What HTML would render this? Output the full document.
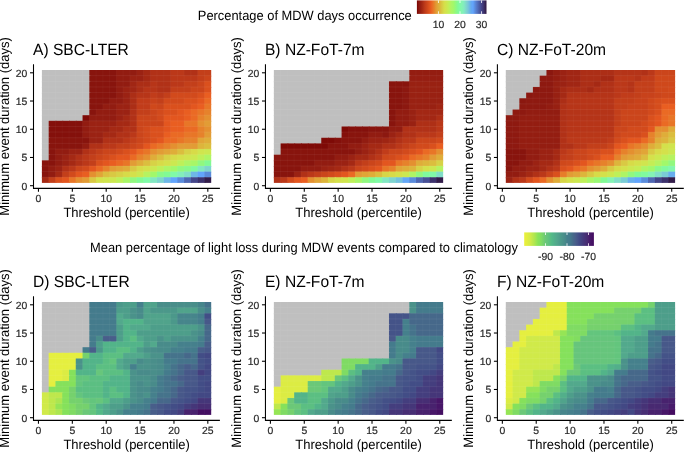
<!DOCTYPE html><html><head><meta charset="utf-8"><style>html,body{margin:0;padding:0;background:#fff;width:685px;height:452px;overflow:hidden}svg{display:block;will-change:transform}text{text-rendering:geometricPrecision;font-family:"Liberation Sans",sans-serif}</style></head><body>
<svg width="685" height="452" viewBox="0 0 685 452">
<g>
<rect x="41.90" y="70.00" width="7.77" height="6.64" fill="#bfbfbf"/>
<rect x="48.67" y="70.00" width="7.77" height="6.64" fill="#bfbfbf"/>
<rect x="55.44" y="70.00" width="7.77" height="6.64" fill="#bfbfbf"/>
<rect x="62.22" y="70.00" width="7.77" height="6.64" fill="#bfbfbf"/>
<rect x="68.99" y="70.00" width="7.77" height="6.64" fill="#bfbfbf"/>
<rect x="75.76" y="70.00" width="7.77" height="6.64" fill="#bfbfbf"/>
<rect x="82.53" y="70.00" width="7.77" height="6.64" fill="#bfbfbf"/>
<rect x="89.30" y="70.00" width="7.77" height="6.64" fill="#88140d"/>
<rect x="96.08" y="70.00" width="7.77" height="6.64" fill="#88140d"/>
<rect x="102.85" y="70.00" width="7.77" height="6.64" fill="#88140d"/>
<rect x="109.62" y="70.00" width="7.77" height="6.64" fill="#88140d"/>
<rect x="116.39" y="70.00" width="7.77" height="6.64" fill="#921c11"/>
<rect x="123.16" y="70.00" width="7.77" height="6.64" fill="#921c11"/>
<rect x="129.94" y="70.00" width="7.77" height="6.64" fill="#921c11"/>
<rect x="136.71" y="70.00" width="7.77" height="6.64" fill="#9b2213"/>
<rect x="143.48" y="70.00" width="7.77" height="6.64" fill="#a52914"/>
<rect x="150.25" y="70.00" width="7.77" height="6.64" fill="#b13117"/>
<rect x="157.02" y="70.00" width="7.77" height="6.64" fill="#b13117"/>
<rect x="163.80" y="70.00" width="7.77" height="6.64" fill="#b13117"/>
<rect x="170.57" y="70.00" width="7.77" height="6.64" fill="#bb3819"/>
<rect x="177.34" y="70.00" width="7.77" height="6.64" fill="#bb3819"/>
<rect x="184.11" y="70.00" width="7.77" height="6.64" fill="#b13117"/>
<rect x="190.88" y="70.00" width="7.77" height="6.64" fill="#b13117"/>
<rect x="197.66" y="70.00" width="7.77" height="6.64" fill="#c33f1a"/>
<rect x="204.43" y="70.00" width="6.77" height="6.64" fill="#c33f1a"/>
<rect x="41.90" y="75.64" width="7.77" height="6.64" fill="#bfbfbf"/>
<rect x="48.67" y="75.64" width="7.77" height="6.64" fill="#bfbfbf"/>
<rect x="55.44" y="75.64" width="7.77" height="6.64" fill="#bfbfbf"/>
<rect x="62.22" y="75.64" width="7.77" height="6.64" fill="#bfbfbf"/>
<rect x="68.99" y="75.64" width="7.77" height="6.64" fill="#bfbfbf"/>
<rect x="75.76" y="75.64" width="7.77" height="6.64" fill="#bfbfbf"/>
<rect x="82.53" y="75.64" width="7.77" height="6.64" fill="#bfbfbf"/>
<rect x="89.30" y="75.64" width="7.77" height="6.64" fill="#88140d"/>
<rect x="96.08" y="75.64" width="7.77" height="6.64" fill="#88140d"/>
<rect x="102.85" y="75.64" width="7.77" height="6.64" fill="#88140d"/>
<rect x="109.62" y="75.64" width="7.77" height="6.64" fill="#88140d"/>
<rect x="116.39" y="75.64" width="7.77" height="6.64" fill="#921c11"/>
<rect x="123.16" y="75.64" width="7.77" height="6.64" fill="#921c11"/>
<rect x="129.94" y="75.64" width="7.77" height="6.64" fill="#9b2213"/>
<rect x="136.71" y="75.64" width="7.77" height="6.64" fill="#9b2213"/>
<rect x="143.48" y="75.64" width="7.77" height="6.64" fill="#a52914"/>
<rect x="150.25" y="75.64" width="7.77" height="6.64" fill="#b13117"/>
<rect x="157.02" y="75.64" width="7.77" height="6.64" fill="#b13117"/>
<rect x="163.80" y="75.64" width="7.77" height="6.64" fill="#b13117"/>
<rect x="170.57" y="75.64" width="7.77" height="6.64" fill="#bb3819"/>
<rect x="177.34" y="75.64" width="7.77" height="6.64" fill="#bb3819"/>
<rect x="184.11" y="75.64" width="7.77" height="6.64" fill="#bb3819"/>
<rect x="190.88" y="75.64" width="7.77" height="6.64" fill="#bb3819"/>
<rect x="197.66" y="75.64" width="7.77" height="6.64" fill="#c33f1a"/>
<rect x="204.43" y="75.64" width="6.77" height="6.64" fill="#cb451b"/>
<rect x="41.90" y="81.29" width="7.77" height="6.64" fill="#bfbfbf"/>
<rect x="48.67" y="81.29" width="7.77" height="6.64" fill="#bfbfbf"/>
<rect x="55.44" y="81.29" width="7.77" height="6.64" fill="#bfbfbf"/>
<rect x="62.22" y="81.29" width="7.77" height="6.64" fill="#bfbfbf"/>
<rect x="68.99" y="81.29" width="7.77" height="6.64" fill="#bfbfbf"/>
<rect x="75.76" y="81.29" width="7.77" height="6.64" fill="#bfbfbf"/>
<rect x="82.53" y="81.29" width="7.77" height="6.64" fill="#bfbfbf"/>
<rect x="89.30" y="81.29" width="7.77" height="6.64" fill="#88140d"/>
<rect x="96.08" y="81.29" width="7.77" height="6.64" fill="#88140d"/>
<rect x="102.85" y="81.29" width="7.77" height="6.64" fill="#88140d"/>
<rect x="109.62" y="81.29" width="7.77" height="6.64" fill="#88140d"/>
<rect x="116.39" y="81.29" width="7.77" height="6.64" fill="#921c11"/>
<rect x="123.16" y="81.29" width="7.77" height="6.64" fill="#921c11"/>
<rect x="129.94" y="81.29" width="7.77" height="6.64" fill="#a12614"/>
<rect x="136.71" y="81.29" width="7.77" height="6.64" fill="#ac2e16"/>
<rect x="143.48" y="81.29" width="7.77" height="6.64" fill="#ac2e16"/>
<rect x="150.25" y="81.29" width="7.77" height="6.64" fill="#b73518"/>
<rect x="157.02" y="81.29" width="7.77" height="6.64" fill="#b13117"/>
<rect x="163.80" y="81.29" width="7.77" height="6.64" fill="#b13117"/>
<rect x="170.57" y="81.29" width="7.77" height="6.64" fill="#bb3819"/>
<rect x="177.34" y="81.29" width="7.77" height="6.64" fill="#bb3819"/>
<rect x="184.11" y="81.29" width="7.77" height="6.64" fill="#c33f1a"/>
<rect x="190.88" y="81.29" width="7.77" height="6.64" fill="#c33f1a"/>
<rect x="197.66" y="81.29" width="7.77" height="6.64" fill="#cb451b"/>
<rect x="204.43" y="81.29" width="6.77" height="6.64" fill="#da501d"/>
<rect x="41.90" y="86.94" width="7.77" height="6.64" fill="#bfbfbf"/>
<rect x="48.67" y="86.94" width="7.77" height="6.64" fill="#bfbfbf"/>
<rect x="55.44" y="86.94" width="7.77" height="6.64" fill="#bfbfbf"/>
<rect x="62.22" y="86.94" width="7.77" height="6.64" fill="#bfbfbf"/>
<rect x="68.99" y="86.94" width="7.77" height="6.64" fill="#bfbfbf"/>
<rect x="75.76" y="86.94" width="7.77" height="6.64" fill="#bfbfbf"/>
<rect x="82.53" y="86.94" width="7.77" height="6.64" fill="#bfbfbf"/>
<rect x="89.30" y="86.94" width="7.77" height="6.64" fill="#88140d"/>
<rect x="96.08" y="86.94" width="7.77" height="6.64" fill="#88140d"/>
<rect x="102.85" y="86.94" width="7.77" height="6.64" fill="#88140d"/>
<rect x="109.62" y="86.94" width="7.77" height="6.64" fill="#88140d"/>
<rect x="116.39" y="86.94" width="7.77" height="6.64" fill="#921c11"/>
<rect x="123.16" y="86.94" width="7.77" height="6.64" fill="#9b2213"/>
<rect x="129.94" y="86.94" width="7.77" height="6.64" fill="#a12614"/>
<rect x="136.71" y="86.94" width="7.77" height="6.64" fill="#ac2e16"/>
<rect x="143.48" y="86.94" width="7.77" height="6.64" fill="#b73518"/>
<rect x="150.25" y="86.94" width="7.77" height="6.64" fill="#b73518"/>
<rect x="157.02" y="86.94" width="7.77" height="6.64" fill="#b13117"/>
<rect x="163.80" y="86.94" width="7.77" height="6.64" fill="#b13117"/>
<rect x="170.57" y="86.94" width="7.77" height="6.64" fill="#c33f1a"/>
<rect x="177.34" y="86.94" width="7.77" height="6.64" fill="#c33f1a"/>
<rect x="184.11" y="86.94" width="7.77" height="6.64" fill="#c33f1a"/>
<rect x="190.88" y="86.94" width="7.77" height="6.64" fill="#cb451b"/>
<rect x="197.66" y="86.94" width="7.77" height="6.64" fill="#cb451b"/>
<rect x="204.43" y="86.94" width="6.77" height="6.64" fill="#da501d"/>
<rect x="41.90" y="92.58" width="7.77" height="6.64" fill="#bfbfbf"/>
<rect x="48.67" y="92.58" width="7.77" height="6.64" fill="#bfbfbf"/>
<rect x="55.44" y="92.58" width="7.77" height="6.64" fill="#bfbfbf"/>
<rect x="62.22" y="92.58" width="7.77" height="6.64" fill="#bfbfbf"/>
<rect x="68.99" y="92.58" width="7.77" height="6.64" fill="#bfbfbf"/>
<rect x="75.76" y="92.58" width="7.77" height="6.64" fill="#bfbfbf"/>
<rect x="82.53" y="92.58" width="7.77" height="6.64" fill="#bfbfbf"/>
<rect x="89.30" y="92.58" width="7.77" height="6.64" fill="#88140d"/>
<rect x="96.08" y="92.58" width="7.77" height="6.64" fill="#88140d"/>
<rect x="102.85" y="92.58" width="7.77" height="6.64" fill="#88140d"/>
<rect x="109.62" y="92.58" width="7.77" height="6.64" fill="#88140d"/>
<rect x="116.39" y="92.58" width="7.77" height="6.64" fill="#921c11"/>
<rect x="123.16" y="92.58" width="7.77" height="6.64" fill="#9b2213"/>
<rect x="129.94" y="92.58" width="7.77" height="6.64" fill="#ac2e16"/>
<rect x="136.71" y="92.58" width="7.77" height="6.64" fill="#b73518"/>
<rect x="143.48" y="92.58" width="7.77" height="6.64" fill="#b73518"/>
<rect x="150.25" y="92.58" width="7.77" height="6.64" fill="#c13c1a"/>
<rect x="157.02" y="92.58" width="7.77" height="6.64" fill="#bb3819"/>
<rect x="163.80" y="92.58" width="7.77" height="6.64" fill="#c33f1a"/>
<rect x="170.57" y="92.58" width="7.77" height="6.64" fill="#d24a1c"/>
<rect x="177.34" y="92.58" width="7.77" height="6.64" fill="#d24a1c"/>
<rect x="184.11" y="92.58" width="7.77" height="6.64" fill="#d24a1c"/>
<rect x="190.88" y="92.58" width="7.77" height="6.64" fill="#d24a1c"/>
<rect x="197.66" y="92.58" width="7.77" height="6.64" fill="#da501d"/>
<rect x="204.43" y="92.58" width="6.77" height="6.64" fill="#e95e21"/>
<rect x="41.90" y="98.22" width="7.77" height="6.64" fill="#bfbfbf"/>
<rect x="48.67" y="98.22" width="7.77" height="6.64" fill="#bfbfbf"/>
<rect x="55.44" y="98.22" width="7.77" height="6.64" fill="#bfbfbf"/>
<rect x="62.22" y="98.22" width="7.77" height="6.64" fill="#bfbfbf"/>
<rect x="68.99" y="98.22" width="7.77" height="6.64" fill="#bfbfbf"/>
<rect x="75.76" y="98.22" width="7.77" height="6.64" fill="#bfbfbf"/>
<rect x="82.53" y="98.22" width="7.77" height="6.64" fill="#bfbfbf"/>
<rect x="89.30" y="98.22" width="7.77" height="6.64" fill="#88140d"/>
<rect x="96.08" y="98.22" width="7.77" height="6.64" fill="#88140d"/>
<rect x="102.85" y="98.22" width="7.77" height="6.64" fill="#88140d"/>
<rect x="109.62" y="98.22" width="7.77" height="6.64" fill="#921c11"/>
<rect x="116.39" y="98.22" width="7.77" height="6.64" fill="#921c11"/>
<rect x="123.16" y="98.22" width="7.77" height="6.64" fill="#9b2213"/>
<rect x="129.94" y="98.22" width="7.77" height="6.64" fill="#ac2e16"/>
<rect x="136.71" y="98.22" width="7.77" height="6.64" fill="#c13c1a"/>
<rect x="143.48" y="98.22" width="7.77" height="6.64" fill="#c13c1a"/>
<rect x="150.25" y="98.22" width="7.77" height="6.64" fill="#c8421b"/>
<rect x="157.02" y="98.22" width="7.77" height="6.64" fill="#c33f1a"/>
<rect x="163.80" y="98.22" width="7.77" height="6.64" fill="#d24a1c"/>
<rect x="170.57" y="98.22" width="7.77" height="6.64" fill="#d24a1c"/>
<rect x="177.34" y="98.22" width="7.77" height="6.64" fill="#d24a1c"/>
<rect x="184.11" y="98.22" width="7.77" height="6.64" fill="#da501d"/>
<rect x="190.88" y="98.22" width="7.77" height="6.64" fill="#da501d"/>
<rect x="197.66" y="98.22" width="7.77" height="6.64" fill="#e3561f"/>
<rect x="204.43" y="98.22" width="6.77" height="6.64" fill="#ea6a24"/>
<rect x="41.90" y="103.87" width="7.77" height="6.64" fill="#bfbfbf"/>
<rect x="48.67" y="103.87" width="7.77" height="6.64" fill="#bfbfbf"/>
<rect x="55.44" y="103.87" width="7.77" height="6.64" fill="#bfbfbf"/>
<rect x="62.22" y="103.87" width="7.77" height="6.64" fill="#bfbfbf"/>
<rect x="68.99" y="103.87" width="7.77" height="6.64" fill="#bfbfbf"/>
<rect x="75.76" y="103.87" width="7.77" height="6.64" fill="#bfbfbf"/>
<rect x="82.53" y="103.87" width="7.77" height="6.64" fill="#bfbfbf"/>
<rect x="89.30" y="103.87" width="7.77" height="6.64" fill="#88140d"/>
<rect x="96.08" y="103.87" width="7.77" height="6.64" fill="#88140d"/>
<rect x="102.85" y="103.87" width="7.77" height="6.64" fill="#921c11"/>
<rect x="109.62" y="103.87" width="7.77" height="6.64" fill="#921c11"/>
<rect x="116.39" y="103.87" width="7.77" height="6.64" fill="#9b2213"/>
<rect x="123.16" y="103.87" width="7.77" height="6.64" fill="#9b2213"/>
<rect x="129.94" y="103.87" width="7.77" height="6.64" fill="#ac2e16"/>
<rect x="136.71" y="103.87" width="7.77" height="6.64" fill="#c13c1a"/>
<rect x="143.48" y="103.87" width="7.77" height="6.64" fill="#c13c1a"/>
<rect x="150.25" y="103.87" width="7.77" height="6.64" fill="#cf481b"/>
<rect x="157.02" y="103.87" width="7.77" height="6.64" fill="#cb451b"/>
<rect x="163.80" y="103.87" width="7.77" height="6.64" fill="#da501d"/>
<rect x="170.57" y="103.87" width="7.77" height="6.64" fill="#da501d"/>
<rect x="177.34" y="103.87" width="7.77" height="6.64" fill="#da501d"/>
<rect x="184.11" y="103.87" width="7.77" height="6.64" fill="#da501d"/>
<rect x="190.88" y="103.87" width="7.77" height="6.64" fill="#e3561f"/>
<rect x="197.66" y="103.87" width="7.77" height="6.64" fill="#e95e21"/>
<rect x="204.43" y="103.87" width="6.77" height="6.64" fill="#e87627"/>
<rect x="41.90" y="109.52" width="7.77" height="6.64" fill="#bfbfbf"/>
<rect x="48.67" y="109.52" width="7.77" height="6.64" fill="#bfbfbf"/>
<rect x="55.44" y="109.52" width="7.77" height="6.64" fill="#bfbfbf"/>
<rect x="62.22" y="109.52" width="7.77" height="6.64" fill="#bfbfbf"/>
<rect x="68.99" y="109.52" width="7.77" height="6.64" fill="#bfbfbf"/>
<rect x="75.76" y="109.52" width="7.77" height="6.64" fill="#bfbfbf"/>
<rect x="82.53" y="109.52" width="7.77" height="6.64" fill="#bfbfbf"/>
<rect x="89.30" y="109.52" width="7.77" height="6.64" fill="#88140d"/>
<rect x="96.08" y="109.52" width="7.77" height="6.64" fill="#921c11"/>
<rect x="102.85" y="109.52" width="7.77" height="6.64" fill="#921c11"/>
<rect x="109.62" y="109.52" width="7.77" height="6.64" fill="#921c11"/>
<rect x="116.39" y="109.52" width="7.77" height="6.64" fill="#9b2213"/>
<rect x="123.16" y="109.52" width="7.77" height="6.64" fill="#9b2213"/>
<rect x="129.94" y="109.52" width="7.77" height="6.64" fill="#b13117"/>
<rect x="136.71" y="109.52" width="7.77" height="6.64" fill="#c33f1a"/>
<rect x="143.48" y="109.52" width="7.77" height="6.64" fill="#c33f1a"/>
<rect x="150.25" y="109.52" width="7.77" height="6.64" fill="#cb451b"/>
<rect x="157.02" y="109.52" width="7.77" height="6.64" fill="#d24a1c"/>
<rect x="163.80" y="109.52" width="7.77" height="6.64" fill="#da501d"/>
<rect x="170.57" y="109.52" width="7.77" height="6.64" fill="#da501d"/>
<rect x="177.34" y="109.52" width="7.77" height="6.64" fill="#e3561f"/>
<rect x="184.11" y="109.52" width="7.77" height="6.64" fill="#e95e21"/>
<rect x="190.88" y="109.52" width="7.77" height="6.64" fill="#ea6a24"/>
<rect x="197.66" y="109.52" width="7.77" height="6.64" fill="#e87627"/>
<rect x="204.43" y="109.52" width="6.77" height="6.64" fill="#e6822b"/>
<rect x="41.90" y="115.16" width="7.77" height="6.64" fill="#bfbfbf"/>
<rect x="48.67" y="115.16" width="7.77" height="6.64" fill="#bfbfbf"/>
<rect x="55.44" y="115.16" width="7.77" height="6.64" fill="#bfbfbf"/>
<rect x="62.22" y="115.16" width="7.77" height="6.64" fill="#bfbfbf"/>
<rect x="68.99" y="115.16" width="7.77" height="6.64" fill="#bfbfbf"/>
<rect x="75.76" y="115.16" width="7.77" height="6.64" fill="#bfbfbf"/>
<rect x="82.53" y="115.16" width="7.77" height="6.64" fill="#7e0a06"/>
<rect x="89.30" y="115.16" width="7.77" height="6.64" fill="#921c11"/>
<rect x="96.08" y="115.16" width="7.77" height="6.64" fill="#921c11"/>
<rect x="102.85" y="115.16" width="7.77" height="6.64" fill="#921c11"/>
<rect x="109.62" y="115.16" width="7.77" height="6.64" fill="#921c11"/>
<rect x="116.39" y="115.16" width="7.77" height="6.64" fill="#9b2213"/>
<rect x="123.16" y="115.16" width="7.77" height="6.64" fill="#a52914"/>
<rect x="129.94" y="115.16" width="7.77" height="6.64" fill="#b13117"/>
<rect x="136.71" y="115.16" width="7.77" height="6.64" fill="#cb451b"/>
<rect x="143.48" y="115.16" width="7.77" height="6.64" fill="#cb451b"/>
<rect x="150.25" y="115.16" width="7.77" height="6.64" fill="#cb451b"/>
<rect x="157.02" y="115.16" width="7.77" height="6.64" fill="#d24a1c"/>
<rect x="163.80" y="115.16" width="7.77" height="6.64" fill="#e3561f"/>
<rect x="170.57" y="115.16" width="7.77" height="6.64" fill="#e3561f"/>
<rect x="177.34" y="115.16" width="7.77" height="6.64" fill="#e3561f"/>
<rect x="184.11" y="115.16" width="7.77" height="6.64" fill="#e95e21"/>
<rect x="190.88" y="115.16" width="7.77" height="6.64" fill="#ea6a24"/>
<rect x="197.66" y="115.16" width="7.77" height="6.64" fill="#e6822b"/>
<rect x="204.43" y="115.16" width="6.77" height="6.64" fill="#e49030"/>
<rect x="41.90" y="120.80" width="7.77" height="6.64" fill="#bfbfbf"/>
<rect x="48.67" y="120.80" width="7.77" height="6.64" fill="#84100b"/>
<rect x="55.44" y="120.80" width="7.77" height="6.64" fill="#84100b"/>
<rect x="62.22" y="120.80" width="7.77" height="6.64" fill="#84100b"/>
<rect x="68.99" y="120.80" width="7.77" height="6.64" fill="#84100b"/>
<rect x="75.76" y="120.80" width="7.77" height="6.64" fill="#84100b"/>
<rect x="82.53" y="120.80" width="7.77" height="6.64" fill="#921c11"/>
<rect x="89.30" y="120.80" width="7.77" height="6.64" fill="#9b2213"/>
<rect x="96.08" y="120.80" width="7.77" height="6.64" fill="#9b2213"/>
<rect x="102.85" y="120.80" width="7.77" height="6.64" fill="#9b2213"/>
<rect x="109.62" y="120.80" width="7.77" height="6.64" fill="#9b2213"/>
<rect x="116.39" y="120.80" width="7.77" height="6.64" fill="#a52914"/>
<rect x="123.16" y="120.80" width="7.77" height="6.64" fill="#a52914"/>
<rect x="129.94" y="120.80" width="7.77" height="6.64" fill="#b13117"/>
<rect x="136.71" y="120.80" width="7.77" height="6.64" fill="#cb451b"/>
<rect x="143.48" y="120.80" width="7.77" height="6.64" fill="#cb451b"/>
<rect x="150.25" y="120.80" width="7.77" height="6.64" fill="#cb451b"/>
<rect x="157.02" y="120.80" width="7.77" height="6.64" fill="#cb451b"/>
<rect x="163.80" y="120.80" width="7.77" height="6.64" fill="#e3561f"/>
<rect x="170.57" y="120.80" width="7.77" height="6.64" fill="#e95e21"/>
<rect x="177.34" y="120.80" width="7.77" height="6.64" fill="#e95e21"/>
<rect x="184.11" y="120.80" width="7.77" height="6.64" fill="#e87627"/>
<rect x="190.88" y="120.80" width="7.77" height="6.64" fill="#e87627"/>
<rect x="197.66" y="120.80" width="7.77" height="6.64" fill="#e49030"/>
<rect x="204.43" y="120.80" width="6.77" height="6.64" fill="#e29c35"/>
<rect x="41.90" y="126.45" width="7.77" height="6.64" fill="#bfbfbf"/>
<rect x="48.67" y="126.45" width="7.77" height="6.64" fill="#84100b"/>
<rect x="55.44" y="126.45" width="7.77" height="6.64" fill="#84100b"/>
<rect x="62.22" y="126.45" width="7.77" height="6.64" fill="#84100b"/>
<rect x="68.99" y="126.45" width="7.77" height="6.64" fill="#84100b"/>
<rect x="75.76" y="126.45" width="7.77" height="6.64" fill="#84100b"/>
<rect x="82.53" y="126.45" width="7.77" height="6.64" fill="#921c11"/>
<rect x="89.30" y="126.45" width="7.77" height="6.64" fill="#9b2213"/>
<rect x="96.08" y="126.45" width="7.77" height="6.64" fill="#9b2213"/>
<rect x="102.85" y="126.45" width="7.77" height="6.64" fill="#9b2213"/>
<rect x="109.62" y="126.45" width="7.77" height="6.64" fill="#a52914"/>
<rect x="116.39" y="126.45" width="7.77" height="6.64" fill="#a52914"/>
<rect x="123.16" y="126.45" width="7.77" height="6.64" fill="#b13117"/>
<rect x="129.94" y="126.45" width="7.77" height="6.64" fill="#b13117"/>
<rect x="136.71" y="126.45" width="7.77" height="6.64" fill="#cb451b"/>
<rect x="143.48" y="126.45" width="7.77" height="6.64" fill="#d24a1c"/>
<rect x="150.25" y="126.45" width="7.77" height="6.64" fill="#da501d"/>
<rect x="157.02" y="126.45" width="7.77" height="6.64" fill="#da501d"/>
<rect x="163.80" y="126.45" width="7.77" height="6.64" fill="#e3561f"/>
<rect x="170.57" y="126.45" width="7.77" height="6.64" fill="#e95e21"/>
<rect x="177.34" y="126.45" width="7.77" height="6.64" fill="#e95e21"/>
<rect x="184.11" y="126.45" width="7.77" height="6.64" fill="#ea6a24"/>
<rect x="190.88" y="126.45" width="7.77" height="6.64" fill="#ea6a24"/>
<rect x="197.66" y="126.45" width="7.77" height="6.64" fill="#e6822b"/>
<rect x="204.43" y="126.45" width="6.77" height="6.64" fill="#e49030"/>
<rect x="41.90" y="132.09" width="7.77" height="6.64" fill="#bfbfbf"/>
<rect x="48.67" y="132.09" width="7.77" height="6.64" fill="#84100b"/>
<rect x="55.44" y="132.09" width="7.77" height="6.64" fill="#84100b"/>
<rect x="62.22" y="132.09" width="7.77" height="6.64" fill="#84100b"/>
<rect x="68.99" y="132.09" width="7.77" height="6.64" fill="#84100b"/>
<rect x="75.76" y="132.09" width="7.77" height="6.64" fill="#84100b"/>
<rect x="82.53" y="132.09" width="7.77" height="6.64" fill="#921c11"/>
<rect x="89.30" y="132.09" width="7.77" height="6.64" fill="#9b2213"/>
<rect x="96.08" y="132.09" width="7.77" height="6.64" fill="#9b2213"/>
<rect x="102.85" y="132.09" width="7.77" height="6.64" fill="#a52914"/>
<rect x="109.62" y="132.09" width="7.77" height="6.64" fill="#a52914"/>
<rect x="116.39" y="132.09" width="7.77" height="6.64" fill="#b13117"/>
<rect x="123.16" y="132.09" width="7.77" height="6.64" fill="#b13117"/>
<rect x="129.94" y="132.09" width="7.77" height="6.64" fill="#bb3819"/>
<rect x="136.71" y="132.09" width="7.77" height="6.64" fill="#cb451b"/>
<rect x="143.48" y="132.09" width="7.77" height="6.64" fill="#d24a1c"/>
<rect x="150.25" y="132.09" width="7.77" height="6.64" fill="#da501d"/>
<rect x="157.02" y="132.09" width="7.77" height="6.64" fill="#da501d"/>
<rect x="163.80" y="132.09" width="7.77" height="6.64" fill="#e95e21"/>
<rect x="170.57" y="132.09" width="7.77" height="6.64" fill="#ea6a24"/>
<rect x="177.34" y="132.09" width="7.77" height="6.64" fill="#ea6a24"/>
<rect x="184.11" y="132.09" width="7.77" height="6.64" fill="#e87627"/>
<rect x="190.88" y="132.09" width="7.77" height="6.64" fill="#e87627"/>
<rect x="197.66" y="132.09" width="7.77" height="6.64" fill="#e6822b"/>
<rect x="204.43" y="132.09" width="6.77" height="6.64" fill="#e29c35"/>
<rect x="41.90" y="137.74" width="7.77" height="6.64" fill="#bfbfbf"/>
<rect x="48.67" y="137.74" width="7.77" height="6.64" fill="#88140d"/>
<rect x="55.44" y="137.74" width="7.77" height="6.64" fill="#88140d"/>
<rect x="62.22" y="137.74" width="7.77" height="6.64" fill="#88140d"/>
<rect x="68.99" y="137.74" width="7.77" height="6.64" fill="#88140d"/>
<rect x="75.76" y="137.74" width="7.77" height="6.64" fill="#88140d"/>
<rect x="82.53" y="137.74" width="7.77" height="6.64" fill="#88140d"/>
<rect x="89.30" y="137.74" width="7.77" height="6.64" fill="#9b2213"/>
<rect x="96.08" y="137.74" width="7.77" height="6.64" fill="#9b2213"/>
<rect x="102.85" y="137.74" width="7.77" height="6.64" fill="#b13117"/>
<rect x="109.62" y="137.74" width="7.77" height="6.64" fill="#b13117"/>
<rect x="116.39" y="137.74" width="7.77" height="6.64" fill="#b13117"/>
<rect x="123.16" y="137.74" width="7.77" height="6.64" fill="#bb3819"/>
<rect x="129.94" y="137.74" width="7.77" height="6.64" fill="#c33f1a"/>
<rect x="136.71" y="137.74" width="7.77" height="6.64" fill="#cb451b"/>
<rect x="143.48" y="137.74" width="7.77" height="6.64" fill="#d24a1c"/>
<rect x="150.25" y="137.74" width="7.77" height="6.64" fill="#da501d"/>
<rect x="157.02" y="137.74" width="7.77" height="6.64" fill="#e3561f"/>
<rect x="163.80" y="137.74" width="7.77" height="6.64" fill="#ea6a24"/>
<rect x="170.57" y="137.74" width="7.77" height="6.64" fill="#ea6a24"/>
<rect x="177.34" y="137.74" width="7.77" height="6.64" fill="#e87627"/>
<rect x="184.11" y="137.74" width="7.77" height="6.64" fill="#e6822b"/>
<rect x="190.88" y="137.74" width="7.77" height="6.64" fill="#e6822b"/>
<rect x="197.66" y="137.74" width="7.77" height="6.64" fill="#e1a537"/>
<rect x="204.43" y="137.74" width="6.77" height="6.64" fill="#dfad39"/>
<rect x="41.90" y="143.38" width="7.77" height="6.64" fill="#bfbfbf"/>
<rect x="48.67" y="143.38" width="7.77" height="6.64" fill="#88140d"/>
<rect x="55.44" y="143.38" width="7.77" height="6.64" fill="#88140d"/>
<rect x="62.22" y="143.38" width="7.77" height="6.64" fill="#88140d"/>
<rect x="68.99" y="143.38" width="7.77" height="6.64" fill="#88140d"/>
<rect x="75.76" y="143.38" width="7.77" height="6.64" fill="#88140d"/>
<rect x="82.53" y="143.38" width="7.77" height="6.64" fill="#921c11"/>
<rect x="89.30" y="143.38" width="7.77" height="6.64" fill="#b13117"/>
<rect x="96.08" y="143.38" width="7.77" height="6.64" fill="#b13117"/>
<rect x="102.85" y="143.38" width="7.77" height="6.64" fill="#bb3819"/>
<rect x="109.62" y="143.38" width="7.77" height="6.64" fill="#bb3819"/>
<rect x="116.39" y="143.38" width="7.77" height="6.64" fill="#c33f1a"/>
<rect x="123.16" y="143.38" width="7.77" height="6.64" fill="#c33f1a"/>
<rect x="129.94" y="143.38" width="7.77" height="6.64" fill="#cb451b"/>
<rect x="136.71" y="143.38" width="7.77" height="6.64" fill="#d24a1c"/>
<rect x="143.48" y="143.38" width="7.77" height="6.64" fill="#e3561f"/>
<rect x="150.25" y="143.38" width="7.77" height="6.64" fill="#ea6a24"/>
<rect x="157.02" y="143.38" width="7.77" height="6.64" fill="#e87627"/>
<rect x="163.80" y="143.38" width="7.77" height="6.64" fill="#e6822b"/>
<rect x="170.57" y="143.38" width="7.77" height="6.64" fill="#e49030"/>
<rect x="177.34" y="143.38" width="7.77" height="6.64" fill="#e29c35"/>
<rect x="184.11" y="143.38" width="7.77" height="6.64" fill="#e29c35"/>
<rect x="190.88" y="143.38" width="7.77" height="6.64" fill="#e29c35"/>
<rect x="197.66" y="143.38" width="7.77" height="6.64" fill="#ddb53b"/>
<rect x="204.43" y="143.38" width="6.77" height="6.64" fill="#dbbe3e"/>
<rect x="41.90" y="149.03" width="7.77" height="6.64" fill="#bfbfbf"/>
<rect x="48.67" y="149.03" width="7.77" height="6.64" fill="#88140d"/>
<rect x="55.44" y="149.03" width="7.77" height="6.64" fill="#921c11"/>
<rect x="62.22" y="149.03" width="7.77" height="6.64" fill="#921c11"/>
<rect x="68.99" y="149.03" width="7.77" height="6.64" fill="#9b2213"/>
<rect x="75.76" y="149.03" width="7.77" height="6.64" fill="#9b2213"/>
<rect x="82.53" y="149.03" width="7.77" height="6.64" fill="#b13117"/>
<rect x="89.30" y="149.03" width="7.77" height="6.64" fill="#bb3819"/>
<rect x="96.08" y="149.03" width="7.77" height="6.64" fill="#c33f1a"/>
<rect x="102.85" y="149.03" width="7.77" height="6.64" fill="#cb451b"/>
<rect x="109.62" y="149.03" width="7.77" height="6.64" fill="#cb451b"/>
<rect x="116.39" y="149.03" width="7.77" height="6.64" fill="#d24a1c"/>
<rect x="123.16" y="149.03" width="7.77" height="6.64" fill="#da501d"/>
<rect x="129.94" y="149.03" width="7.77" height="6.64" fill="#e3561f"/>
<rect x="136.71" y="149.03" width="7.77" height="6.64" fill="#ea6a24"/>
<rect x="143.48" y="149.03" width="7.77" height="6.64" fill="#e87627"/>
<rect x="150.25" y="149.03" width="7.77" height="6.64" fill="#e49030"/>
<rect x="157.02" y="149.03" width="7.77" height="6.64" fill="#e29c35"/>
<rect x="163.80" y="149.03" width="7.77" height="6.64" fill="#e1a537"/>
<rect x="170.57" y="149.03" width="7.77" height="6.64" fill="#dfad39"/>
<rect x="177.34" y="149.03" width="7.77" height="6.64" fill="#dbbe3e"/>
<rect x="184.11" y="149.03" width="7.77" height="6.64" fill="#d7d246"/>
<rect x="190.88" y="149.03" width="7.77" height="6.64" fill="#d7db48"/>
<rect x="197.66" y="149.03" width="7.77" height="6.64" fill="#d0e54e"/>
<rect x="204.43" y="149.03" width="6.77" height="6.64" fill="#cce850"/>
<rect x="41.90" y="154.68" width="7.77" height="6.64" fill="#bfbfbf"/>
<rect x="48.67" y="154.68" width="7.77" height="6.64" fill="#88140d"/>
<rect x="55.44" y="154.68" width="7.77" height="6.64" fill="#921c11"/>
<rect x="62.22" y="154.68" width="7.77" height="6.64" fill="#9b2213"/>
<rect x="68.99" y="154.68" width="7.77" height="6.64" fill="#a52914"/>
<rect x="75.76" y="154.68" width="7.77" height="6.64" fill="#b13117"/>
<rect x="82.53" y="154.68" width="7.77" height="6.64" fill="#bb3819"/>
<rect x="89.30" y="154.68" width="7.77" height="6.64" fill="#c33f1a"/>
<rect x="96.08" y="154.68" width="7.77" height="6.64" fill="#cb451b"/>
<rect x="102.85" y="154.68" width="7.77" height="6.64" fill="#d24a1c"/>
<rect x="109.62" y="154.68" width="7.77" height="6.64" fill="#da501d"/>
<rect x="116.39" y="154.68" width="7.77" height="6.64" fill="#e3561f"/>
<rect x="123.16" y="154.68" width="7.77" height="6.64" fill="#e3561f"/>
<rect x="129.94" y="154.68" width="7.77" height="6.64" fill="#ea6a24"/>
<rect x="136.71" y="154.68" width="7.77" height="6.64" fill="#e6822b"/>
<rect x="143.48" y="154.68" width="7.77" height="6.64" fill="#e49030"/>
<rect x="150.25" y="154.68" width="7.77" height="6.64" fill="#dfad39"/>
<rect x="157.02" y="154.68" width="7.77" height="6.64" fill="#dbbe3e"/>
<rect x="163.80" y="154.68" width="7.77" height="6.64" fill="#d7d246"/>
<rect x="170.57" y="154.68" width="7.77" height="6.64" fill="#d7db48"/>
<rect x="177.34" y="154.68" width="7.77" height="6.64" fill="#d4e14b"/>
<rect x="184.11" y="154.68" width="7.77" height="6.64" fill="#d0e54e"/>
<rect x="190.88" y="154.68" width="7.77" height="6.64" fill="#cce850"/>
<rect x="197.66" y="154.68" width="7.77" height="6.64" fill="#bef059"/>
<rect x="204.43" y="154.68" width="6.77" height="6.64" fill="#aef565"/>
<rect x="41.90" y="160.32" width="7.77" height="6.64" fill="#88140d"/>
<rect x="48.67" y="160.32" width="7.77" height="6.64" fill="#88140d"/>
<rect x="55.44" y="160.32" width="7.77" height="6.64" fill="#921c11"/>
<rect x="62.22" y="160.32" width="7.77" height="6.64" fill="#9b2213"/>
<rect x="68.99" y="160.32" width="7.77" height="6.64" fill="#a52914"/>
<rect x="75.76" y="160.32" width="7.77" height="6.64" fill="#b13117"/>
<rect x="82.53" y="160.32" width="7.77" height="6.64" fill="#bb3819"/>
<rect x="89.30" y="160.32" width="7.77" height="6.64" fill="#c33f1a"/>
<rect x="96.08" y="160.32" width="7.77" height="6.64" fill="#da501d"/>
<rect x="102.85" y="160.32" width="7.77" height="6.64" fill="#e3561f"/>
<rect x="109.62" y="160.32" width="7.77" height="6.64" fill="#e95e21"/>
<rect x="116.39" y="160.32" width="7.77" height="6.64" fill="#ea6a24"/>
<rect x="123.16" y="160.32" width="7.77" height="6.64" fill="#e87627"/>
<rect x="129.94" y="160.32" width="7.77" height="6.64" fill="#e29c35"/>
<rect x="136.71" y="160.32" width="7.77" height="6.64" fill="#dfad39"/>
<rect x="143.48" y="160.32" width="7.77" height="6.64" fill="#dbbe3e"/>
<rect x="150.25" y="160.32" width="7.77" height="6.64" fill="#d7d246"/>
<rect x="157.02" y="160.32" width="7.77" height="6.64" fill="#d7db48"/>
<rect x="163.80" y="160.32" width="7.77" height="6.64" fill="#d4e14b"/>
<rect x="170.57" y="160.32" width="7.77" height="6.64" fill="#cce850"/>
<rect x="177.34" y="160.32" width="7.77" height="6.64" fill="#bef059"/>
<rect x="184.11" y="160.32" width="7.77" height="6.64" fill="#aef565"/>
<rect x="190.88" y="160.32" width="7.77" height="6.64" fill="#a8f667"/>
<rect x="197.66" y="160.32" width="7.77" height="6.64" fill="#91f87f"/>
<rect x="204.43" y="160.32" width="6.77" height="6.64" fill="#81fa94"/>
<rect x="41.90" y="165.96" width="7.77" height="6.64" fill="#88140d"/>
<rect x="48.67" y="165.96" width="7.77" height="6.64" fill="#921c11"/>
<rect x="55.44" y="165.96" width="7.77" height="6.64" fill="#9b2213"/>
<rect x="62.22" y="165.96" width="7.77" height="6.64" fill="#b13117"/>
<rect x="68.99" y="165.96" width="7.77" height="6.64" fill="#bb3819"/>
<rect x="75.76" y="165.96" width="7.77" height="6.64" fill="#cb451b"/>
<rect x="82.53" y="165.96" width="7.77" height="6.64" fill="#d24a1c"/>
<rect x="89.30" y="165.96" width="7.77" height="6.64" fill="#e3561f"/>
<rect x="96.08" y="165.96" width="7.77" height="6.64" fill="#ea6a24"/>
<rect x="102.85" y="165.96" width="7.77" height="6.64" fill="#e6822b"/>
<rect x="109.62" y="165.96" width="7.77" height="6.64" fill="#e29c35"/>
<rect x="116.39" y="165.96" width="7.77" height="6.64" fill="#e1a537"/>
<rect x="123.16" y="165.96" width="7.77" height="6.64" fill="#dfad39"/>
<rect x="129.94" y="165.96" width="7.77" height="6.64" fill="#d9c943"/>
<rect x="136.71" y="165.96" width="7.77" height="6.64" fill="#d7db48"/>
<rect x="143.48" y="165.96" width="7.77" height="6.64" fill="#d4e14b"/>
<rect x="150.25" y="165.96" width="7.77" height="6.64" fill="#cce850"/>
<rect x="157.02" y="165.96" width="7.77" height="6.64" fill="#bef059"/>
<rect x="163.80" y="165.96" width="7.77" height="6.64" fill="#aef565"/>
<rect x="170.57" y="165.96" width="7.77" height="6.64" fill="#a2f86a"/>
<rect x="177.34" y="165.96" width="7.77" height="6.64" fill="#91f87f"/>
<rect x="184.11" y="165.96" width="7.77" height="6.64" fill="#89f98a"/>
<rect x="190.88" y="165.96" width="7.77" height="6.64" fill="#80fa9e"/>
<rect x="197.66" y="165.96" width="7.77" height="6.64" fill="#82e7c2"/>
<rect x="204.43" y="165.96" width="6.77" height="6.64" fill="#7ed4cf"/>
<rect x="41.90" y="171.61" width="7.77" height="6.64" fill="#88140d"/>
<rect x="48.67" y="171.61" width="7.77" height="6.64" fill="#921c11"/>
<rect x="55.44" y="171.61" width="7.77" height="6.64" fill="#a52914"/>
<rect x="62.22" y="171.61" width="7.77" height="6.64" fill="#c33f1a"/>
<rect x="68.99" y="171.61" width="7.77" height="6.64" fill="#d24a1c"/>
<rect x="75.76" y="171.61" width="7.77" height="6.64" fill="#e3561f"/>
<rect x="82.53" y="171.61" width="7.77" height="6.64" fill="#e95e21"/>
<rect x="89.30" y="171.61" width="7.77" height="6.64" fill="#e49030"/>
<rect x="96.08" y="171.61" width="7.77" height="6.64" fill="#e1a537"/>
<rect x="102.85" y="171.61" width="7.77" height="6.64" fill="#dbbe3e"/>
<rect x="109.62" y="171.61" width="7.77" height="6.64" fill="#d9c943"/>
<rect x="116.39" y="171.61" width="7.77" height="6.64" fill="#d7d246"/>
<rect x="123.16" y="171.61" width="7.77" height="6.64" fill="#d7db48"/>
<rect x="129.94" y="171.61" width="7.77" height="6.64" fill="#d4e14b"/>
<rect x="136.71" y="171.61" width="7.77" height="6.64" fill="#cce850"/>
<rect x="143.48" y="171.61" width="7.77" height="6.64" fill="#b6f360"/>
<rect x="150.25" y="171.61" width="7.77" height="6.64" fill="#a2f86a"/>
<rect x="157.02" y="171.61" width="7.77" height="6.64" fill="#89f98a"/>
<rect x="163.80" y="171.61" width="7.77" height="6.64" fill="#81fa94"/>
<rect x="170.57" y="171.61" width="7.77" height="6.64" fill="#80faa8"/>
<rect x="177.34" y="171.61" width="7.77" height="6.64" fill="#83eebb"/>
<rect x="184.11" y="171.61" width="7.77" height="6.64" fill="#81dec8"/>
<rect x="190.88" y="171.61" width="7.77" height="6.64" fill="#6eb7e6"/>
<rect x="197.66" y="171.61" width="7.77" height="6.64" fill="#62a4fc"/>
<rect x="204.43" y="171.61" width="6.77" height="6.64" fill="#5a8bdb"/>
<rect x="41.90" y="177.25" width="7.77" height="5.64" fill="#a52914"/>
<rect x="48.67" y="177.25" width="7.77" height="5.64" fill="#c33f1a"/>
<rect x="55.44" y="177.25" width="7.77" height="5.64" fill="#da501d"/>
<rect x="62.22" y="177.25" width="7.77" height="5.64" fill="#e3561f"/>
<rect x="68.99" y="177.25" width="7.77" height="5.64" fill="#e87627"/>
<rect x="75.76" y="177.25" width="7.77" height="5.64" fill="#e49030"/>
<rect x="82.53" y="177.25" width="7.77" height="5.64" fill="#e29c35"/>
<rect x="89.30" y="177.25" width="7.77" height="5.64" fill="#d9c943"/>
<rect x="96.08" y="177.25" width="7.77" height="5.64" fill="#d4e14b"/>
<rect x="102.85" y="177.25" width="7.77" height="5.64" fill="#d0e54e"/>
<rect x="109.62" y="177.25" width="7.77" height="5.64" fill="#cce850"/>
<rect x="116.39" y="177.25" width="7.77" height="5.64" fill="#bef059"/>
<rect x="123.16" y="177.25" width="7.77" height="5.64" fill="#a8f667"/>
<rect x="129.94" y="177.25" width="7.77" height="5.64" fill="#91f87f"/>
<rect x="136.71" y="177.25" width="7.77" height="5.64" fill="#81fa94"/>
<rect x="143.48" y="177.25" width="7.77" height="5.64" fill="#80faa8"/>
<rect x="150.25" y="177.25" width="7.77" height="5.64" fill="#82e7c2"/>
<rect x="157.02" y="177.25" width="7.77" height="5.64" fill="#7ed4cf"/>
<rect x="163.80" y="177.25" width="7.77" height="5.64" fill="#6eb7e6"/>
<rect x="170.57" y="177.25" width="7.77" height="5.64" fill="#62a4fc"/>
<rect x="177.34" y="177.25" width="7.77" height="5.64" fill="#5a8bdb"/>
<rect x="184.11" y="177.25" width="7.77" height="5.64" fill="#4f67b2"/>
<rect x="190.88" y="177.25" width="7.77" height="5.64" fill="#444589"/>
<rect x="197.66" y="177.25" width="7.77" height="5.64" fill="#3d326d"/>
<rect x="204.43" y="177.25" width="6.77" height="5.64" fill="#331d4a"/>
</g>
<g stroke="#fff" fill="none">
<path stroke-opacity="0.065" stroke-width="1" d="M41.90 75.64H211.20M41.90 81.29H211.20M41.90 86.94H211.20M41.90 92.58H211.20M41.90 98.22H211.20M41.90 103.87H211.20M41.90 109.52H211.20M41.90 115.16H211.20M41.90 120.80H211.20M41.90 126.45H211.20M41.90 132.09H211.20M41.90 137.74H211.20M41.90 143.38H211.20M41.90 149.03H211.20M41.90 154.68H211.20M41.90 160.32H211.20M41.90 165.96H211.20M41.90 171.61H211.20M41.90 177.25H211.20"/>
<path stroke-opacity="0.035" stroke-width="1" d="M48.67 70.00V182.90M55.44 70.00V182.90M62.22 70.00V182.90M68.99 70.00V182.90M75.76 70.00V182.90M82.53 70.00V182.90M89.30 70.00V182.90M96.08 70.00V182.90M102.85 70.00V182.90M109.62 70.00V182.90M116.39 70.00V182.90M123.16 70.00V182.90M129.94 70.00V182.90M136.71 70.00V182.90M143.48 70.00V182.90M150.25 70.00V182.90M157.02 70.00V182.90M163.80 70.00V182.90M170.57 70.00V182.90M177.34 70.00V182.90M184.11 70.00V182.90M190.88 70.00V182.90M197.66 70.00V182.90M204.43 70.00V182.90"/>
</g>
<g stroke="#000" stroke-width="1.07" fill="none">
<path d="M33.50 64.20V188.40H219.90"/>
<path d="M30.00 185.70H33.50"/>
<path d="M30.00 157.47H33.50"/>
<path d="M30.00 129.25H33.50"/>
<path d="M30.00 101.02H33.50"/>
<path d="M30.00 72.80H33.50"/>
<path d="M38.45 188.40V191.70"/>
<path d="M72.33 188.40V191.70"/>
<path d="M106.20 188.40V191.70"/>
<path d="M140.07 188.40V191.70"/>
<path d="M173.95 188.40V191.70"/>
<path d="M207.82 188.40V191.70"/>
</g>
<g fill="#2a2a2a" stroke="#2a2a2a" stroke-width="0.2" font-size="10.40">
<text transform="translate(27.30 189.60) scale(1 1.0)" text-anchor="end">0</text>
<text transform="translate(27.30 161.38) scale(1 1.0)" text-anchor="end">5</text>
<text transform="translate(27.30 133.15) scale(1 1.0)" text-anchor="end">10</text>
<text transform="translate(27.30 104.92) scale(1 1.0)" text-anchor="end">15</text>
<text transform="translate(27.30 76.70) scale(1 1.0)" text-anchor="end">20</text>
<text transform="translate(38.45 201.60) scale(1 1.0)" text-anchor="middle">0</text>
<text transform="translate(72.33 201.60) scale(1 1.0)" text-anchor="middle">5</text>
<text transform="translate(106.20 201.60) scale(1 1.0)" text-anchor="middle">10</text>
<text transform="translate(140.07 201.60) scale(1 1.0)" text-anchor="middle">15</text>
<text transform="translate(173.95 201.60) scale(1 1.0)" text-anchor="middle">20</text>
<text transform="translate(207.82 201.60) scale(1 1.0)" text-anchor="middle">25</text>
</g>
<text transform="translate(126.60 217.30) scale(1 1.04)" font-size="13" text-anchor="middle" fill="#000">Threshold (percentile)</text>
<text transform="translate(9.40 126.40) rotate(-90) scale(1 1.04)" font-size="13" text-anchor="middle" fill="#000">Minimum event duration (days)</text>
<text transform="translate(33.00 54.90) scale(1 1.04)" font-size="15.6" fill="#000">A) SBC-LTER</text>
<g>
<rect x="273.85" y="70.00" width="7.77" height="6.64" fill="#bfbfbf"/>
<rect x="280.62" y="70.00" width="7.77" height="6.64" fill="#bfbfbf"/>
<rect x="287.39" y="70.00" width="7.77" height="6.64" fill="#bfbfbf"/>
<rect x="294.17" y="70.00" width="7.77" height="6.64" fill="#bfbfbf"/>
<rect x="300.94" y="70.00" width="7.77" height="6.64" fill="#bfbfbf"/>
<rect x="307.71" y="70.00" width="7.77" height="6.64" fill="#bfbfbf"/>
<rect x="314.48" y="70.00" width="7.77" height="6.64" fill="#bfbfbf"/>
<rect x="321.25" y="70.00" width="7.77" height="6.64" fill="#bfbfbf"/>
<rect x="328.03" y="70.00" width="7.77" height="6.64" fill="#bfbfbf"/>
<rect x="334.80" y="70.00" width="7.77" height="6.64" fill="#bfbfbf"/>
<rect x="341.57" y="70.00" width="7.77" height="6.64" fill="#bfbfbf"/>
<rect x="348.34" y="70.00" width="7.77" height="6.64" fill="#bfbfbf"/>
<rect x="355.11" y="70.00" width="7.77" height="6.64" fill="#bfbfbf"/>
<rect x="361.89" y="70.00" width="7.77" height="6.64" fill="#bfbfbf"/>
<rect x="368.66" y="70.00" width="7.77" height="6.64" fill="#bfbfbf"/>
<rect x="375.43" y="70.00" width="7.77" height="6.64" fill="#bfbfbf"/>
<rect x="382.20" y="70.00" width="7.77" height="6.64" fill="#bfbfbf"/>
<rect x="388.97" y="70.00" width="7.77" height="6.64" fill="#bfbfbf"/>
<rect x="395.75" y="70.00" width="7.77" height="6.64" fill="#bfbfbf"/>
<rect x="402.52" y="70.00" width="7.77" height="6.64" fill="#bfbfbf"/>
<rect x="409.29" y="70.00" width="7.77" height="6.64" fill="#941d11"/>
<rect x="416.06" y="70.00" width="7.77" height="6.64" fill="#941d11"/>
<rect x="422.83" y="70.00" width="7.77" height="6.64" fill="#941d11"/>
<rect x="429.61" y="70.00" width="7.77" height="6.64" fill="#941d11"/>
<rect x="436.38" y="70.00" width="6.77" height="6.64" fill="#941d11"/>
<rect x="273.85" y="75.64" width="7.77" height="6.64" fill="#bfbfbf"/>
<rect x="280.62" y="75.64" width="7.77" height="6.64" fill="#bfbfbf"/>
<rect x="287.39" y="75.64" width="7.77" height="6.64" fill="#bfbfbf"/>
<rect x="294.17" y="75.64" width="7.77" height="6.64" fill="#bfbfbf"/>
<rect x="300.94" y="75.64" width="7.77" height="6.64" fill="#bfbfbf"/>
<rect x="307.71" y="75.64" width="7.77" height="6.64" fill="#bfbfbf"/>
<rect x="314.48" y="75.64" width="7.77" height="6.64" fill="#bfbfbf"/>
<rect x="321.25" y="75.64" width="7.77" height="6.64" fill="#bfbfbf"/>
<rect x="328.03" y="75.64" width="7.77" height="6.64" fill="#bfbfbf"/>
<rect x="334.80" y="75.64" width="7.77" height="6.64" fill="#bfbfbf"/>
<rect x="341.57" y="75.64" width="7.77" height="6.64" fill="#bfbfbf"/>
<rect x="348.34" y="75.64" width="7.77" height="6.64" fill="#bfbfbf"/>
<rect x="355.11" y="75.64" width="7.77" height="6.64" fill="#bfbfbf"/>
<rect x="361.89" y="75.64" width="7.77" height="6.64" fill="#bfbfbf"/>
<rect x="368.66" y="75.64" width="7.77" height="6.64" fill="#bfbfbf"/>
<rect x="375.43" y="75.64" width="7.77" height="6.64" fill="#bfbfbf"/>
<rect x="382.20" y="75.64" width="7.77" height="6.64" fill="#bfbfbf"/>
<rect x="388.97" y="75.64" width="7.77" height="6.64" fill="#bfbfbf"/>
<rect x="395.75" y="75.64" width="7.77" height="6.64" fill="#bfbfbf"/>
<rect x="402.52" y="75.64" width="7.77" height="6.64" fill="#bfbfbf"/>
<rect x="409.29" y="75.64" width="7.77" height="6.64" fill="#961e12"/>
<rect x="416.06" y="75.64" width="7.77" height="6.64" fill="#961e12"/>
<rect x="422.83" y="75.64" width="7.77" height="6.64" fill="#961e12"/>
<rect x="429.61" y="75.64" width="7.77" height="6.64" fill="#961e12"/>
<rect x="436.38" y="75.64" width="6.77" height="6.64" fill="#961e12"/>
<rect x="273.85" y="81.29" width="7.77" height="6.64" fill="#bfbfbf"/>
<rect x="280.62" y="81.29" width="7.77" height="6.64" fill="#bfbfbf"/>
<rect x="287.39" y="81.29" width="7.77" height="6.64" fill="#bfbfbf"/>
<rect x="294.17" y="81.29" width="7.77" height="6.64" fill="#bfbfbf"/>
<rect x="300.94" y="81.29" width="7.77" height="6.64" fill="#bfbfbf"/>
<rect x="307.71" y="81.29" width="7.77" height="6.64" fill="#bfbfbf"/>
<rect x="314.48" y="81.29" width="7.77" height="6.64" fill="#bfbfbf"/>
<rect x="321.25" y="81.29" width="7.77" height="6.64" fill="#bfbfbf"/>
<rect x="328.03" y="81.29" width="7.77" height="6.64" fill="#bfbfbf"/>
<rect x="334.80" y="81.29" width="7.77" height="6.64" fill="#bfbfbf"/>
<rect x="341.57" y="81.29" width="7.77" height="6.64" fill="#bfbfbf"/>
<rect x="348.34" y="81.29" width="7.77" height="6.64" fill="#bfbfbf"/>
<rect x="355.11" y="81.29" width="7.77" height="6.64" fill="#bfbfbf"/>
<rect x="361.89" y="81.29" width="7.77" height="6.64" fill="#bfbfbf"/>
<rect x="368.66" y="81.29" width="7.77" height="6.64" fill="#bfbfbf"/>
<rect x="375.43" y="81.29" width="7.77" height="6.64" fill="#bfbfbf"/>
<rect x="382.20" y="81.29" width="7.77" height="6.64" fill="#bfbfbf"/>
<rect x="388.97" y="81.29" width="7.77" height="6.64" fill="#88140d"/>
<rect x="395.75" y="81.29" width="7.77" height="6.64" fill="#88140d"/>
<rect x="402.52" y="81.29" width="7.77" height="6.64" fill="#88140d"/>
<rect x="409.29" y="81.29" width="7.77" height="6.64" fill="#992112"/>
<rect x="416.06" y="81.29" width="7.77" height="6.64" fill="#992112"/>
<rect x="422.83" y="81.29" width="7.77" height="6.64" fill="#992112"/>
<rect x="429.61" y="81.29" width="7.77" height="6.64" fill="#992112"/>
<rect x="436.38" y="81.29" width="6.77" height="6.64" fill="#992112"/>
<rect x="273.85" y="86.94" width="7.77" height="6.64" fill="#bfbfbf"/>
<rect x="280.62" y="86.94" width="7.77" height="6.64" fill="#bfbfbf"/>
<rect x="287.39" y="86.94" width="7.77" height="6.64" fill="#bfbfbf"/>
<rect x="294.17" y="86.94" width="7.77" height="6.64" fill="#bfbfbf"/>
<rect x="300.94" y="86.94" width="7.77" height="6.64" fill="#bfbfbf"/>
<rect x="307.71" y="86.94" width="7.77" height="6.64" fill="#bfbfbf"/>
<rect x="314.48" y="86.94" width="7.77" height="6.64" fill="#bfbfbf"/>
<rect x="321.25" y="86.94" width="7.77" height="6.64" fill="#bfbfbf"/>
<rect x="328.03" y="86.94" width="7.77" height="6.64" fill="#bfbfbf"/>
<rect x="334.80" y="86.94" width="7.77" height="6.64" fill="#bfbfbf"/>
<rect x="341.57" y="86.94" width="7.77" height="6.64" fill="#bfbfbf"/>
<rect x="348.34" y="86.94" width="7.77" height="6.64" fill="#bfbfbf"/>
<rect x="355.11" y="86.94" width="7.77" height="6.64" fill="#bfbfbf"/>
<rect x="361.89" y="86.94" width="7.77" height="6.64" fill="#bfbfbf"/>
<rect x="368.66" y="86.94" width="7.77" height="6.64" fill="#bfbfbf"/>
<rect x="375.43" y="86.94" width="7.77" height="6.64" fill="#bfbfbf"/>
<rect x="382.20" y="86.94" width="7.77" height="6.64" fill="#bfbfbf"/>
<rect x="388.97" y="86.94" width="7.77" height="6.64" fill="#88140d"/>
<rect x="395.75" y="86.94" width="7.77" height="6.64" fill="#88140d"/>
<rect x="402.52" y="86.94" width="7.77" height="6.64" fill="#8c1810"/>
<rect x="409.29" y="86.94" width="7.77" height="6.64" fill="#992112"/>
<rect x="416.06" y="86.94" width="7.77" height="6.64" fill="#992112"/>
<rect x="422.83" y="86.94" width="7.77" height="6.64" fill="#992112"/>
<rect x="429.61" y="86.94" width="7.77" height="6.64" fill="#992112"/>
<rect x="436.38" y="86.94" width="6.77" height="6.64" fill="#992112"/>
<rect x="273.85" y="92.58" width="7.77" height="6.64" fill="#bfbfbf"/>
<rect x="280.62" y="92.58" width="7.77" height="6.64" fill="#bfbfbf"/>
<rect x="287.39" y="92.58" width="7.77" height="6.64" fill="#bfbfbf"/>
<rect x="294.17" y="92.58" width="7.77" height="6.64" fill="#bfbfbf"/>
<rect x="300.94" y="92.58" width="7.77" height="6.64" fill="#bfbfbf"/>
<rect x="307.71" y="92.58" width="7.77" height="6.64" fill="#bfbfbf"/>
<rect x="314.48" y="92.58" width="7.77" height="6.64" fill="#bfbfbf"/>
<rect x="321.25" y="92.58" width="7.77" height="6.64" fill="#bfbfbf"/>
<rect x="328.03" y="92.58" width="7.77" height="6.64" fill="#bfbfbf"/>
<rect x="334.80" y="92.58" width="7.77" height="6.64" fill="#bfbfbf"/>
<rect x="341.57" y="92.58" width="7.77" height="6.64" fill="#bfbfbf"/>
<rect x="348.34" y="92.58" width="7.77" height="6.64" fill="#bfbfbf"/>
<rect x="355.11" y="92.58" width="7.77" height="6.64" fill="#bfbfbf"/>
<rect x="361.89" y="92.58" width="7.77" height="6.64" fill="#bfbfbf"/>
<rect x="368.66" y="92.58" width="7.77" height="6.64" fill="#bfbfbf"/>
<rect x="375.43" y="92.58" width="7.77" height="6.64" fill="#bfbfbf"/>
<rect x="382.20" y="92.58" width="7.77" height="6.64" fill="#bfbfbf"/>
<rect x="388.97" y="92.58" width="7.77" height="6.64" fill="#88140d"/>
<rect x="395.75" y="92.58" width="7.77" height="6.64" fill="#88140d"/>
<rect x="402.52" y="92.58" width="7.77" height="6.64" fill="#8c1810"/>
<rect x="409.29" y="92.58" width="7.77" height="6.64" fill="#992112"/>
<rect x="416.06" y="92.58" width="7.77" height="6.64" fill="#992112"/>
<rect x="422.83" y="92.58" width="7.77" height="6.64" fill="#992112"/>
<rect x="429.61" y="92.58" width="7.77" height="6.64" fill="#992112"/>
<rect x="436.38" y="92.58" width="6.77" height="6.64" fill="#992112"/>
<rect x="273.85" y="98.22" width="7.77" height="6.64" fill="#bfbfbf"/>
<rect x="280.62" y="98.22" width="7.77" height="6.64" fill="#bfbfbf"/>
<rect x="287.39" y="98.22" width="7.77" height="6.64" fill="#bfbfbf"/>
<rect x="294.17" y="98.22" width="7.77" height="6.64" fill="#bfbfbf"/>
<rect x="300.94" y="98.22" width="7.77" height="6.64" fill="#bfbfbf"/>
<rect x="307.71" y="98.22" width="7.77" height="6.64" fill="#bfbfbf"/>
<rect x="314.48" y="98.22" width="7.77" height="6.64" fill="#bfbfbf"/>
<rect x="321.25" y="98.22" width="7.77" height="6.64" fill="#bfbfbf"/>
<rect x="328.03" y="98.22" width="7.77" height="6.64" fill="#bfbfbf"/>
<rect x="334.80" y="98.22" width="7.77" height="6.64" fill="#bfbfbf"/>
<rect x="341.57" y="98.22" width="7.77" height="6.64" fill="#bfbfbf"/>
<rect x="348.34" y="98.22" width="7.77" height="6.64" fill="#bfbfbf"/>
<rect x="355.11" y="98.22" width="7.77" height="6.64" fill="#bfbfbf"/>
<rect x="361.89" y="98.22" width="7.77" height="6.64" fill="#bfbfbf"/>
<rect x="368.66" y="98.22" width="7.77" height="6.64" fill="#bfbfbf"/>
<rect x="375.43" y="98.22" width="7.77" height="6.64" fill="#bfbfbf"/>
<rect x="382.20" y="98.22" width="7.77" height="6.64" fill="#bfbfbf"/>
<rect x="388.97" y="98.22" width="7.77" height="6.64" fill="#88140d"/>
<rect x="395.75" y="98.22" width="7.77" height="6.64" fill="#88140d"/>
<rect x="402.52" y="98.22" width="7.77" height="6.64" fill="#8c1810"/>
<rect x="409.29" y="98.22" width="7.77" height="6.64" fill="#992112"/>
<rect x="416.06" y="98.22" width="7.77" height="6.64" fill="#992112"/>
<rect x="422.83" y="98.22" width="7.77" height="6.64" fill="#992112"/>
<rect x="429.61" y="98.22" width="7.77" height="6.64" fill="#992112"/>
<rect x="436.38" y="98.22" width="6.77" height="6.64" fill="#992112"/>
<rect x="273.85" y="103.87" width="7.77" height="6.64" fill="#bfbfbf"/>
<rect x="280.62" y="103.87" width="7.77" height="6.64" fill="#bfbfbf"/>
<rect x="287.39" y="103.87" width="7.77" height="6.64" fill="#bfbfbf"/>
<rect x="294.17" y="103.87" width="7.77" height="6.64" fill="#bfbfbf"/>
<rect x="300.94" y="103.87" width="7.77" height="6.64" fill="#bfbfbf"/>
<rect x="307.71" y="103.87" width="7.77" height="6.64" fill="#bfbfbf"/>
<rect x="314.48" y="103.87" width="7.77" height="6.64" fill="#bfbfbf"/>
<rect x="321.25" y="103.87" width="7.77" height="6.64" fill="#bfbfbf"/>
<rect x="328.03" y="103.87" width="7.77" height="6.64" fill="#bfbfbf"/>
<rect x="334.80" y="103.87" width="7.77" height="6.64" fill="#bfbfbf"/>
<rect x="341.57" y="103.87" width="7.77" height="6.64" fill="#bfbfbf"/>
<rect x="348.34" y="103.87" width="7.77" height="6.64" fill="#bfbfbf"/>
<rect x="355.11" y="103.87" width="7.77" height="6.64" fill="#bfbfbf"/>
<rect x="361.89" y="103.87" width="7.77" height="6.64" fill="#bfbfbf"/>
<rect x="368.66" y="103.87" width="7.77" height="6.64" fill="#bfbfbf"/>
<rect x="375.43" y="103.87" width="7.77" height="6.64" fill="#bfbfbf"/>
<rect x="382.20" y="103.87" width="7.77" height="6.64" fill="#bfbfbf"/>
<rect x="388.97" y="103.87" width="7.77" height="6.64" fill="#88140d"/>
<rect x="395.75" y="103.87" width="7.77" height="6.64" fill="#88140d"/>
<rect x="402.52" y="103.87" width="7.77" height="6.64" fill="#8c1810"/>
<rect x="409.29" y="103.87" width="7.77" height="6.64" fill="#992112"/>
<rect x="416.06" y="103.87" width="7.77" height="6.64" fill="#992112"/>
<rect x="422.83" y="103.87" width="7.77" height="6.64" fill="#992112"/>
<rect x="429.61" y="103.87" width="7.77" height="6.64" fill="#992112"/>
<rect x="436.38" y="103.87" width="6.77" height="6.64" fill="#9f2513"/>
<rect x="273.85" y="109.52" width="7.77" height="6.64" fill="#bfbfbf"/>
<rect x="280.62" y="109.52" width="7.77" height="6.64" fill="#bfbfbf"/>
<rect x="287.39" y="109.52" width="7.77" height="6.64" fill="#bfbfbf"/>
<rect x="294.17" y="109.52" width="7.77" height="6.64" fill="#bfbfbf"/>
<rect x="300.94" y="109.52" width="7.77" height="6.64" fill="#bfbfbf"/>
<rect x="307.71" y="109.52" width="7.77" height="6.64" fill="#bfbfbf"/>
<rect x="314.48" y="109.52" width="7.77" height="6.64" fill="#bfbfbf"/>
<rect x="321.25" y="109.52" width="7.77" height="6.64" fill="#bfbfbf"/>
<rect x="328.03" y="109.52" width="7.77" height="6.64" fill="#bfbfbf"/>
<rect x="334.80" y="109.52" width="7.77" height="6.64" fill="#bfbfbf"/>
<rect x="341.57" y="109.52" width="7.77" height="6.64" fill="#bfbfbf"/>
<rect x="348.34" y="109.52" width="7.77" height="6.64" fill="#bfbfbf"/>
<rect x="355.11" y="109.52" width="7.77" height="6.64" fill="#bfbfbf"/>
<rect x="361.89" y="109.52" width="7.77" height="6.64" fill="#bfbfbf"/>
<rect x="368.66" y="109.52" width="7.77" height="6.64" fill="#bfbfbf"/>
<rect x="375.43" y="109.52" width="7.77" height="6.64" fill="#bfbfbf"/>
<rect x="382.20" y="109.52" width="7.77" height="6.64" fill="#bfbfbf"/>
<rect x="388.97" y="109.52" width="7.77" height="6.64" fill="#88140d"/>
<rect x="395.75" y="109.52" width="7.77" height="6.64" fill="#921c11"/>
<rect x="402.52" y="109.52" width="7.77" height="6.64" fill="#921c11"/>
<rect x="409.29" y="109.52" width="7.77" height="6.64" fill="#992112"/>
<rect x="416.06" y="109.52" width="7.77" height="6.64" fill="#a32714"/>
<rect x="422.83" y="109.52" width="7.77" height="6.64" fill="#a32714"/>
<rect x="429.61" y="109.52" width="7.77" height="6.64" fill="#a32714"/>
<rect x="436.38" y="109.52" width="6.77" height="6.64" fill="#a32714"/>
<rect x="273.85" y="115.16" width="7.77" height="6.64" fill="#bfbfbf"/>
<rect x="280.62" y="115.16" width="7.77" height="6.64" fill="#bfbfbf"/>
<rect x="287.39" y="115.16" width="7.77" height="6.64" fill="#bfbfbf"/>
<rect x="294.17" y="115.16" width="7.77" height="6.64" fill="#bfbfbf"/>
<rect x="300.94" y="115.16" width="7.77" height="6.64" fill="#bfbfbf"/>
<rect x="307.71" y="115.16" width="7.77" height="6.64" fill="#bfbfbf"/>
<rect x="314.48" y="115.16" width="7.77" height="6.64" fill="#bfbfbf"/>
<rect x="321.25" y="115.16" width="7.77" height="6.64" fill="#bfbfbf"/>
<rect x="328.03" y="115.16" width="7.77" height="6.64" fill="#bfbfbf"/>
<rect x="334.80" y="115.16" width="7.77" height="6.64" fill="#bfbfbf"/>
<rect x="341.57" y="115.16" width="7.77" height="6.64" fill="#bfbfbf"/>
<rect x="348.34" y="115.16" width="7.77" height="6.64" fill="#bfbfbf"/>
<rect x="355.11" y="115.16" width="7.77" height="6.64" fill="#bfbfbf"/>
<rect x="361.89" y="115.16" width="7.77" height="6.64" fill="#bfbfbf"/>
<rect x="368.66" y="115.16" width="7.77" height="6.64" fill="#bfbfbf"/>
<rect x="375.43" y="115.16" width="7.77" height="6.64" fill="#bfbfbf"/>
<rect x="382.20" y="115.16" width="7.77" height="6.64" fill="#bfbfbf"/>
<rect x="388.97" y="115.16" width="7.77" height="6.64" fill="#88140d"/>
<rect x="395.75" y="115.16" width="7.77" height="6.64" fill="#921c11"/>
<rect x="402.52" y="115.16" width="7.77" height="6.64" fill="#921c11"/>
<rect x="409.29" y="115.16" width="7.77" height="6.64" fill="#992112"/>
<rect x="416.06" y="115.16" width="7.77" height="6.64" fill="#a32714"/>
<rect x="422.83" y="115.16" width="7.77" height="6.64" fill="#a32714"/>
<rect x="429.61" y="115.16" width="7.77" height="6.64" fill="#a32714"/>
<rect x="436.38" y="115.16" width="6.77" height="6.64" fill="#ae2f16"/>
<rect x="273.85" y="120.80" width="7.77" height="6.64" fill="#bfbfbf"/>
<rect x="280.62" y="120.80" width="7.77" height="6.64" fill="#bfbfbf"/>
<rect x="287.39" y="120.80" width="7.77" height="6.64" fill="#bfbfbf"/>
<rect x="294.17" y="120.80" width="7.77" height="6.64" fill="#bfbfbf"/>
<rect x="300.94" y="120.80" width="7.77" height="6.64" fill="#bfbfbf"/>
<rect x="307.71" y="120.80" width="7.77" height="6.64" fill="#bfbfbf"/>
<rect x="314.48" y="120.80" width="7.77" height="6.64" fill="#bfbfbf"/>
<rect x="321.25" y="120.80" width="7.77" height="6.64" fill="#bfbfbf"/>
<rect x="328.03" y="120.80" width="7.77" height="6.64" fill="#bfbfbf"/>
<rect x="334.80" y="120.80" width="7.77" height="6.64" fill="#bfbfbf"/>
<rect x="341.57" y="120.80" width="7.77" height="6.64" fill="#bfbfbf"/>
<rect x="348.34" y="120.80" width="7.77" height="6.64" fill="#bfbfbf"/>
<rect x="355.11" y="120.80" width="7.77" height="6.64" fill="#bfbfbf"/>
<rect x="361.89" y="120.80" width="7.77" height="6.64" fill="#bfbfbf"/>
<rect x="368.66" y="120.80" width="7.77" height="6.64" fill="#bfbfbf"/>
<rect x="375.43" y="120.80" width="7.77" height="6.64" fill="#bfbfbf"/>
<rect x="382.20" y="120.80" width="7.77" height="6.64" fill="#bfbfbf"/>
<rect x="388.97" y="120.80" width="7.77" height="6.64" fill="#88140d"/>
<rect x="395.75" y="120.80" width="7.77" height="6.64" fill="#921c11"/>
<rect x="402.52" y="120.80" width="7.77" height="6.64" fill="#921c11"/>
<rect x="409.29" y="120.80" width="7.77" height="6.64" fill="#992112"/>
<rect x="416.06" y="120.80" width="7.77" height="6.64" fill="#ae2f16"/>
<rect x="422.83" y="120.80" width="7.77" height="6.64" fill="#ae2f16"/>
<rect x="429.61" y="120.80" width="7.77" height="6.64" fill="#ae2f16"/>
<rect x="436.38" y="120.80" width="6.77" height="6.64" fill="#b93718"/>
<rect x="273.85" y="126.45" width="7.77" height="6.64" fill="#bfbfbf"/>
<rect x="280.62" y="126.45" width="7.77" height="6.64" fill="#bfbfbf"/>
<rect x="287.39" y="126.45" width="7.77" height="6.64" fill="#bfbfbf"/>
<rect x="294.17" y="126.45" width="7.77" height="6.64" fill="#bfbfbf"/>
<rect x="300.94" y="126.45" width="7.77" height="6.64" fill="#bfbfbf"/>
<rect x="307.71" y="126.45" width="7.77" height="6.64" fill="#bfbfbf"/>
<rect x="314.48" y="126.45" width="7.77" height="6.64" fill="#bfbfbf"/>
<rect x="321.25" y="126.45" width="7.77" height="6.64" fill="#bfbfbf"/>
<rect x="328.03" y="126.45" width="7.77" height="6.64" fill="#bfbfbf"/>
<rect x="334.80" y="126.45" width="7.77" height="6.64" fill="#bfbfbf"/>
<rect x="341.57" y="126.45" width="7.77" height="6.64" fill="#7e0a06"/>
<rect x="348.34" y="126.45" width="7.77" height="6.64" fill="#84100b"/>
<rect x="355.11" y="126.45" width="7.77" height="6.64" fill="#84100b"/>
<rect x="361.89" y="126.45" width="7.77" height="6.64" fill="#84100b"/>
<rect x="368.66" y="126.45" width="7.77" height="6.64" fill="#88140d"/>
<rect x="375.43" y="126.45" width="7.77" height="6.64" fill="#88140d"/>
<rect x="382.20" y="126.45" width="7.77" height="6.64" fill="#88140d"/>
<rect x="388.97" y="126.45" width="7.77" height="6.64" fill="#921c11"/>
<rect x="395.75" y="126.45" width="7.77" height="6.64" fill="#921c11"/>
<rect x="402.52" y="126.45" width="7.77" height="6.64" fill="#b13117"/>
<rect x="409.29" y="126.45" width="7.77" height="6.64" fill="#b13117"/>
<rect x="416.06" y="126.45" width="7.77" height="6.64" fill="#b13117"/>
<rect x="422.83" y="126.45" width="7.77" height="6.64" fill="#b13117"/>
<rect x="429.61" y="126.45" width="7.77" height="6.64" fill="#b13117"/>
<rect x="436.38" y="126.45" width="6.77" height="6.64" fill="#bb3819"/>
<rect x="273.85" y="132.09" width="7.77" height="6.64" fill="#bfbfbf"/>
<rect x="280.62" y="132.09" width="7.77" height="6.64" fill="#bfbfbf"/>
<rect x="287.39" y="132.09" width="7.77" height="6.64" fill="#bfbfbf"/>
<rect x="294.17" y="132.09" width="7.77" height="6.64" fill="#bfbfbf"/>
<rect x="300.94" y="132.09" width="7.77" height="6.64" fill="#bfbfbf"/>
<rect x="307.71" y="132.09" width="7.77" height="6.64" fill="#bfbfbf"/>
<rect x="314.48" y="132.09" width="7.77" height="6.64" fill="#bfbfbf"/>
<rect x="321.25" y="132.09" width="7.77" height="6.64" fill="#bfbfbf"/>
<rect x="328.03" y="132.09" width="7.77" height="6.64" fill="#bfbfbf"/>
<rect x="334.80" y="132.09" width="7.77" height="6.64" fill="#bfbfbf"/>
<rect x="341.57" y="132.09" width="7.77" height="6.64" fill="#84100b"/>
<rect x="348.34" y="132.09" width="7.77" height="6.64" fill="#88140d"/>
<rect x="355.11" y="132.09" width="7.77" height="6.64" fill="#88140d"/>
<rect x="361.89" y="132.09" width="7.77" height="6.64" fill="#88140d"/>
<rect x="368.66" y="132.09" width="7.77" height="6.64" fill="#921c11"/>
<rect x="375.43" y="132.09" width="7.77" height="6.64" fill="#921c11"/>
<rect x="382.20" y="132.09" width="7.77" height="6.64" fill="#8c1810"/>
<rect x="388.97" y="132.09" width="7.77" height="6.64" fill="#9b2213"/>
<rect x="395.75" y="132.09" width="7.77" height="6.64" fill="#a52914"/>
<rect x="402.52" y="132.09" width="7.77" height="6.64" fill="#b13117"/>
<rect x="409.29" y="132.09" width="7.77" height="6.64" fill="#b13117"/>
<rect x="416.06" y="132.09" width="7.77" height="6.64" fill="#bb3819"/>
<rect x="422.83" y="132.09" width="7.77" height="6.64" fill="#bb3819"/>
<rect x="429.61" y="132.09" width="7.77" height="6.64" fill="#bb3819"/>
<rect x="436.38" y="132.09" width="6.77" height="6.64" fill="#c33f1a"/>
<rect x="273.85" y="137.74" width="7.77" height="6.64" fill="#bfbfbf"/>
<rect x="280.62" y="137.74" width="7.77" height="6.64" fill="#bfbfbf"/>
<rect x="287.39" y="137.74" width="7.77" height="6.64" fill="#bfbfbf"/>
<rect x="294.17" y="137.74" width="7.77" height="6.64" fill="#bfbfbf"/>
<rect x="300.94" y="137.74" width="7.77" height="6.64" fill="#bfbfbf"/>
<rect x="307.71" y="137.74" width="7.77" height="6.64" fill="#bfbfbf"/>
<rect x="314.48" y="137.74" width="7.77" height="6.64" fill="#bfbfbf"/>
<rect x="321.25" y="137.74" width="7.77" height="6.64" fill="#7e0a06"/>
<rect x="328.03" y="137.74" width="7.77" height="6.64" fill="#7e0a06"/>
<rect x="334.80" y="137.74" width="7.77" height="6.64" fill="#84100b"/>
<rect x="341.57" y="137.74" width="7.77" height="6.64" fill="#88140d"/>
<rect x="348.34" y="137.74" width="7.77" height="6.64" fill="#88140d"/>
<rect x="355.11" y="137.74" width="7.77" height="6.64" fill="#88140d"/>
<rect x="361.89" y="137.74" width="7.77" height="6.64" fill="#921c11"/>
<rect x="368.66" y="137.74" width="7.77" height="6.64" fill="#9b2213"/>
<rect x="375.43" y="137.74" width="7.77" height="6.64" fill="#9b2213"/>
<rect x="382.20" y="137.74" width="7.77" height="6.64" fill="#9f2513"/>
<rect x="388.97" y="137.74" width="7.77" height="6.64" fill="#a52914"/>
<rect x="395.75" y="137.74" width="7.77" height="6.64" fill="#b13117"/>
<rect x="402.52" y="137.74" width="7.77" height="6.64" fill="#bb3819"/>
<rect x="409.29" y="137.74" width="7.77" height="6.64" fill="#bb3819"/>
<rect x="416.06" y="137.74" width="7.77" height="6.64" fill="#cb451b"/>
<rect x="422.83" y="137.74" width="7.77" height="6.64" fill="#cb451b"/>
<rect x="429.61" y="137.74" width="7.77" height="6.64" fill="#cb451b"/>
<rect x="436.38" y="137.74" width="6.77" height="6.64" fill="#d24a1c"/>
<rect x="273.85" y="143.38" width="7.77" height="6.64" fill="#bfbfbf"/>
<rect x="280.62" y="143.38" width="7.77" height="6.64" fill="#7e0a06"/>
<rect x="287.39" y="143.38" width="7.77" height="6.64" fill="#7e0a06"/>
<rect x="294.17" y="143.38" width="7.77" height="6.64" fill="#7e0a06"/>
<rect x="300.94" y="143.38" width="7.77" height="6.64" fill="#7e0a06"/>
<rect x="307.71" y="143.38" width="7.77" height="6.64" fill="#7e0a06"/>
<rect x="314.48" y="143.38" width="7.77" height="6.64" fill="#7e0a06"/>
<rect x="321.25" y="143.38" width="7.77" height="6.64" fill="#7e0a06"/>
<rect x="328.03" y="143.38" width="7.77" height="6.64" fill="#88140d"/>
<rect x="334.80" y="143.38" width="7.77" height="6.64" fill="#88140d"/>
<rect x="341.57" y="143.38" width="7.77" height="6.64" fill="#88140d"/>
<rect x="348.34" y="143.38" width="7.77" height="6.64" fill="#921c11"/>
<rect x="355.11" y="143.38" width="7.77" height="6.64" fill="#921c11"/>
<rect x="361.89" y="143.38" width="7.77" height="6.64" fill="#9b2213"/>
<rect x="368.66" y="143.38" width="7.77" height="6.64" fill="#a52914"/>
<rect x="375.43" y="143.38" width="7.77" height="6.64" fill="#a52914"/>
<rect x="382.20" y="143.38" width="7.77" height="6.64" fill="#b13117"/>
<rect x="388.97" y="143.38" width="7.77" height="6.64" fill="#b13117"/>
<rect x="395.75" y="143.38" width="7.77" height="6.64" fill="#bb3819"/>
<rect x="402.52" y="143.38" width="7.77" height="6.64" fill="#c33f1a"/>
<rect x="409.29" y="143.38" width="7.77" height="6.64" fill="#cb451b"/>
<rect x="416.06" y="143.38" width="7.77" height="6.64" fill="#d24a1c"/>
<rect x="422.83" y="143.38" width="7.77" height="6.64" fill="#d24a1c"/>
<rect x="429.61" y="143.38" width="7.77" height="6.64" fill="#da501d"/>
<rect x="436.38" y="143.38" width="6.77" height="6.64" fill="#e95e21"/>
<rect x="273.85" y="149.03" width="7.77" height="6.64" fill="#bfbfbf"/>
<rect x="280.62" y="149.03" width="7.77" height="6.64" fill="#88140d"/>
<rect x="287.39" y="149.03" width="7.77" height="6.64" fill="#88140d"/>
<rect x="294.17" y="149.03" width="7.77" height="6.64" fill="#88140d"/>
<rect x="300.94" y="149.03" width="7.77" height="6.64" fill="#88140d"/>
<rect x="307.71" y="149.03" width="7.77" height="6.64" fill="#88140d"/>
<rect x="314.48" y="149.03" width="7.77" height="6.64" fill="#88140d"/>
<rect x="321.25" y="149.03" width="7.77" height="6.64" fill="#88140d"/>
<rect x="328.03" y="149.03" width="7.77" height="6.64" fill="#88140d"/>
<rect x="334.80" y="149.03" width="7.77" height="6.64" fill="#88140d"/>
<rect x="341.57" y="149.03" width="7.77" height="6.64" fill="#88140d"/>
<rect x="348.34" y="149.03" width="7.77" height="6.64" fill="#88140d"/>
<rect x="355.11" y="149.03" width="7.77" height="6.64" fill="#921c11"/>
<rect x="361.89" y="149.03" width="7.77" height="6.64" fill="#9b2213"/>
<rect x="368.66" y="149.03" width="7.77" height="6.64" fill="#a52914"/>
<rect x="375.43" y="149.03" width="7.77" height="6.64" fill="#b13117"/>
<rect x="382.20" y="149.03" width="7.77" height="6.64" fill="#c13c1a"/>
<rect x="388.97" y="149.03" width="7.77" height="6.64" fill="#cb451b"/>
<rect x="395.75" y="149.03" width="7.77" height="6.64" fill="#cb451b"/>
<rect x="402.52" y="149.03" width="7.77" height="6.64" fill="#d24a1c"/>
<rect x="409.29" y="149.03" width="7.77" height="6.64" fill="#da501d"/>
<rect x="416.06" y="149.03" width="7.77" height="6.64" fill="#e3561f"/>
<rect x="422.83" y="149.03" width="7.77" height="6.64" fill="#ea6a24"/>
<rect x="429.61" y="149.03" width="7.77" height="6.64" fill="#e87627"/>
<rect x="436.38" y="149.03" width="6.77" height="6.64" fill="#e49030"/>
<rect x="273.85" y="154.68" width="7.77" height="6.64" fill="#88140d"/>
<rect x="280.62" y="154.68" width="7.77" height="6.64" fill="#88140d"/>
<rect x="287.39" y="154.68" width="7.77" height="6.64" fill="#88140d"/>
<rect x="294.17" y="154.68" width="7.77" height="6.64" fill="#88140d"/>
<rect x="300.94" y="154.68" width="7.77" height="6.64" fill="#88140d"/>
<rect x="307.71" y="154.68" width="7.77" height="6.64" fill="#88140d"/>
<rect x="314.48" y="154.68" width="7.77" height="6.64" fill="#88140d"/>
<rect x="321.25" y="154.68" width="7.77" height="6.64" fill="#88140d"/>
<rect x="328.03" y="154.68" width="7.77" height="6.64" fill="#88140d"/>
<rect x="334.80" y="154.68" width="7.77" height="6.64" fill="#921c11"/>
<rect x="341.57" y="154.68" width="7.77" height="6.64" fill="#921c11"/>
<rect x="348.34" y="154.68" width="7.77" height="6.64" fill="#9b2213"/>
<rect x="355.11" y="154.68" width="7.77" height="6.64" fill="#a52914"/>
<rect x="361.89" y="154.68" width="7.77" height="6.64" fill="#a52914"/>
<rect x="368.66" y="154.68" width="7.77" height="6.64" fill="#b13117"/>
<rect x="375.43" y="154.68" width="7.77" height="6.64" fill="#bb3819"/>
<rect x="382.20" y="154.68" width="7.77" height="6.64" fill="#cf481b"/>
<rect x="388.97" y="154.68" width="7.77" height="6.64" fill="#d24a1c"/>
<rect x="395.75" y="154.68" width="7.77" height="6.64" fill="#da501d"/>
<rect x="402.52" y="154.68" width="7.77" height="6.64" fill="#e3561f"/>
<rect x="409.29" y="154.68" width="7.77" height="6.64" fill="#ea6a24"/>
<rect x="416.06" y="154.68" width="7.77" height="6.64" fill="#e87627"/>
<rect x="422.83" y="154.68" width="7.77" height="6.64" fill="#e6822b"/>
<rect x="429.61" y="154.68" width="7.77" height="6.64" fill="#e29c35"/>
<rect x="436.38" y="154.68" width="6.77" height="6.64" fill="#dfad39"/>
<rect x="273.85" y="160.32" width="7.77" height="6.64" fill="#88140d"/>
<rect x="280.62" y="160.32" width="7.77" height="6.64" fill="#88140d"/>
<rect x="287.39" y="160.32" width="7.77" height="6.64" fill="#88140d"/>
<rect x="294.17" y="160.32" width="7.77" height="6.64" fill="#88140d"/>
<rect x="300.94" y="160.32" width="7.77" height="6.64" fill="#88140d"/>
<rect x="307.71" y="160.32" width="7.77" height="6.64" fill="#88140d"/>
<rect x="314.48" y="160.32" width="7.77" height="6.64" fill="#921c11"/>
<rect x="321.25" y="160.32" width="7.77" height="6.64" fill="#921c11"/>
<rect x="328.03" y="160.32" width="7.77" height="6.64" fill="#921c11"/>
<rect x="334.80" y="160.32" width="7.77" height="6.64" fill="#9b2213"/>
<rect x="341.57" y="160.32" width="7.77" height="6.64" fill="#9b2213"/>
<rect x="348.34" y="160.32" width="7.77" height="6.64" fill="#a52914"/>
<rect x="355.11" y="160.32" width="7.77" height="6.64" fill="#bb3819"/>
<rect x="361.89" y="160.32" width="7.77" height="6.64" fill="#c33f1a"/>
<rect x="368.66" y="160.32" width="7.77" height="6.64" fill="#cb451b"/>
<rect x="375.43" y="160.32" width="7.77" height="6.64" fill="#d24a1c"/>
<rect x="382.20" y="160.32" width="7.77" height="6.64" fill="#e3561f"/>
<rect x="388.97" y="160.32" width="7.77" height="6.64" fill="#e3561f"/>
<rect x="395.75" y="160.32" width="7.77" height="6.64" fill="#e87627"/>
<rect x="402.52" y="160.32" width="7.77" height="6.64" fill="#e6822b"/>
<rect x="409.29" y="160.32" width="7.77" height="6.64" fill="#e49030"/>
<rect x="416.06" y="160.32" width="7.77" height="6.64" fill="#dfad39"/>
<rect x="422.83" y="160.32" width="7.77" height="6.64" fill="#ddb53b"/>
<rect x="429.61" y="160.32" width="7.77" height="6.64" fill="#dbbe3e"/>
<rect x="436.38" y="160.32" width="6.77" height="6.64" fill="#d7d246"/>
<rect x="273.85" y="165.96" width="7.77" height="6.64" fill="#88140d"/>
<rect x="280.62" y="165.96" width="7.77" height="6.64" fill="#88140d"/>
<rect x="287.39" y="165.96" width="7.77" height="6.64" fill="#88140d"/>
<rect x="294.17" y="165.96" width="7.77" height="6.64" fill="#88140d"/>
<rect x="300.94" y="165.96" width="7.77" height="6.64" fill="#921c11"/>
<rect x="307.71" y="165.96" width="7.77" height="6.64" fill="#921c11"/>
<rect x="314.48" y="165.96" width="7.77" height="6.64" fill="#921c11"/>
<rect x="321.25" y="165.96" width="7.77" height="6.64" fill="#9b2213"/>
<rect x="328.03" y="165.96" width="7.77" height="6.64" fill="#9f2513"/>
<rect x="334.80" y="165.96" width="7.77" height="6.64" fill="#a52914"/>
<rect x="341.57" y="165.96" width="7.77" height="6.64" fill="#b13117"/>
<rect x="348.34" y="165.96" width="7.77" height="6.64" fill="#bb3819"/>
<rect x="355.11" y="165.96" width="7.77" height="6.64" fill="#cb451b"/>
<rect x="361.89" y="165.96" width="7.77" height="6.64" fill="#d24a1c"/>
<rect x="368.66" y="165.96" width="7.77" height="6.64" fill="#da501d"/>
<rect x="375.43" y="165.96" width="7.77" height="6.64" fill="#e3561f"/>
<rect x="382.20" y="165.96" width="7.77" height="6.64" fill="#e87627"/>
<rect x="388.97" y="165.96" width="7.77" height="6.64" fill="#e6822b"/>
<rect x="395.75" y="165.96" width="7.77" height="6.64" fill="#e1a537"/>
<rect x="402.52" y="165.96" width="7.77" height="6.64" fill="#dfad39"/>
<rect x="409.29" y="165.96" width="7.77" height="6.64" fill="#ddb53b"/>
<rect x="416.06" y="165.96" width="7.77" height="6.64" fill="#d7d246"/>
<rect x="422.83" y="165.96" width="7.77" height="6.64" fill="#d4e14b"/>
<rect x="429.61" y="165.96" width="7.77" height="6.64" fill="#cce850"/>
<rect x="436.38" y="165.96" width="6.77" height="6.64" fill="#b6f360"/>
<rect x="273.85" y="171.61" width="7.77" height="6.64" fill="#88140d"/>
<rect x="280.62" y="171.61" width="7.77" height="6.64" fill="#88140d"/>
<rect x="287.39" y="171.61" width="7.77" height="6.64" fill="#88140d"/>
<rect x="294.17" y="171.61" width="7.77" height="6.64" fill="#9b2213"/>
<rect x="300.94" y="171.61" width="7.77" height="6.64" fill="#b13117"/>
<rect x="307.71" y="171.61" width="7.77" height="6.64" fill="#bb3819"/>
<rect x="314.48" y="171.61" width="7.77" height="6.64" fill="#c33f1a"/>
<rect x="321.25" y="171.61" width="7.77" height="6.64" fill="#cb451b"/>
<rect x="328.03" y="171.61" width="7.77" height="6.64" fill="#d24a1c"/>
<rect x="334.80" y="171.61" width="7.77" height="6.64" fill="#da501d"/>
<rect x="341.57" y="171.61" width="7.77" height="6.64" fill="#e3561f"/>
<rect x="348.34" y="171.61" width="7.77" height="6.64" fill="#ea6a24"/>
<rect x="355.11" y="171.61" width="7.77" height="6.64" fill="#e29c35"/>
<rect x="361.89" y="171.61" width="7.77" height="6.64" fill="#e1a537"/>
<rect x="368.66" y="171.61" width="7.77" height="6.64" fill="#dfad39"/>
<rect x="375.43" y="171.61" width="7.77" height="6.64" fill="#dbbe3e"/>
<rect x="382.20" y="171.61" width="7.77" height="6.64" fill="#d7d647"/>
<rect x="388.97" y="171.61" width="7.77" height="6.64" fill="#d7db48"/>
<rect x="395.75" y="171.61" width="7.77" height="6.64" fill="#d4e14b"/>
<rect x="402.52" y="171.61" width="7.77" height="6.64" fill="#cce850"/>
<rect x="409.29" y="171.61" width="7.77" height="6.64" fill="#aef565"/>
<rect x="416.06" y="171.61" width="7.77" height="6.64" fill="#91f87f"/>
<rect x="422.83" y="171.61" width="7.77" height="6.64" fill="#80fa9e"/>
<rect x="429.61" y="171.61" width="7.77" height="6.64" fill="#80faa8"/>
<rect x="436.38" y="171.61" width="6.77" height="6.64" fill="#81dec8"/>
<rect x="273.85" y="177.25" width="7.77" height="5.64" fill="#b13117"/>
<rect x="280.62" y="177.25" width="7.77" height="5.64" fill="#bb3819"/>
<rect x="287.39" y="177.25" width="7.77" height="5.64" fill="#d24a1c"/>
<rect x="294.17" y="177.25" width="7.77" height="5.64" fill="#e3561f"/>
<rect x="300.94" y="177.25" width="7.77" height="5.64" fill="#e95e21"/>
<rect x="307.71" y="177.25" width="7.77" height="5.64" fill="#e49030"/>
<rect x="314.48" y="177.25" width="7.77" height="5.64" fill="#e1a537"/>
<rect x="321.25" y="177.25" width="7.77" height="5.64" fill="#ddb53b"/>
<rect x="328.03" y="177.25" width="7.77" height="5.64" fill="#d7d647"/>
<rect x="334.80" y="177.25" width="7.77" height="5.64" fill="#d4e14b"/>
<rect x="341.57" y="177.25" width="7.77" height="5.64" fill="#d0e54e"/>
<rect x="348.34" y="177.25" width="7.77" height="5.64" fill="#bef059"/>
<rect x="355.11" y="177.25" width="7.77" height="5.64" fill="#a8f667"/>
<rect x="361.89" y="177.25" width="7.77" height="5.64" fill="#91f87f"/>
<rect x="368.66" y="177.25" width="7.77" height="5.64" fill="#81fa94"/>
<rect x="375.43" y="177.25" width="7.77" height="5.64" fill="#80faa8"/>
<rect x="382.20" y="177.25" width="7.77" height="5.64" fill="#82e7c2"/>
<rect x="388.97" y="177.25" width="7.77" height="5.64" fill="#7ed4cf"/>
<rect x="395.75" y="177.25" width="7.77" height="5.64" fill="#74c2dd"/>
<rect x="402.52" y="177.25" width="7.77" height="5.64" fill="#64a7f6"/>
<rect x="409.29" y="177.25" width="7.77" height="5.64" fill="#5a8bdb"/>
<rect x="416.06" y="177.25" width="7.77" height="5.64" fill="#4f67b2"/>
<rect x="422.83" y="177.25" width="7.77" height="5.64" fill="#485096"/>
<rect x="429.61" y="177.25" width="7.77" height="5.64" fill="#3d326d"/>
<rect x="436.38" y="177.25" width="6.77" height="5.64" fill="#331d4a"/>
</g>
<g stroke="#fff" fill="none">
<path stroke-opacity="0.065" stroke-width="1" d="M273.85 75.64H443.15M273.85 81.29H443.15M273.85 86.94H443.15M273.85 92.58H443.15M273.85 98.22H443.15M273.85 103.87H443.15M273.85 109.52H443.15M273.85 115.16H443.15M273.85 120.80H443.15M273.85 126.45H443.15M273.85 132.09H443.15M273.85 137.74H443.15M273.85 143.38H443.15M273.85 149.03H443.15M273.85 154.68H443.15M273.85 160.32H443.15M273.85 165.96H443.15M273.85 171.61H443.15M273.85 177.25H443.15"/>
<path stroke-opacity="0.035" stroke-width="1" d="M280.62 70.00V182.90M287.39 70.00V182.90M294.17 70.00V182.90M300.94 70.00V182.90M307.71 70.00V182.90M314.48 70.00V182.90M321.25 70.00V182.90M328.03 70.00V182.90M334.80 70.00V182.90M341.57 70.00V182.90M348.34 70.00V182.90M355.11 70.00V182.90M361.89 70.00V182.90M368.66 70.00V182.90M375.43 70.00V182.90M382.20 70.00V182.90M388.97 70.00V182.90M395.75 70.00V182.90M402.52 70.00V182.90M409.29 70.00V182.90M416.06 70.00V182.90M422.83 70.00V182.90M429.61 70.00V182.90M436.38 70.00V182.90"/>
</g>
<g stroke="#000" stroke-width="1.07" fill="none">
<path d="M265.45 64.20V188.40H451.85"/>
<path d="M261.95 185.70H265.45"/>
<path d="M261.95 157.47H265.45"/>
<path d="M261.95 129.25H265.45"/>
<path d="M261.95 101.02H265.45"/>
<path d="M261.95 72.80H265.45"/>
<path d="M270.40 188.40V191.70"/>
<path d="M304.27 188.40V191.70"/>
<path d="M338.15 188.40V191.70"/>
<path d="M372.02 188.40V191.70"/>
<path d="M405.90 188.40V191.70"/>
<path d="M439.77 188.40V191.70"/>
</g>
<g fill="#2a2a2a" stroke="#2a2a2a" stroke-width="0.2" font-size="10.40">
<text transform="translate(259.25 189.60) scale(1 1.0)" text-anchor="end">0</text>
<text transform="translate(259.25 161.38) scale(1 1.0)" text-anchor="end">5</text>
<text transform="translate(259.25 133.15) scale(1 1.0)" text-anchor="end">10</text>
<text transform="translate(259.25 104.92) scale(1 1.0)" text-anchor="end">15</text>
<text transform="translate(259.25 76.70) scale(1 1.0)" text-anchor="end">20</text>
<text transform="translate(270.40 201.60) scale(1 1.0)" text-anchor="middle">0</text>
<text transform="translate(304.27 201.60) scale(1 1.0)" text-anchor="middle">5</text>
<text transform="translate(338.15 201.60) scale(1 1.0)" text-anchor="middle">10</text>
<text transform="translate(372.02 201.60) scale(1 1.0)" text-anchor="middle">15</text>
<text transform="translate(405.90 201.60) scale(1 1.0)" text-anchor="middle">20</text>
<text transform="translate(439.77 201.60) scale(1 1.0)" text-anchor="middle">25</text>
</g>
<text transform="translate(358.55 217.30) scale(1 1.04)" font-size="13" text-anchor="middle" fill="#000">Threshold (percentile)</text>
<text transform="translate(241.35 126.40) rotate(-90) scale(1 1.04)" font-size="13" text-anchor="middle" fill="#000">Minimum event duration (days)</text>
<text transform="translate(264.95 54.90) scale(1 1.04)" font-size="15.6" fill="#000">B) NZ-FoT-7m</text>
<g>
<rect x="505.80" y="70.00" width="7.77" height="6.64" fill="#bfbfbf"/>
<rect x="512.57" y="70.00" width="7.77" height="6.64" fill="#bfbfbf"/>
<rect x="519.34" y="70.00" width="7.77" height="6.64" fill="#bfbfbf"/>
<rect x="526.12" y="70.00" width="7.77" height="6.64" fill="#bfbfbf"/>
<rect x="532.89" y="70.00" width="7.77" height="6.64" fill="#bfbfbf"/>
<rect x="539.66" y="70.00" width="7.77" height="6.64" fill="#bfbfbf"/>
<rect x="546.43" y="70.00" width="7.77" height="6.64" fill="#8b170f"/>
<rect x="553.20" y="70.00" width="7.77" height="6.64" fill="#941d11"/>
<rect x="559.98" y="70.00" width="7.77" height="6.64" fill="#9b2213"/>
<rect x="566.75" y="70.00" width="7.77" height="6.64" fill="#a12614"/>
<rect x="573.52" y="70.00" width="7.77" height="6.64" fill="#a12614"/>
<rect x="580.29" y="70.00" width="7.77" height="6.64" fill="#ac2e16"/>
<rect x="587.06" y="70.00" width="7.77" height="6.64" fill="#ac2e16"/>
<rect x="593.84" y="70.00" width="7.77" height="6.64" fill="#ac2e16"/>
<rect x="600.61" y="70.00" width="7.77" height="6.64" fill="#ac2e16"/>
<rect x="607.38" y="70.00" width="7.77" height="6.64" fill="#ac2e16"/>
<rect x="614.15" y="70.00" width="7.77" height="6.64" fill="#b53418"/>
<rect x="620.92" y="70.00" width="7.77" height="6.64" fill="#b53418"/>
<rect x="627.70" y="70.00" width="7.77" height="6.64" fill="#b53418"/>
<rect x="634.47" y="70.00" width="7.77" height="6.64" fill="#b53418"/>
<rect x="641.24" y="70.00" width="7.77" height="6.64" fill="#b13117"/>
<rect x="648.01" y="70.00" width="7.77" height="6.64" fill="#bb3819"/>
<rect x="654.78" y="70.00" width="7.77" height="6.64" fill="#cb451b"/>
<rect x="661.56" y="70.00" width="7.77" height="6.64" fill="#cb451b"/>
<rect x="668.33" y="70.00" width="6.77" height="6.64" fill="#cb451b"/>
<rect x="505.80" y="75.64" width="7.77" height="6.64" fill="#bfbfbf"/>
<rect x="512.57" y="75.64" width="7.77" height="6.64" fill="#bfbfbf"/>
<rect x="519.34" y="75.64" width="7.77" height="6.64" fill="#bfbfbf"/>
<rect x="526.12" y="75.64" width="7.77" height="6.64" fill="#bfbfbf"/>
<rect x="532.89" y="75.64" width="7.77" height="6.64" fill="#bfbfbf"/>
<rect x="539.66" y="75.64" width="7.77" height="6.64" fill="#8e1910"/>
<rect x="546.43" y="75.64" width="7.77" height="6.64" fill="#8e1910"/>
<rect x="553.20" y="75.64" width="7.77" height="6.64" fill="#941d11"/>
<rect x="559.98" y="75.64" width="7.77" height="6.64" fill="#9b2213"/>
<rect x="566.75" y="75.64" width="7.77" height="6.64" fill="#a12614"/>
<rect x="573.52" y="75.64" width="7.77" height="6.64" fill="#a12614"/>
<rect x="580.29" y="75.64" width="7.77" height="6.64" fill="#ac2e16"/>
<rect x="587.06" y="75.64" width="7.77" height="6.64" fill="#ac2e16"/>
<rect x="593.84" y="75.64" width="7.77" height="6.64" fill="#ac2e16"/>
<rect x="600.61" y="75.64" width="7.77" height="6.64" fill="#a52914"/>
<rect x="607.38" y="75.64" width="7.77" height="6.64" fill="#a52914"/>
<rect x="614.15" y="75.64" width="7.77" height="6.64" fill="#bb3819"/>
<rect x="620.92" y="75.64" width="7.77" height="6.64" fill="#bb3819"/>
<rect x="627.70" y="75.64" width="7.77" height="6.64" fill="#bb3819"/>
<rect x="634.47" y="75.64" width="7.77" height="6.64" fill="#b53418"/>
<rect x="641.24" y="75.64" width="7.77" height="6.64" fill="#c13c1a"/>
<rect x="648.01" y="75.64" width="7.77" height="6.64" fill="#c13c1a"/>
<rect x="654.78" y="75.64" width="7.77" height="6.64" fill="#cf481b"/>
<rect x="661.56" y="75.64" width="7.77" height="6.64" fill="#cf481b"/>
<rect x="668.33" y="75.64" width="6.77" height="6.64" fill="#cf481b"/>
<rect x="505.80" y="81.29" width="7.77" height="6.64" fill="#bfbfbf"/>
<rect x="512.57" y="81.29" width="7.77" height="6.64" fill="#bfbfbf"/>
<rect x="519.34" y="81.29" width="7.77" height="6.64" fill="#bfbfbf"/>
<rect x="526.12" y="81.29" width="7.77" height="6.64" fill="#bfbfbf"/>
<rect x="532.89" y="81.29" width="7.77" height="6.64" fill="#bfbfbf"/>
<rect x="539.66" y="81.29" width="7.77" height="6.64" fill="#8e1910"/>
<rect x="546.43" y="81.29" width="7.77" height="6.64" fill="#8e1910"/>
<rect x="553.20" y="81.29" width="7.77" height="6.64" fill="#972012"/>
<rect x="559.98" y="81.29" width="7.77" height="6.64" fill="#9b2213"/>
<rect x="566.75" y="81.29" width="7.77" height="6.64" fill="#a12614"/>
<rect x="573.52" y="81.29" width="7.77" height="6.64" fill="#a12614"/>
<rect x="580.29" y="81.29" width="7.77" height="6.64" fill="#ac2e16"/>
<rect x="587.06" y="81.29" width="7.77" height="6.64" fill="#ac2e16"/>
<rect x="593.84" y="81.29" width="7.77" height="6.64" fill="#a52914"/>
<rect x="600.61" y="81.29" width="7.77" height="6.64" fill="#b13117"/>
<rect x="607.38" y="81.29" width="7.77" height="6.64" fill="#b13117"/>
<rect x="614.15" y="81.29" width="7.77" height="6.64" fill="#bb3819"/>
<rect x="620.92" y="81.29" width="7.77" height="6.64" fill="#bb3819"/>
<rect x="627.70" y="81.29" width="7.77" height="6.64" fill="#b53418"/>
<rect x="634.47" y="81.29" width="7.77" height="6.64" fill="#c33f1a"/>
<rect x="641.24" y="81.29" width="7.77" height="6.64" fill="#c33f1a"/>
<rect x="648.01" y="81.29" width="7.77" height="6.64" fill="#c33f1a"/>
<rect x="654.78" y="81.29" width="7.77" height="6.64" fill="#cf481b"/>
<rect x="661.56" y="81.29" width="7.77" height="6.64" fill="#cf481b"/>
<rect x="668.33" y="81.29" width="6.77" height="6.64" fill="#cf481b"/>
<rect x="505.80" y="86.94" width="7.77" height="6.64" fill="#bfbfbf"/>
<rect x="512.57" y="86.94" width="7.77" height="6.64" fill="#bfbfbf"/>
<rect x="519.34" y="86.94" width="7.77" height="6.64" fill="#bfbfbf"/>
<rect x="526.12" y="86.94" width="7.77" height="6.64" fill="#bfbfbf"/>
<rect x="532.89" y="86.94" width="7.77" height="6.64" fill="#8b170f"/>
<rect x="539.66" y="86.94" width="7.77" height="6.64" fill="#8e1910"/>
<rect x="546.43" y="86.94" width="7.77" height="6.64" fill="#8e1910"/>
<rect x="553.20" y="86.94" width="7.77" height="6.64" fill="#972012"/>
<rect x="559.98" y="86.94" width="7.77" height="6.64" fill="#a52914"/>
<rect x="566.75" y="86.94" width="7.77" height="6.64" fill="#ac2e16"/>
<rect x="573.52" y="86.94" width="7.77" height="6.64" fill="#ac2e16"/>
<rect x="580.29" y="86.94" width="7.77" height="6.64" fill="#ac2e16"/>
<rect x="587.06" y="86.94" width="7.77" height="6.64" fill="#a52914"/>
<rect x="593.84" y="86.94" width="7.77" height="6.64" fill="#b13117"/>
<rect x="600.61" y="86.94" width="7.77" height="6.64" fill="#b13117"/>
<rect x="607.38" y="86.94" width="7.77" height="6.64" fill="#b13117"/>
<rect x="614.15" y="86.94" width="7.77" height="6.64" fill="#bb3819"/>
<rect x="620.92" y="86.94" width="7.77" height="6.64" fill="#bb3819"/>
<rect x="627.70" y="86.94" width="7.77" height="6.64" fill="#b53418"/>
<rect x="634.47" y="86.94" width="7.77" height="6.64" fill="#c33f1a"/>
<rect x="641.24" y="86.94" width="7.77" height="6.64" fill="#c33f1a"/>
<rect x="648.01" y="86.94" width="7.77" height="6.64" fill="#c33f1a"/>
<rect x="654.78" y="86.94" width="7.77" height="6.64" fill="#cf481b"/>
<rect x="661.56" y="86.94" width="7.77" height="6.64" fill="#cf481b"/>
<rect x="668.33" y="86.94" width="6.77" height="6.64" fill="#d24a1c"/>
<rect x="505.80" y="92.58" width="7.77" height="6.64" fill="#bfbfbf"/>
<rect x="512.57" y="92.58" width="7.77" height="6.64" fill="#bfbfbf"/>
<rect x="519.34" y="92.58" width="7.77" height="6.64" fill="#bfbfbf"/>
<rect x="526.12" y="92.58" width="7.77" height="6.64" fill="#8b170f"/>
<rect x="532.89" y="92.58" width="7.77" height="6.64" fill="#8e1910"/>
<rect x="539.66" y="92.58" width="7.77" height="6.64" fill="#8e1910"/>
<rect x="546.43" y="92.58" width="7.77" height="6.64" fill="#8e1910"/>
<rect x="553.20" y="92.58" width="7.77" height="6.64" fill="#972012"/>
<rect x="559.98" y="92.58" width="7.77" height="6.64" fill="#a52914"/>
<rect x="566.75" y="92.58" width="7.77" height="6.64" fill="#b53418"/>
<rect x="573.52" y="92.58" width="7.77" height="6.64" fill="#b53418"/>
<rect x="580.29" y="92.58" width="7.77" height="6.64" fill="#b53418"/>
<rect x="587.06" y="92.58" width="7.77" height="6.64" fill="#b53418"/>
<rect x="593.84" y="92.58" width="7.77" height="6.64" fill="#b53418"/>
<rect x="600.61" y="92.58" width="7.77" height="6.64" fill="#b53418"/>
<rect x="607.38" y="92.58" width="7.77" height="6.64" fill="#b53418"/>
<rect x="614.15" y="92.58" width="7.77" height="6.64" fill="#bb3819"/>
<rect x="620.92" y="92.58" width="7.77" height="6.64" fill="#c13c1a"/>
<rect x="627.70" y="92.58" width="7.77" height="6.64" fill="#c13c1a"/>
<rect x="634.47" y="92.58" width="7.77" height="6.64" fill="#c33f1a"/>
<rect x="641.24" y="92.58" width="7.77" height="6.64" fill="#c8421b"/>
<rect x="648.01" y="92.58" width="7.77" height="6.64" fill="#c8421b"/>
<rect x="654.78" y="92.58" width="7.77" height="6.64" fill="#cb451b"/>
<rect x="661.56" y="92.58" width="7.77" height="6.64" fill="#cf481b"/>
<rect x="668.33" y="92.58" width="6.77" height="6.64" fill="#cf481b"/>
<rect x="505.80" y="98.22" width="7.77" height="6.64" fill="#bfbfbf"/>
<rect x="512.57" y="98.22" width="7.77" height="6.64" fill="#bfbfbf"/>
<rect x="519.34" y="98.22" width="7.77" height="6.64" fill="#8b170f"/>
<rect x="526.12" y="98.22" width="7.77" height="6.64" fill="#8e1910"/>
<rect x="532.89" y="98.22" width="7.77" height="6.64" fill="#8e1910"/>
<rect x="539.66" y="98.22" width="7.77" height="6.64" fill="#8e1910"/>
<rect x="546.43" y="98.22" width="7.77" height="6.64" fill="#8e1910"/>
<rect x="553.20" y="98.22" width="7.77" height="6.64" fill="#972012"/>
<rect x="559.98" y="98.22" width="7.77" height="6.64" fill="#ac2e16"/>
<rect x="566.75" y="98.22" width="7.77" height="6.64" fill="#b73518"/>
<rect x="573.52" y="98.22" width="7.77" height="6.64" fill="#b73518"/>
<rect x="580.29" y="98.22" width="7.77" height="6.64" fill="#b73518"/>
<rect x="587.06" y="98.22" width="7.77" height="6.64" fill="#b73518"/>
<rect x="593.84" y="98.22" width="7.77" height="6.64" fill="#b73518"/>
<rect x="600.61" y="98.22" width="7.77" height="6.64" fill="#b73518"/>
<rect x="607.38" y="98.22" width="7.77" height="6.64" fill="#b73518"/>
<rect x="614.15" y="98.22" width="7.77" height="6.64" fill="#c33f1a"/>
<rect x="620.92" y="98.22" width="7.77" height="6.64" fill="#c33f1a"/>
<rect x="627.70" y="98.22" width="7.77" height="6.64" fill="#c33f1a"/>
<rect x="634.47" y="98.22" width="7.77" height="6.64" fill="#c8421b"/>
<rect x="641.24" y="98.22" width="7.77" height="6.64" fill="#c8421b"/>
<rect x="648.01" y="98.22" width="7.77" height="6.64" fill="#cf481b"/>
<rect x="654.78" y="98.22" width="7.77" height="6.64" fill="#d54d1c"/>
<rect x="661.56" y="98.22" width="7.77" height="6.64" fill="#da501d"/>
<rect x="668.33" y="98.22" width="6.77" height="6.64" fill="#da501d"/>
<rect x="505.80" y="103.87" width="7.77" height="6.64" fill="#bfbfbf"/>
<rect x="512.57" y="103.87" width="7.77" height="6.64" fill="#bfbfbf"/>
<rect x="519.34" y="103.87" width="7.77" height="6.64" fill="#8e1910"/>
<rect x="526.12" y="103.87" width="7.77" height="6.64" fill="#8e1910"/>
<rect x="532.89" y="103.87" width="7.77" height="6.64" fill="#8e1910"/>
<rect x="539.66" y="103.87" width="7.77" height="6.64" fill="#8e1910"/>
<rect x="546.43" y="103.87" width="7.77" height="6.64" fill="#921c11"/>
<rect x="553.20" y="103.87" width="7.77" height="6.64" fill="#972012"/>
<rect x="559.98" y="103.87" width="7.77" height="6.64" fill="#b13117"/>
<rect x="566.75" y="103.87" width="7.77" height="6.64" fill="#b73518"/>
<rect x="573.52" y="103.87" width="7.77" height="6.64" fill="#b73518"/>
<rect x="580.29" y="103.87" width="7.77" height="6.64" fill="#b73518"/>
<rect x="587.06" y="103.87" width="7.77" height="6.64" fill="#b73518"/>
<rect x="593.84" y="103.87" width="7.77" height="6.64" fill="#b73518"/>
<rect x="600.61" y="103.87" width="7.77" height="6.64" fill="#b73518"/>
<rect x="607.38" y="103.87" width="7.77" height="6.64" fill="#b73518"/>
<rect x="614.15" y="103.87" width="7.77" height="6.64" fill="#c33f1a"/>
<rect x="620.92" y="103.87" width="7.77" height="6.64" fill="#c33f1a"/>
<rect x="627.70" y="103.87" width="7.77" height="6.64" fill="#c8421b"/>
<rect x="634.47" y="103.87" width="7.77" height="6.64" fill="#c8421b"/>
<rect x="641.24" y="103.87" width="7.77" height="6.64" fill="#c8421b"/>
<rect x="648.01" y="103.87" width="7.77" height="6.64" fill="#cf481b"/>
<rect x="654.78" y="103.87" width="7.77" height="6.64" fill="#d54d1c"/>
<rect x="661.56" y="103.87" width="7.77" height="6.64" fill="#e95e21"/>
<rect x="668.33" y="103.87" width="6.77" height="6.64" fill="#e95e21"/>
<rect x="505.80" y="109.52" width="7.77" height="6.64" fill="#bfbfbf"/>
<rect x="512.57" y="109.52" width="7.77" height="6.64" fill="#8e1910"/>
<rect x="519.34" y="109.52" width="7.77" height="6.64" fill="#8e1910"/>
<rect x="526.12" y="109.52" width="7.77" height="6.64" fill="#921c11"/>
<rect x="532.89" y="109.52" width="7.77" height="6.64" fill="#921c11"/>
<rect x="539.66" y="109.52" width="7.77" height="6.64" fill="#921c11"/>
<rect x="546.43" y="109.52" width="7.77" height="6.64" fill="#921c11"/>
<rect x="553.20" y="109.52" width="7.77" height="6.64" fill="#921c11"/>
<rect x="559.98" y="109.52" width="7.77" height="6.64" fill="#b13117"/>
<rect x="566.75" y="109.52" width="7.77" height="6.64" fill="#b53418"/>
<rect x="573.52" y="109.52" width="7.77" height="6.64" fill="#b53418"/>
<rect x="580.29" y="109.52" width="7.77" height="6.64" fill="#b53418"/>
<rect x="587.06" y="109.52" width="7.77" height="6.64" fill="#b53418"/>
<rect x="593.84" y="109.52" width="7.77" height="6.64" fill="#b53418"/>
<rect x="600.61" y="109.52" width="7.77" height="6.64" fill="#b53418"/>
<rect x="607.38" y="109.52" width="7.77" height="6.64" fill="#b53418"/>
<rect x="614.15" y="109.52" width="7.77" height="6.64" fill="#c33f1a"/>
<rect x="620.92" y="109.52" width="7.77" height="6.64" fill="#cb451b"/>
<rect x="627.70" y="109.52" width="7.77" height="6.64" fill="#cb451b"/>
<rect x="634.47" y="109.52" width="7.77" height="6.64" fill="#cb451b"/>
<rect x="641.24" y="109.52" width="7.77" height="6.64" fill="#cb451b"/>
<rect x="648.01" y="109.52" width="7.77" height="6.64" fill="#d24a1c"/>
<rect x="654.78" y="109.52" width="7.77" height="6.64" fill="#da501d"/>
<rect x="661.56" y="109.52" width="7.77" height="6.64" fill="#ea6a24"/>
<rect x="668.33" y="109.52" width="6.77" height="6.64" fill="#ea6a24"/>
<rect x="505.80" y="115.16" width="7.77" height="6.64" fill="#8e1910"/>
<rect x="512.57" y="115.16" width="7.77" height="6.64" fill="#8e1910"/>
<rect x="519.34" y="115.16" width="7.77" height="6.64" fill="#941d11"/>
<rect x="526.12" y="115.16" width="7.77" height="6.64" fill="#941d11"/>
<rect x="532.89" y="115.16" width="7.77" height="6.64" fill="#941d11"/>
<rect x="539.66" y="115.16" width="7.77" height="6.64" fill="#941d11"/>
<rect x="546.43" y="115.16" width="7.77" height="6.64" fill="#941d11"/>
<rect x="553.20" y="115.16" width="7.77" height="6.64" fill="#941d11"/>
<rect x="559.98" y="115.16" width="7.77" height="6.64" fill="#b13117"/>
<rect x="566.75" y="115.16" width="7.77" height="6.64" fill="#b53418"/>
<rect x="573.52" y="115.16" width="7.77" height="6.64" fill="#b53418"/>
<rect x="580.29" y="115.16" width="7.77" height="6.64" fill="#b53418"/>
<rect x="587.06" y="115.16" width="7.77" height="6.64" fill="#b53418"/>
<rect x="593.84" y="115.16" width="7.77" height="6.64" fill="#b53418"/>
<rect x="600.61" y="115.16" width="7.77" height="6.64" fill="#b53418"/>
<rect x="607.38" y="115.16" width="7.77" height="6.64" fill="#b53418"/>
<rect x="614.15" y="115.16" width="7.77" height="6.64" fill="#c33f1a"/>
<rect x="620.92" y="115.16" width="7.77" height="6.64" fill="#cb451b"/>
<rect x="627.70" y="115.16" width="7.77" height="6.64" fill="#cb451b"/>
<rect x="634.47" y="115.16" width="7.77" height="6.64" fill="#cb451b"/>
<rect x="641.24" y="115.16" width="7.77" height="6.64" fill="#cb451b"/>
<rect x="648.01" y="115.16" width="7.77" height="6.64" fill="#da501d"/>
<rect x="654.78" y="115.16" width="7.77" height="6.64" fill="#e3561f"/>
<rect x="661.56" y="115.16" width="7.77" height="6.64" fill="#ea6a24"/>
<rect x="668.33" y="115.16" width="6.77" height="6.64" fill="#e87627"/>
<rect x="505.80" y="120.80" width="7.77" height="6.64" fill="#8e1910"/>
<rect x="512.57" y="120.80" width="7.77" height="6.64" fill="#8e1910"/>
<rect x="519.34" y="120.80" width="7.77" height="6.64" fill="#941d11"/>
<rect x="526.12" y="120.80" width="7.77" height="6.64" fill="#941d11"/>
<rect x="532.89" y="120.80" width="7.77" height="6.64" fill="#941d11"/>
<rect x="539.66" y="120.80" width="7.77" height="6.64" fill="#941d11"/>
<rect x="546.43" y="120.80" width="7.77" height="6.64" fill="#941d11"/>
<rect x="553.20" y="120.80" width="7.77" height="6.64" fill="#941d11"/>
<rect x="559.98" y="120.80" width="7.77" height="6.64" fill="#b13117"/>
<rect x="566.75" y="120.80" width="7.77" height="6.64" fill="#b73518"/>
<rect x="573.52" y="120.80" width="7.77" height="6.64" fill="#b73518"/>
<rect x="580.29" y="120.80" width="7.77" height="6.64" fill="#b73518"/>
<rect x="587.06" y="120.80" width="7.77" height="6.64" fill="#b73518"/>
<rect x="593.84" y="120.80" width="7.77" height="6.64" fill="#b73518"/>
<rect x="600.61" y="120.80" width="7.77" height="6.64" fill="#b73518"/>
<rect x="607.38" y="120.80" width="7.77" height="6.64" fill="#b73518"/>
<rect x="614.15" y="120.80" width="7.77" height="6.64" fill="#c33f1a"/>
<rect x="620.92" y="120.80" width="7.77" height="6.64" fill="#cb451b"/>
<rect x="627.70" y="120.80" width="7.77" height="6.64" fill="#cb451b"/>
<rect x="634.47" y="120.80" width="7.77" height="6.64" fill="#cb451b"/>
<rect x="641.24" y="120.80" width="7.77" height="6.64" fill="#d24a1c"/>
<rect x="648.01" y="120.80" width="7.77" height="6.64" fill="#da501d"/>
<rect x="654.78" y="120.80" width="7.77" height="6.64" fill="#e3561f"/>
<rect x="661.56" y="120.80" width="7.77" height="6.64" fill="#ea6a24"/>
<rect x="668.33" y="120.80" width="6.77" height="6.64" fill="#e87627"/>
<rect x="505.80" y="126.45" width="7.77" height="6.64" fill="#8e1910"/>
<rect x="512.57" y="126.45" width="7.77" height="6.64" fill="#8e1910"/>
<rect x="519.34" y="126.45" width="7.77" height="6.64" fill="#941d11"/>
<rect x="526.12" y="126.45" width="7.77" height="6.64" fill="#941d11"/>
<rect x="532.89" y="126.45" width="7.77" height="6.64" fill="#941d11"/>
<rect x="539.66" y="126.45" width="7.77" height="6.64" fill="#941d11"/>
<rect x="546.43" y="126.45" width="7.77" height="6.64" fill="#941d11"/>
<rect x="553.20" y="126.45" width="7.77" height="6.64" fill="#941d11"/>
<rect x="559.98" y="126.45" width="7.77" height="6.64" fill="#b13117"/>
<rect x="566.75" y="126.45" width="7.77" height="6.64" fill="#b73518"/>
<rect x="573.52" y="126.45" width="7.77" height="6.64" fill="#b73518"/>
<rect x="580.29" y="126.45" width="7.77" height="6.64" fill="#b73518"/>
<rect x="587.06" y="126.45" width="7.77" height="6.64" fill="#b73518"/>
<rect x="593.84" y="126.45" width="7.77" height="6.64" fill="#b73518"/>
<rect x="600.61" y="126.45" width="7.77" height="6.64" fill="#b73518"/>
<rect x="607.38" y="126.45" width="7.77" height="6.64" fill="#b73518"/>
<rect x="614.15" y="126.45" width="7.77" height="6.64" fill="#cb451b"/>
<rect x="620.92" y="126.45" width="7.77" height="6.64" fill="#cb451b"/>
<rect x="627.70" y="126.45" width="7.77" height="6.64" fill="#d24a1c"/>
<rect x="634.47" y="126.45" width="7.77" height="6.64" fill="#d24a1c"/>
<rect x="641.24" y="126.45" width="7.77" height="6.64" fill="#d24a1c"/>
<rect x="648.01" y="126.45" width="7.77" height="6.64" fill="#e3561f"/>
<rect x="654.78" y="126.45" width="7.77" height="6.64" fill="#e49030"/>
<rect x="661.56" y="126.45" width="7.77" height="6.64" fill="#e49030"/>
<rect x="668.33" y="126.45" width="6.77" height="6.64" fill="#dfad39"/>
<rect x="505.80" y="132.09" width="7.77" height="6.64" fill="#8e1910"/>
<rect x="512.57" y="132.09" width="7.77" height="6.64" fill="#8e1910"/>
<rect x="519.34" y="132.09" width="7.77" height="6.64" fill="#941d11"/>
<rect x="526.12" y="132.09" width="7.77" height="6.64" fill="#941d11"/>
<rect x="532.89" y="132.09" width="7.77" height="6.64" fill="#941d11"/>
<rect x="539.66" y="132.09" width="7.77" height="6.64" fill="#941d11"/>
<rect x="546.43" y="132.09" width="7.77" height="6.64" fill="#941d11"/>
<rect x="553.20" y="132.09" width="7.77" height="6.64" fill="#941d11"/>
<rect x="559.98" y="132.09" width="7.77" height="6.64" fill="#b13117"/>
<rect x="566.75" y="132.09" width="7.77" height="6.64" fill="#b93718"/>
<rect x="573.52" y="132.09" width="7.77" height="6.64" fill="#b93718"/>
<rect x="580.29" y="132.09" width="7.77" height="6.64" fill="#b93718"/>
<rect x="587.06" y="132.09" width="7.77" height="6.64" fill="#b93718"/>
<rect x="593.84" y="132.09" width="7.77" height="6.64" fill="#b93718"/>
<rect x="600.61" y="132.09" width="7.77" height="6.64" fill="#b93718"/>
<rect x="607.38" y="132.09" width="7.77" height="6.64" fill="#b93718"/>
<rect x="614.15" y="132.09" width="7.77" height="6.64" fill="#cb451b"/>
<rect x="620.92" y="132.09" width="7.77" height="6.64" fill="#d24a1c"/>
<rect x="627.70" y="132.09" width="7.77" height="6.64" fill="#d24a1c"/>
<rect x="634.47" y="132.09" width="7.77" height="6.64" fill="#d24a1c"/>
<rect x="641.24" y="132.09" width="7.77" height="6.64" fill="#da501d"/>
<rect x="648.01" y="132.09" width="7.77" height="6.64" fill="#e6822b"/>
<rect x="654.78" y="132.09" width="7.77" height="6.64" fill="#e29c35"/>
<rect x="661.56" y="132.09" width="7.77" height="6.64" fill="#dfad39"/>
<rect x="668.33" y="132.09" width="6.77" height="6.64" fill="#dbbe3e"/>
<rect x="505.80" y="137.74" width="7.77" height="6.64" fill="#8e1910"/>
<rect x="512.57" y="137.74" width="7.77" height="6.64" fill="#8e1910"/>
<rect x="519.34" y="137.74" width="7.77" height="6.64" fill="#941d11"/>
<rect x="526.12" y="137.74" width="7.77" height="6.64" fill="#941d11"/>
<rect x="532.89" y="137.74" width="7.77" height="6.64" fill="#941d11"/>
<rect x="539.66" y="137.74" width="7.77" height="6.64" fill="#941d11"/>
<rect x="546.43" y="137.74" width="7.77" height="6.64" fill="#941d11"/>
<rect x="553.20" y="137.74" width="7.77" height="6.64" fill="#941d11"/>
<rect x="559.98" y="137.74" width="7.77" height="6.64" fill="#b13117"/>
<rect x="566.75" y="137.74" width="7.77" height="6.64" fill="#bb3819"/>
<rect x="573.52" y="137.74" width="7.77" height="6.64" fill="#bb3819"/>
<rect x="580.29" y="137.74" width="7.77" height="6.64" fill="#bb3819"/>
<rect x="587.06" y="137.74" width="7.77" height="6.64" fill="#bb3819"/>
<rect x="593.84" y="137.74" width="7.77" height="6.64" fill="#bb3819"/>
<rect x="600.61" y="137.74" width="7.77" height="6.64" fill="#bb3819"/>
<rect x="607.38" y="137.74" width="7.77" height="6.64" fill="#c13c1a"/>
<rect x="614.15" y="137.74" width="7.77" height="6.64" fill="#d24a1c"/>
<rect x="620.92" y="137.74" width="7.77" height="6.64" fill="#da501d"/>
<rect x="627.70" y="137.74" width="7.77" height="6.64" fill="#e3561f"/>
<rect x="634.47" y="137.74" width="7.77" height="6.64" fill="#e3561f"/>
<rect x="641.24" y="137.74" width="7.77" height="6.64" fill="#ea6a24"/>
<rect x="648.01" y="137.74" width="7.77" height="6.64" fill="#e6822b"/>
<rect x="654.78" y="137.74" width="7.77" height="6.64" fill="#dfad39"/>
<rect x="661.56" y="137.74" width="7.77" height="6.64" fill="#ddb53b"/>
<rect x="668.33" y="137.74" width="6.77" height="6.64" fill="#d9c943"/>
<rect x="505.80" y="143.38" width="7.77" height="6.64" fill="#8e1910"/>
<rect x="512.57" y="143.38" width="7.77" height="6.64" fill="#8e1910"/>
<rect x="519.34" y="143.38" width="7.77" height="6.64" fill="#941d11"/>
<rect x="526.12" y="143.38" width="7.77" height="6.64" fill="#941d11"/>
<rect x="532.89" y="143.38" width="7.77" height="6.64" fill="#941d11"/>
<rect x="539.66" y="143.38" width="7.77" height="6.64" fill="#941d11"/>
<rect x="546.43" y="143.38" width="7.77" height="6.64" fill="#941d11"/>
<rect x="553.20" y="143.38" width="7.77" height="6.64" fill="#941d11"/>
<rect x="559.98" y="143.38" width="7.77" height="6.64" fill="#b13117"/>
<rect x="566.75" y="143.38" width="7.77" height="6.64" fill="#b13117"/>
<rect x="573.52" y="143.38" width="7.77" height="6.64" fill="#bb3819"/>
<rect x="580.29" y="143.38" width="7.77" height="6.64" fill="#bb3819"/>
<rect x="587.06" y="143.38" width="7.77" height="6.64" fill="#c33f1a"/>
<rect x="593.84" y="143.38" width="7.77" height="6.64" fill="#c33f1a"/>
<rect x="600.61" y="143.38" width="7.77" height="6.64" fill="#c33f1a"/>
<rect x="607.38" y="143.38" width="7.77" height="6.64" fill="#cb451b"/>
<rect x="614.15" y="143.38" width="7.77" height="6.64" fill="#e3561f"/>
<rect x="620.92" y="143.38" width="7.77" height="6.64" fill="#e95e21"/>
<rect x="627.70" y="143.38" width="7.77" height="6.64" fill="#e87627"/>
<rect x="634.47" y="143.38" width="7.77" height="6.64" fill="#e6822b"/>
<rect x="641.24" y="143.38" width="7.77" height="6.64" fill="#e49030"/>
<rect x="648.01" y="143.38" width="7.77" height="6.64" fill="#dfad39"/>
<rect x="654.78" y="143.38" width="7.77" height="6.64" fill="#dbbe3e"/>
<rect x="661.56" y="143.38" width="7.77" height="6.64" fill="#d4e14b"/>
<rect x="668.33" y="143.38" width="6.77" height="6.64" fill="#d0e54e"/>
<rect x="505.80" y="149.03" width="7.77" height="6.64" fill="#88140d"/>
<rect x="512.57" y="149.03" width="7.77" height="6.64" fill="#88140d"/>
<rect x="519.34" y="149.03" width="7.77" height="6.64" fill="#88140d"/>
<rect x="526.12" y="149.03" width="7.77" height="6.64" fill="#921c11"/>
<rect x="532.89" y="149.03" width="7.77" height="6.64" fill="#921c11"/>
<rect x="539.66" y="149.03" width="7.77" height="6.64" fill="#9b2213"/>
<rect x="546.43" y="149.03" width="7.77" height="6.64" fill="#9b2213"/>
<rect x="553.20" y="149.03" width="7.77" height="6.64" fill="#a52914"/>
<rect x="559.98" y="149.03" width="7.77" height="6.64" fill="#bb3819"/>
<rect x="566.75" y="149.03" width="7.77" height="6.64" fill="#c33f1a"/>
<rect x="573.52" y="149.03" width="7.77" height="6.64" fill="#cb451b"/>
<rect x="580.29" y="149.03" width="7.77" height="6.64" fill="#cb451b"/>
<rect x="587.06" y="149.03" width="7.77" height="6.64" fill="#d24a1c"/>
<rect x="593.84" y="149.03" width="7.77" height="6.64" fill="#d24a1c"/>
<rect x="600.61" y="149.03" width="7.77" height="6.64" fill="#da501d"/>
<rect x="607.38" y="149.03" width="7.77" height="6.64" fill="#da501d"/>
<rect x="614.15" y="149.03" width="7.77" height="6.64" fill="#ea6a24"/>
<rect x="620.92" y="149.03" width="7.77" height="6.64" fill="#e6822b"/>
<rect x="627.70" y="149.03" width="7.77" height="6.64" fill="#e49030"/>
<rect x="634.47" y="149.03" width="7.77" height="6.64" fill="#e29c35"/>
<rect x="641.24" y="149.03" width="7.77" height="6.64" fill="#e1a537"/>
<rect x="648.01" y="149.03" width="7.77" height="6.64" fill="#d9c943"/>
<rect x="654.78" y="149.03" width="7.77" height="6.64" fill="#d7db48"/>
<rect x="661.56" y="149.03" width="7.77" height="6.64" fill="#d4e14b"/>
<rect x="668.33" y="149.03" width="6.77" height="6.64" fill="#cce850"/>
<rect x="505.80" y="154.68" width="7.77" height="6.64" fill="#88140d"/>
<rect x="512.57" y="154.68" width="7.77" height="6.64" fill="#88140d"/>
<rect x="519.34" y="154.68" width="7.77" height="6.64" fill="#88140d"/>
<rect x="526.12" y="154.68" width="7.77" height="6.64" fill="#921c11"/>
<rect x="532.89" y="154.68" width="7.77" height="6.64" fill="#921c11"/>
<rect x="539.66" y="154.68" width="7.77" height="6.64" fill="#9b2213"/>
<rect x="546.43" y="154.68" width="7.77" height="6.64" fill="#9b2213"/>
<rect x="553.20" y="154.68" width="7.77" height="6.64" fill="#a52914"/>
<rect x="559.98" y="154.68" width="7.77" height="6.64" fill="#c13c1a"/>
<rect x="566.75" y="154.68" width="7.77" height="6.64" fill="#c33f1a"/>
<rect x="573.52" y="154.68" width="7.77" height="6.64" fill="#cb451b"/>
<rect x="580.29" y="154.68" width="7.77" height="6.64" fill="#cb451b"/>
<rect x="587.06" y="154.68" width="7.77" height="6.64" fill="#d24a1c"/>
<rect x="593.84" y="154.68" width="7.77" height="6.64" fill="#da501d"/>
<rect x="600.61" y="154.68" width="7.77" height="6.64" fill="#e95e21"/>
<rect x="607.38" y="154.68" width="7.77" height="6.64" fill="#e95e21"/>
<rect x="614.15" y="154.68" width="7.77" height="6.64" fill="#e6822b"/>
<rect x="620.92" y="154.68" width="7.77" height="6.64" fill="#e29c35"/>
<rect x="627.70" y="154.68" width="7.77" height="6.64" fill="#e1a537"/>
<rect x="634.47" y="154.68" width="7.77" height="6.64" fill="#dfad39"/>
<rect x="641.24" y="154.68" width="7.77" height="6.64" fill="#dbbe3e"/>
<rect x="648.01" y="154.68" width="7.77" height="6.64" fill="#d4e14b"/>
<rect x="654.78" y="154.68" width="7.77" height="6.64" fill="#cce850"/>
<rect x="661.56" y="154.68" width="7.77" height="6.64" fill="#bef059"/>
<rect x="668.33" y="154.68" width="6.77" height="6.64" fill="#b6f360"/>
<rect x="505.80" y="160.32" width="7.77" height="6.64" fill="#88140d"/>
<rect x="512.57" y="160.32" width="7.77" height="6.64" fill="#88140d"/>
<rect x="519.34" y="160.32" width="7.77" height="6.64" fill="#921c11"/>
<rect x="526.12" y="160.32" width="7.77" height="6.64" fill="#921c11"/>
<rect x="532.89" y="160.32" width="7.77" height="6.64" fill="#9b2213"/>
<rect x="539.66" y="160.32" width="7.77" height="6.64" fill="#a52914"/>
<rect x="546.43" y="160.32" width="7.77" height="6.64" fill="#a52914"/>
<rect x="553.20" y="160.32" width="7.77" height="6.64" fill="#b13117"/>
<rect x="559.98" y="160.32" width="7.77" height="6.64" fill="#cf481b"/>
<rect x="566.75" y="160.32" width="7.77" height="6.64" fill="#d24a1c"/>
<rect x="573.52" y="160.32" width="7.77" height="6.64" fill="#da501d"/>
<rect x="580.29" y="160.32" width="7.77" height="6.64" fill="#e3561f"/>
<rect x="587.06" y="160.32" width="7.77" height="6.64" fill="#ea6a24"/>
<rect x="593.84" y="160.32" width="7.77" height="6.64" fill="#e87627"/>
<rect x="600.61" y="160.32" width="7.77" height="6.64" fill="#e6822b"/>
<rect x="607.38" y="160.32" width="7.77" height="6.64" fill="#e49030"/>
<rect x="614.15" y="160.32" width="7.77" height="6.64" fill="#ddb53b"/>
<rect x="620.92" y="160.32" width="7.77" height="6.64" fill="#d9c943"/>
<rect x="627.70" y="160.32" width="7.77" height="6.64" fill="#d7db48"/>
<rect x="634.47" y="160.32" width="7.77" height="6.64" fill="#d4e14b"/>
<rect x="641.24" y="160.32" width="7.77" height="6.64" fill="#d0e54e"/>
<rect x="648.01" y="160.32" width="7.77" height="6.64" fill="#c5ed55"/>
<rect x="654.78" y="160.32" width="7.77" height="6.64" fill="#b6f360"/>
<rect x="661.56" y="160.32" width="7.77" height="6.64" fill="#a2f86a"/>
<rect x="668.33" y="160.32" width="6.77" height="6.64" fill="#91f87f"/>
<rect x="505.80" y="165.96" width="7.77" height="6.64" fill="#88140d"/>
<rect x="512.57" y="165.96" width="7.77" height="6.64" fill="#921c11"/>
<rect x="519.34" y="165.96" width="7.77" height="6.64" fill="#921c11"/>
<rect x="526.12" y="165.96" width="7.77" height="6.64" fill="#9b2213"/>
<rect x="532.89" y="165.96" width="7.77" height="6.64" fill="#9b2213"/>
<rect x="539.66" y="165.96" width="7.77" height="6.64" fill="#a52914"/>
<rect x="546.43" y="165.96" width="7.77" height="6.64" fill="#b13117"/>
<rect x="553.20" y="165.96" width="7.77" height="6.64" fill="#bb3819"/>
<rect x="559.98" y="165.96" width="7.77" height="6.64" fill="#da501d"/>
<rect x="566.75" y="165.96" width="7.77" height="6.64" fill="#e3561f"/>
<rect x="573.52" y="165.96" width="7.77" height="6.64" fill="#ea6a24"/>
<rect x="580.29" y="165.96" width="7.77" height="6.64" fill="#e87627"/>
<rect x="587.06" y="165.96" width="7.77" height="6.64" fill="#e49030"/>
<rect x="593.84" y="165.96" width="7.77" height="6.64" fill="#e29c35"/>
<rect x="600.61" y="165.96" width="7.77" height="6.64" fill="#dfad39"/>
<rect x="607.38" y="165.96" width="7.77" height="6.64" fill="#d9c943"/>
<rect x="614.15" y="165.96" width="7.77" height="6.64" fill="#d7db48"/>
<rect x="620.92" y="165.96" width="7.77" height="6.64" fill="#d4e14b"/>
<rect x="627.70" y="165.96" width="7.77" height="6.64" fill="#cce850"/>
<rect x="634.47" y="165.96" width="7.77" height="6.64" fill="#c5ed55"/>
<rect x="641.24" y="165.96" width="7.77" height="6.64" fill="#aef565"/>
<rect x="648.01" y="165.96" width="7.77" height="6.64" fill="#a2f86a"/>
<rect x="654.78" y="165.96" width="7.77" height="6.64" fill="#89f98a"/>
<rect x="661.56" y="165.96" width="7.77" height="6.64" fill="#80fa9e"/>
<rect x="668.33" y="165.96" width="6.77" height="6.64" fill="#82f7ae"/>
<rect x="505.80" y="171.61" width="7.77" height="6.64" fill="#921c11"/>
<rect x="512.57" y="171.61" width="7.77" height="6.64" fill="#921c11"/>
<rect x="519.34" y="171.61" width="7.77" height="6.64" fill="#9b2213"/>
<rect x="526.12" y="171.61" width="7.77" height="6.64" fill="#a52914"/>
<rect x="532.89" y="171.61" width="7.77" height="6.64" fill="#b13117"/>
<rect x="539.66" y="171.61" width="7.77" height="6.64" fill="#bb3819"/>
<rect x="546.43" y="171.61" width="7.77" height="6.64" fill="#cb451b"/>
<rect x="553.20" y="171.61" width="7.77" height="6.64" fill="#da501d"/>
<rect x="559.98" y="171.61" width="7.77" height="6.64" fill="#e77d29"/>
<rect x="566.75" y="171.61" width="7.77" height="6.64" fill="#e29c35"/>
<rect x="573.52" y="171.61" width="7.77" height="6.64" fill="#e1a537"/>
<rect x="580.29" y="171.61" width="7.77" height="6.64" fill="#ddb53b"/>
<rect x="587.06" y="171.61" width="7.77" height="6.64" fill="#d9c943"/>
<rect x="593.84" y="171.61" width="7.77" height="6.64" fill="#d7db48"/>
<rect x="600.61" y="171.61" width="7.77" height="6.64" fill="#d4e14b"/>
<rect x="607.38" y="171.61" width="7.77" height="6.64" fill="#cce850"/>
<rect x="614.15" y="171.61" width="7.77" height="6.64" fill="#bef059"/>
<rect x="620.92" y="171.61" width="7.77" height="6.64" fill="#aef565"/>
<rect x="627.70" y="171.61" width="7.77" height="6.64" fill="#91f87f"/>
<rect x="634.47" y="171.61" width="7.77" height="6.64" fill="#81fa94"/>
<rect x="641.24" y="171.61" width="7.77" height="6.64" fill="#80fa9e"/>
<rect x="648.01" y="171.61" width="7.77" height="6.64" fill="#84f3b5"/>
<rect x="654.78" y="171.61" width="7.77" height="6.64" fill="#81dec8"/>
<rect x="661.56" y="171.61" width="7.77" height="6.64" fill="#7accd5"/>
<rect x="668.33" y="171.61" width="6.77" height="6.64" fill="#68aeee"/>
<rect x="505.80" y="177.25" width="7.77" height="5.64" fill="#9b2213"/>
<rect x="512.57" y="177.25" width="7.77" height="5.64" fill="#b13117"/>
<rect x="519.34" y="177.25" width="7.77" height="5.64" fill="#bb3819"/>
<rect x="526.12" y="177.25" width="7.77" height="5.64" fill="#d24a1c"/>
<rect x="532.89" y="177.25" width="7.77" height="5.64" fill="#e3561f"/>
<rect x="539.66" y="177.25" width="7.77" height="5.64" fill="#ea6a24"/>
<rect x="546.43" y="177.25" width="7.77" height="5.64" fill="#e49030"/>
<rect x="553.20" y="177.25" width="7.77" height="5.64" fill="#dfad39"/>
<rect x="559.98" y="177.25" width="7.77" height="5.64" fill="#d7d647"/>
<rect x="566.75" y="177.25" width="7.77" height="5.64" fill="#d4e14b"/>
<rect x="573.52" y="177.25" width="7.77" height="5.64" fill="#cce850"/>
<rect x="580.29" y="177.25" width="7.77" height="5.64" fill="#bef059"/>
<rect x="587.06" y="177.25" width="7.77" height="5.64" fill="#a8f667"/>
<rect x="593.84" y="177.25" width="7.77" height="5.64" fill="#99f874"/>
<rect x="600.61" y="177.25" width="7.77" height="5.64" fill="#81fa94"/>
<rect x="607.38" y="177.25" width="7.77" height="5.64" fill="#84f3b5"/>
<rect x="614.15" y="177.25" width="7.77" height="5.64" fill="#81dec8"/>
<rect x="620.92" y="177.25" width="7.77" height="5.64" fill="#7accd5"/>
<rect x="627.70" y="177.25" width="7.77" height="5.64" fill="#68aeee"/>
<rect x="634.47" y="177.25" width="7.77" height="5.64" fill="#62a4fc"/>
<rect x="641.24" y="177.25" width="7.77" height="5.64" fill="#5a8bdb"/>
<rect x="648.01" y="177.25" width="7.77" height="5.64" fill="#4f67b2"/>
<rect x="654.78" y="177.25" width="7.77" height="5.64" fill="#444589"/>
<rect x="661.56" y="177.25" width="7.77" height="5.64" fill="#3d326d"/>
<rect x="668.33" y="177.25" width="6.77" height="5.64" fill="#331d4a"/>
</g>
<g stroke="#fff" fill="none">
<path stroke-opacity="0.065" stroke-width="1" d="M505.80 75.64H675.10M505.80 81.29H675.10M505.80 86.94H675.10M505.80 92.58H675.10M505.80 98.22H675.10M505.80 103.87H675.10M505.80 109.52H675.10M505.80 115.16H675.10M505.80 120.80H675.10M505.80 126.45H675.10M505.80 132.09H675.10M505.80 137.74H675.10M505.80 143.38H675.10M505.80 149.03H675.10M505.80 154.68H675.10M505.80 160.32H675.10M505.80 165.96H675.10M505.80 171.61H675.10M505.80 177.25H675.10"/>
<path stroke-opacity="0.035" stroke-width="1" d="M512.57 70.00V182.90M519.34 70.00V182.90M526.12 70.00V182.90M532.89 70.00V182.90M539.66 70.00V182.90M546.43 70.00V182.90M553.20 70.00V182.90M559.98 70.00V182.90M566.75 70.00V182.90M573.52 70.00V182.90M580.29 70.00V182.90M587.06 70.00V182.90M593.84 70.00V182.90M600.61 70.00V182.90M607.38 70.00V182.90M614.15 70.00V182.90M620.92 70.00V182.90M627.70 70.00V182.90M634.47 70.00V182.90M641.24 70.00V182.90M648.01 70.00V182.90M654.78 70.00V182.90M661.56 70.00V182.90M668.33 70.00V182.90"/>
</g>
<g stroke="#000" stroke-width="1.07" fill="none">
<path d="M497.40 64.20V188.40H683.80"/>
<path d="M493.90 185.70H497.40"/>
<path d="M493.90 157.47H497.40"/>
<path d="M493.90 129.25H497.40"/>
<path d="M493.90 101.02H497.40"/>
<path d="M493.90 72.80H497.40"/>
<path d="M502.35 188.40V191.70"/>
<path d="M536.22 188.40V191.70"/>
<path d="M570.10 188.40V191.70"/>
<path d="M603.97 188.40V191.70"/>
<path d="M637.85 188.40V191.70"/>
<path d="M671.72 188.40V191.70"/>
</g>
<g fill="#2a2a2a" stroke="#2a2a2a" stroke-width="0.2" font-size="10.40">
<text transform="translate(491.20 189.60) scale(1 1.0)" text-anchor="end">0</text>
<text transform="translate(491.20 161.38) scale(1 1.0)" text-anchor="end">5</text>
<text transform="translate(491.20 133.15) scale(1 1.0)" text-anchor="end">10</text>
<text transform="translate(491.20 104.92) scale(1 1.0)" text-anchor="end">15</text>
<text transform="translate(491.20 76.70) scale(1 1.0)" text-anchor="end">20</text>
<text transform="translate(502.35 201.60) scale(1 1.0)" text-anchor="middle">0</text>
<text transform="translate(536.22 201.60) scale(1 1.0)" text-anchor="middle">5</text>
<text transform="translate(570.10 201.60) scale(1 1.0)" text-anchor="middle">10</text>
<text transform="translate(603.97 201.60) scale(1 1.0)" text-anchor="middle">15</text>
<text transform="translate(637.85 201.60) scale(1 1.0)" text-anchor="middle">20</text>
<text transform="translate(671.72 201.60) scale(1 1.0)" text-anchor="middle">25</text>
</g>
<text transform="translate(590.50 217.30) scale(1 1.04)" font-size="13" text-anchor="middle" fill="#000">Threshold (percentile)</text>
<text transform="translate(473.30 126.40) rotate(-90) scale(1 1.04)" font-size="13" text-anchor="middle" fill="#000">Minimum event duration (days)</text>
<text transform="translate(496.90 54.90) scale(1 1.04)" font-size="15.6" fill="#000">C) NZ-FoT-20m</text>
<g>
<rect x="41.90" y="302.00" width="7.77" height="6.64" fill="#bfbfbf"/>
<rect x="48.67" y="302.00" width="7.77" height="6.64" fill="#bfbfbf"/>
<rect x="55.44" y="302.00" width="7.77" height="6.64" fill="#bfbfbf"/>
<rect x="62.22" y="302.00" width="7.77" height="6.64" fill="#bfbfbf"/>
<rect x="68.99" y="302.00" width="7.77" height="6.64" fill="#bfbfbf"/>
<rect x="75.76" y="302.00" width="7.77" height="6.64" fill="#bfbfbf"/>
<rect x="82.53" y="302.00" width="7.77" height="6.64" fill="#bfbfbf"/>
<rect x="89.30" y="302.00" width="7.77" height="6.64" fill="#447b8c"/>
<rect x="96.08" y="302.00" width="7.77" height="6.64" fill="#447b8c"/>
<rect x="102.85" y="302.00" width="7.77" height="6.64" fill="#447b8c"/>
<rect x="109.62" y="302.00" width="7.77" height="6.64" fill="#447b8c"/>
<rect x="116.39" y="302.00" width="7.77" height="6.64" fill="#4b988a"/>
<rect x="123.16" y="302.00" width="7.77" height="6.64" fill="#4d9e8a"/>
<rect x="129.94" y="302.00" width="7.77" height="6.64" fill="#4d9e8a"/>
<rect x="136.71" y="302.00" width="7.77" height="6.64" fill="#45808c"/>
<rect x="143.48" y="302.00" width="7.77" height="6.64" fill="#50a38b"/>
<rect x="150.25" y="302.00" width="7.77" height="6.64" fill="#50a38b"/>
<rect x="157.02" y="302.00" width="7.77" height="6.64" fill="#498e8a"/>
<rect x="163.80" y="302.00" width="7.77" height="6.64" fill="#498e8a"/>
<rect x="170.57" y="302.00" width="7.77" height="6.64" fill="#498e8a"/>
<rect x="177.34" y="302.00" width="7.77" height="6.64" fill="#498e8a"/>
<rect x="184.11" y="302.00" width="7.77" height="6.64" fill="#498e8a"/>
<rect x="190.88" y="302.00" width="7.77" height="6.64" fill="#498e8a"/>
<rect x="197.66" y="302.00" width="7.77" height="6.64" fill="#46858b"/>
<rect x="204.43" y="302.00" width="6.77" height="6.64" fill="#45738b"/>
<rect x="41.90" y="307.64" width="7.77" height="6.64" fill="#bfbfbf"/>
<rect x="48.67" y="307.64" width="7.77" height="6.64" fill="#bfbfbf"/>
<rect x="55.44" y="307.64" width="7.77" height="6.64" fill="#bfbfbf"/>
<rect x="62.22" y="307.64" width="7.77" height="6.64" fill="#bfbfbf"/>
<rect x="68.99" y="307.64" width="7.77" height="6.64" fill="#bfbfbf"/>
<rect x="75.76" y="307.64" width="7.77" height="6.64" fill="#bfbfbf"/>
<rect x="82.53" y="307.64" width="7.77" height="6.64" fill="#bfbfbf"/>
<rect x="89.30" y="307.64" width="7.77" height="6.64" fill="#447b8c"/>
<rect x="96.08" y="307.64" width="7.77" height="6.64" fill="#447b8c"/>
<rect x="102.85" y="307.64" width="7.77" height="6.64" fill="#447b8c"/>
<rect x="109.62" y="307.64" width="7.77" height="6.64" fill="#447b8c"/>
<rect x="116.39" y="307.64" width="7.77" height="6.64" fill="#4d9e8a"/>
<rect x="123.16" y="307.64" width="7.77" height="6.64" fill="#4d9e8a"/>
<rect x="129.94" y="307.64" width="7.77" height="6.64" fill="#4a928a"/>
<rect x="136.71" y="307.64" width="7.77" height="6.64" fill="#488b8a"/>
<rect x="143.48" y="307.64" width="7.77" height="6.64" fill="#50a38b"/>
<rect x="150.25" y="307.64" width="7.77" height="6.64" fill="#4b988a"/>
<rect x="157.02" y="307.64" width="7.77" height="6.64" fill="#4b988a"/>
<rect x="163.80" y="307.64" width="7.77" height="6.64" fill="#4b988a"/>
<rect x="170.57" y="307.64" width="7.77" height="6.64" fill="#4b988a"/>
<rect x="177.34" y="307.64" width="7.77" height="6.64" fill="#50a38b"/>
<rect x="184.11" y="307.64" width="7.77" height="6.64" fill="#50a38b"/>
<rect x="190.88" y="307.64" width="7.77" height="6.64" fill="#50a38b"/>
<rect x="197.66" y="307.64" width="7.77" height="6.64" fill="#498e8a"/>
<rect x="204.43" y="307.64" width="6.77" height="6.64" fill="#45808c"/>
<rect x="41.90" y="313.29" width="7.77" height="6.64" fill="#bfbfbf"/>
<rect x="48.67" y="313.29" width="7.77" height="6.64" fill="#bfbfbf"/>
<rect x="55.44" y="313.29" width="7.77" height="6.64" fill="#bfbfbf"/>
<rect x="62.22" y="313.29" width="7.77" height="6.64" fill="#bfbfbf"/>
<rect x="68.99" y="313.29" width="7.77" height="6.64" fill="#bfbfbf"/>
<rect x="75.76" y="313.29" width="7.77" height="6.64" fill="#bfbfbf"/>
<rect x="82.53" y="313.29" width="7.77" height="6.64" fill="#bfbfbf"/>
<rect x="89.30" y="313.29" width="7.77" height="6.64" fill="#447b8c"/>
<rect x="96.08" y="313.29" width="7.77" height="6.64" fill="#447b8c"/>
<rect x="102.85" y="313.29" width="7.77" height="6.64" fill="#447b8c"/>
<rect x="109.62" y="313.29" width="7.77" height="6.64" fill="#447b8c"/>
<rect x="116.39" y="313.29" width="7.77" height="6.64" fill="#52a98c"/>
<rect x="123.16" y="313.29" width="7.77" height="6.64" fill="#4d9e8a"/>
<rect x="129.94" y="313.29" width="7.77" height="6.64" fill="#4a928a"/>
<rect x="136.71" y="313.29" width="7.77" height="6.64" fill="#488b8a"/>
<rect x="143.48" y="313.29" width="7.77" height="6.64" fill="#50a38b"/>
<rect x="150.25" y="313.29" width="7.77" height="6.64" fill="#50a38b"/>
<rect x="157.02" y="313.29" width="7.77" height="6.64" fill="#50a38b"/>
<rect x="163.80" y="313.29" width="7.77" height="6.64" fill="#50a38b"/>
<rect x="170.57" y="313.29" width="7.77" height="6.64" fill="#4b988a"/>
<rect x="177.34" y="313.29" width="7.77" height="6.64" fill="#46858b"/>
<rect x="184.11" y="313.29" width="7.77" height="6.64" fill="#46858b"/>
<rect x="190.88" y="313.29" width="7.77" height="6.64" fill="#46858b"/>
<rect x="197.66" y="313.29" width="7.77" height="6.64" fill="#447d8c"/>
<rect x="204.43" y="313.29" width="6.77" height="6.64" fill="#424d86"/>
<rect x="41.90" y="318.94" width="7.77" height="6.64" fill="#bfbfbf"/>
<rect x="48.67" y="318.94" width="7.77" height="6.64" fill="#bfbfbf"/>
<rect x="55.44" y="318.94" width="7.77" height="6.64" fill="#bfbfbf"/>
<rect x="62.22" y="318.94" width="7.77" height="6.64" fill="#bfbfbf"/>
<rect x="68.99" y="318.94" width="7.77" height="6.64" fill="#bfbfbf"/>
<rect x="75.76" y="318.94" width="7.77" height="6.64" fill="#bfbfbf"/>
<rect x="82.53" y="318.94" width="7.77" height="6.64" fill="#bfbfbf"/>
<rect x="89.30" y="318.94" width="7.77" height="6.64" fill="#447b8c"/>
<rect x="96.08" y="318.94" width="7.77" height="6.64" fill="#447b8c"/>
<rect x="102.85" y="318.94" width="7.77" height="6.64" fill="#447b8c"/>
<rect x="109.62" y="318.94" width="7.77" height="6.64" fill="#447b8c"/>
<rect x="116.39" y="318.94" width="7.77" height="6.64" fill="#52a98c"/>
<rect x="123.16" y="318.94" width="7.77" height="6.64" fill="#52b489"/>
<rect x="129.94" y="318.94" width="7.77" height="6.64" fill="#52b489"/>
<rect x="136.71" y="318.94" width="7.77" height="6.64" fill="#52b489"/>
<rect x="143.48" y="318.94" width="7.77" height="6.64" fill="#50a38b"/>
<rect x="150.25" y="318.94" width="7.77" height="6.64" fill="#50a38b"/>
<rect x="157.02" y="318.94" width="7.77" height="6.64" fill="#50a38b"/>
<rect x="163.80" y="318.94" width="7.77" height="6.64" fill="#50a38b"/>
<rect x="170.57" y="318.94" width="7.77" height="6.64" fill="#4b988a"/>
<rect x="177.34" y="318.94" width="7.77" height="6.64" fill="#46858b"/>
<rect x="184.11" y="318.94" width="7.77" height="6.64" fill="#46858b"/>
<rect x="190.88" y="318.94" width="7.77" height="6.64" fill="#46858b"/>
<rect x="197.66" y="318.94" width="7.77" height="6.64" fill="#447d8c"/>
<rect x="204.43" y="318.94" width="6.77" height="6.64" fill="#475889"/>
<rect x="41.90" y="324.58" width="7.77" height="6.64" fill="#bfbfbf"/>
<rect x="48.67" y="324.58" width="7.77" height="6.64" fill="#bfbfbf"/>
<rect x="55.44" y="324.58" width="7.77" height="6.64" fill="#bfbfbf"/>
<rect x="62.22" y="324.58" width="7.77" height="6.64" fill="#bfbfbf"/>
<rect x="68.99" y="324.58" width="7.77" height="6.64" fill="#bfbfbf"/>
<rect x="75.76" y="324.58" width="7.77" height="6.64" fill="#bfbfbf"/>
<rect x="82.53" y="324.58" width="7.77" height="6.64" fill="#bfbfbf"/>
<rect x="89.30" y="324.58" width="7.77" height="6.64" fill="#447b8c"/>
<rect x="96.08" y="324.58" width="7.77" height="6.64" fill="#447b8c"/>
<rect x="102.85" y="324.58" width="7.77" height="6.64" fill="#447b8c"/>
<rect x="109.62" y="324.58" width="7.77" height="6.64" fill="#447b8c"/>
<rect x="116.39" y="324.58" width="7.77" height="6.64" fill="#4d9e8a"/>
<rect x="123.16" y="324.58" width="7.77" height="6.64" fill="#52b489"/>
<rect x="129.94" y="324.58" width="7.77" height="6.64" fill="#52a98c"/>
<rect x="136.71" y="324.58" width="7.77" height="6.64" fill="#52a98c"/>
<rect x="143.48" y="324.58" width="7.77" height="6.64" fill="#52a98c"/>
<rect x="150.25" y="324.58" width="7.77" height="6.64" fill="#4d9e8a"/>
<rect x="157.02" y="324.58" width="7.77" height="6.64" fill="#4d9e8a"/>
<rect x="163.80" y="324.58" width="7.77" height="6.64" fill="#4d9e8a"/>
<rect x="170.57" y="324.58" width="7.77" height="6.64" fill="#4d9e8a"/>
<rect x="177.34" y="324.58" width="7.77" height="6.64" fill="#4d9e8a"/>
<rect x="184.11" y="324.58" width="7.77" height="6.64" fill="#4d9e8a"/>
<rect x="190.88" y="324.58" width="7.77" height="6.64" fill="#4d9e8a"/>
<rect x="197.66" y="324.58" width="7.77" height="6.64" fill="#4a928a"/>
<rect x="204.43" y="324.58" width="6.77" height="6.64" fill="#46688a"/>
<rect x="41.90" y="330.23" width="7.77" height="6.64" fill="#bfbfbf"/>
<rect x="48.67" y="330.23" width="7.77" height="6.64" fill="#bfbfbf"/>
<rect x="55.44" y="330.23" width="7.77" height="6.64" fill="#bfbfbf"/>
<rect x="62.22" y="330.23" width="7.77" height="6.64" fill="#bfbfbf"/>
<rect x="68.99" y="330.23" width="7.77" height="6.64" fill="#bfbfbf"/>
<rect x="75.76" y="330.23" width="7.77" height="6.64" fill="#bfbfbf"/>
<rect x="82.53" y="330.23" width="7.77" height="6.64" fill="#bfbfbf"/>
<rect x="89.30" y="330.23" width="7.77" height="6.64" fill="#447b8c"/>
<rect x="96.08" y="330.23" width="7.77" height="6.64" fill="#447b8c"/>
<rect x="102.85" y="330.23" width="7.77" height="6.64" fill="#447b8c"/>
<rect x="109.62" y="330.23" width="7.77" height="6.64" fill="#447b8c"/>
<rect x="116.39" y="330.23" width="7.77" height="6.64" fill="#4d9e8a"/>
<rect x="123.16" y="330.23" width="7.77" height="6.64" fill="#52b489"/>
<rect x="129.94" y="330.23" width="7.77" height="6.64" fill="#52b489"/>
<rect x="136.71" y="330.23" width="7.77" height="6.64" fill="#4d9e8a"/>
<rect x="143.48" y="330.23" width="7.77" height="6.64" fill="#4d9e8a"/>
<rect x="150.25" y="330.23" width="7.77" height="6.64" fill="#4d9e8a"/>
<rect x="157.02" y="330.23" width="7.77" height="6.64" fill="#4d9e8a"/>
<rect x="163.80" y="330.23" width="7.77" height="6.64" fill="#4d9e8a"/>
<rect x="170.57" y="330.23" width="7.77" height="6.64" fill="#4d9e8a"/>
<rect x="177.34" y="330.23" width="7.77" height="6.64" fill="#4d9e8a"/>
<rect x="184.11" y="330.23" width="7.77" height="6.64" fill="#4d9e8a"/>
<rect x="190.88" y="330.23" width="7.77" height="6.64" fill="#4a928a"/>
<rect x="197.66" y="330.23" width="7.77" height="6.64" fill="#488b8a"/>
<rect x="204.43" y="330.23" width="6.77" height="6.64" fill="#46688a"/>
<rect x="41.90" y="335.87" width="7.77" height="6.64" fill="#bfbfbf"/>
<rect x="48.67" y="335.87" width="7.77" height="6.64" fill="#bfbfbf"/>
<rect x="55.44" y="335.87" width="7.77" height="6.64" fill="#bfbfbf"/>
<rect x="62.22" y="335.87" width="7.77" height="6.64" fill="#bfbfbf"/>
<rect x="68.99" y="335.87" width="7.77" height="6.64" fill="#bfbfbf"/>
<rect x="75.76" y="335.87" width="7.77" height="6.64" fill="#bfbfbf"/>
<rect x="82.53" y="335.87" width="7.77" height="6.64" fill="#bfbfbf"/>
<rect x="89.30" y="335.87" width="7.77" height="6.64" fill="#447b8c"/>
<rect x="96.08" y="335.87" width="7.77" height="6.64" fill="#488b8a"/>
<rect x="102.85" y="335.87" width="7.77" height="6.64" fill="#485e8a"/>
<rect x="109.62" y="335.87" width="7.77" height="6.64" fill="#485e8a"/>
<rect x="116.39" y="335.87" width="7.77" height="6.64" fill="#4d9e8a"/>
<rect x="123.16" y="335.87" width="7.77" height="6.64" fill="#52b489"/>
<rect x="129.94" y="335.87" width="7.77" height="6.64" fill="#5bbf82"/>
<rect x="136.71" y="335.87" width="7.77" height="6.64" fill="#52a98c"/>
<rect x="143.48" y="335.87" width="7.77" height="6.64" fill="#4d9e8a"/>
<rect x="150.25" y="335.87" width="7.77" height="6.64" fill="#4d9e8a"/>
<rect x="157.02" y="335.87" width="7.77" height="6.64" fill="#4a928a"/>
<rect x="163.80" y="335.87" width="7.77" height="6.64" fill="#4d9e8a"/>
<rect x="170.57" y="335.87" width="7.77" height="6.64" fill="#4a928a"/>
<rect x="177.34" y="335.87" width="7.77" height="6.64" fill="#4a928a"/>
<rect x="184.11" y="335.87" width="7.77" height="6.64" fill="#4a928a"/>
<rect x="190.88" y="335.87" width="7.77" height="6.64" fill="#4a928a"/>
<rect x="197.66" y="335.87" width="7.77" height="6.64" fill="#45808c"/>
<rect x="204.43" y="335.87" width="6.77" height="6.64" fill="#46688a"/>
<rect x="41.90" y="341.51" width="7.77" height="6.64" fill="#bfbfbf"/>
<rect x="48.67" y="341.51" width="7.77" height="6.64" fill="#bfbfbf"/>
<rect x="55.44" y="341.51" width="7.77" height="6.64" fill="#bfbfbf"/>
<rect x="62.22" y="341.51" width="7.77" height="6.64" fill="#bfbfbf"/>
<rect x="68.99" y="341.51" width="7.77" height="6.64" fill="#bfbfbf"/>
<rect x="75.76" y="341.51" width="7.77" height="6.64" fill="#bfbfbf"/>
<rect x="82.53" y="341.51" width="7.77" height="6.64" fill="#bfbfbf"/>
<rect x="89.30" y="341.51" width="7.77" height="6.64" fill="#447b8c"/>
<rect x="96.08" y="341.51" width="7.77" height="6.64" fill="#4d9e8a"/>
<rect x="102.85" y="341.51" width="7.77" height="6.64" fill="#52b489"/>
<rect x="109.62" y="341.51" width="7.77" height="6.64" fill="#52b489"/>
<rect x="116.39" y="341.51" width="7.77" height="6.64" fill="#52b489"/>
<rect x="123.16" y="341.51" width="7.77" height="6.64" fill="#52b489"/>
<rect x="129.94" y="341.51" width="7.77" height="6.64" fill="#52b489"/>
<rect x="136.71" y="341.51" width="7.77" height="6.64" fill="#52b489"/>
<rect x="143.48" y="341.51" width="7.77" height="6.64" fill="#4d9e8a"/>
<rect x="150.25" y="341.51" width="7.77" height="6.64" fill="#52a98c"/>
<rect x="157.02" y="341.51" width="7.77" height="6.64" fill="#488b8a"/>
<rect x="163.80" y="341.51" width="7.77" height="6.64" fill="#488b8a"/>
<rect x="170.57" y="341.51" width="7.77" height="6.64" fill="#488b8a"/>
<rect x="177.34" y="341.51" width="7.77" height="6.64" fill="#45808c"/>
<rect x="184.11" y="341.51" width="7.77" height="6.64" fill="#45808c"/>
<rect x="190.88" y="341.51" width="7.77" height="6.64" fill="#45808c"/>
<rect x="197.66" y="341.51" width="7.77" height="6.64" fill="#447b8c"/>
<rect x="204.43" y="341.51" width="6.77" height="6.64" fill="#485e8a"/>
<rect x="41.90" y="347.16" width="7.77" height="6.64" fill="#bfbfbf"/>
<rect x="48.67" y="347.16" width="7.77" height="6.64" fill="#bfbfbf"/>
<rect x="55.44" y="347.16" width="7.77" height="6.64" fill="#bfbfbf"/>
<rect x="62.22" y="347.16" width="7.77" height="6.64" fill="#bfbfbf"/>
<rect x="68.99" y="347.16" width="7.77" height="6.64" fill="#bfbfbf"/>
<rect x="75.76" y="347.16" width="7.77" height="6.64" fill="#bfbfbf"/>
<rect x="82.53" y="347.16" width="7.77" height="6.64" fill="#447b8c"/>
<rect x="89.30" y="347.16" width="7.77" height="6.64" fill="#485e8a"/>
<rect x="96.08" y="347.16" width="7.77" height="6.64" fill="#4b988a"/>
<rect x="102.85" y="347.16" width="7.77" height="6.64" fill="#52b489"/>
<rect x="109.62" y="347.16" width="7.77" height="6.64" fill="#52b489"/>
<rect x="116.39" y="347.16" width="7.77" height="6.64" fill="#5bbf82"/>
<rect x="123.16" y="347.16" width="7.77" height="6.64" fill="#5bbf82"/>
<rect x="129.94" y="347.16" width="7.77" height="6.64" fill="#52b489"/>
<rect x="136.71" y="347.16" width="7.77" height="6.64" fill="#4d9e8a"/>
<rect x="143.48" y="347.16" width="7.77" height="6.64" fill="#4a928a"/>
<rect x="150.25" y="347.16" width="7.77" height="6.64" fill="#498e8a"/>
<rect x="157.02" y="347.16" width="7.77" height="6.64" fill="#488b8a"/>
<rect x="163.80" y="347.16" width="7.77" height="6.64" fill="#488b8a"/>
<rect x="170.57" y="347.16" width="7.77" height="6.64" fill="#45808c"/>
<rect x="177.34" y="347.16" width="7.77" height="6.64" fill="#45808c"/>
<rect x="184.11" y="347.16" width="7.77" height="6.64" fill="#447b8c"/>
<rect x="190.88" y="347.16" width="7.77" height="6.64" fill="#447b8c"/>
<rect x="197.66" y="347.16" width="7.77" height="6.64" fill="#485e8a"/>
<rect x="204.43" y="347.16" width="6.77" height="6.64" fill="#475889"/>
<rect x="41.90" y="352.81" width="7.77" height="6.64" fill="#bfbfbf"/>
<rect x="48.67" y="352.81" width="7.77" height="6.64" fill="#e5ef3f"/>
<rect x="55.44" y="352.81" width="7.77" height="6.64" fill="#e5ef3f"/>
<rect x="62.22" y="352.81" width="7.77" height="6.64" fill="#e5ef3f"/>
<rect x="68.99" y="352.81" width="7.77" height="6.64" fill="#e5ef3f"/>
<rect x="75.76" y="352.81" width="7.77" height="6.64" fill="#e5ef3f"/>
<rect x="82.53" y="352.81" width="7.77" height="6.64" fill="#75d16d"/>
<rect x="89.30" y="352.81" width="7.77" height="6.64" fill="#52b489"/>
<rect x="96.08" y="352.81" width="7.77" height="6.64" fill="#52b489"/>
<rect x="102.85" y="352.81" width="7.77" height="6.64" fill="#5bbf82"/>
<rect x="109.62" y="352.81" width="7.77" height="6.64" fill="#5bbf82"/>
<rect x="116.39" y="352.81" width="7.77" height="6.64" fill="#5bbf82"/>
<rect x="123.16" y="352.81" width="7.77" height="6.64" fill="#52a98c"/>
<rect x="129.94" y="352.81" width="7.77" height="6.64" fill="#52a98c"/>
<rect x="136.71" y="352.81" width="7.77" height="6.64" fill="#52a98c"/>
<rect x="143.48" y="352.81" width="7.77" height="6.64" fill="#4d9e8a"/>
<rect x="150.25" y="352.81" width="7.77" height="6.64" fill="#4a928a"/>
<rect x="157.02" y="352.81" width="7.77" height="6.64" fill="#4a928a"/>
<rect x="163.80" y="352.81" width="7.77" height="6.64" fill="#45738b"/>
<rect x="170.57" y="352.81" width="7.77" height="6.64" fill="#45738b"/>
<rect x="177.34" y="352.81" width="7.77" height="6.64" fill="#45738b"/>
<rect x="184.11" y="352.81" width="7.77" height="6.64" fill="#46688a"/>
<rect x="190.88" y="352.81" width="7.77" height="6.64" fill="#45738b"/>
<rect x="197.66" y="352.81" width="7.77" height="6.64" fill="#424d86"/>
<rect x="204.43" y="352.81" width="6.77" height="6.64" fill="#424884"/>
<rect x="41.90" y="358.45" width="7.77" height="6.64" fill="#bfbfbf"/>
<rect x="48.67" y="358.45" width="7.77" height="6.64" fill="#e5ef3f"/>
<rect x="55.44" y="358.45" width="7.77" height="6.64" fill="#e5ef3f"/>
<rect x="62.22" y="358.45" width="7.77" height="6.64" fill="#e5ef3f"/>
<rect x="68.99" y="358.45" width="7.77" height="6.64" fill="#e5ef3f"/>
<rect x="75.76" y="358.45" width="7.77" height="6.64" fill="#4a928a"/>
<rect x="82.53" y="358.45" width="7.77" height="6.64" fill="#52b489"/>
<rect x="89.30" y="358.45" width="7.77" height="6.64" fill="#52b489"/>
<rect x="96.08" y="358.45" width="7.77" height="6.64" fill="#52b489"/>
<rect x="102.85" y="358.45" width="7.77" height="6.64" fill="#5bbf82"/>
<rect x="109.62" y="358.45" width="7.77" height="6.64" fill="#63c57d"/>
<rect x="116.39" y="358.45" width="7.77" height="6.64" fill="#52a98c"/>
<rect x="123.16" y="358.45" width="7.77" height="6.64" fill="#4d9e8a"/>
<rect x="129.94" y="358.45" width="7.77" height="6.64" fill="#4d9e8a"/>
<rect x="136.71" y="358.45" width="7.77" height="6.64" fill="#488b8a"/>
<rect x="143.48" y="358.45" width="7.77" height="6.64" fill="#4a928a"/>
<rect x="150.25" y="358.45" width="7.77" height="6.64" fill="#498e8a"/>
<rect x="157.02" y="358.45" width="7.77" height="6.64" fill="#488b8a"/>
<rect x="163.80" y="358.45" width="7.77" height="6.64" fill="#447b8c"/>
<rect x="170.57" y="358.45" width="7.77" height="6.64" fill="#447b8c"/>
<rect x="177.34" y="358.45" width="7.77" height="6.64" fill="#45738b"/>
<rect x="184.11" y="358.45" width="7.77" height="6.64" fill="#45738b"/>
<rect x="190.88" y="358.45" width="7.77" height="6.64" fill="#45738b"/>
<rect x="197.66" y="358.45" width="7.77" height="6.64" fill="#445388"/>
<rect x="204.43" y="358.45" width="6.77" height="6.64" fill="#424d86"/>
<rect x="41.90" y="364.10" width="7.77" height="6.64" fill="#bfbfbf"/>
<rect x="48.67" y="364.10" width="7.77" height="6.64" fill="#e5ef3f"/>
<rect x="55.44" y="364.10" width="7.77" height="6.64" fill="#e5ef3f"/>
<rect x="62.22" y="364.10" width="7.77" height="6.64" fill="#e5ef3f"/>
<rect x="68.99" y="364.10" width="7.77" height="6.64" fill="#e5ef3f"/>
<rect x="75.76" y="364.10" width="7.77" height="6.64" fill="#4a928a"/>
<rect x="82.53" y="364.10" width="7.77" height="6.64" fill="#52b489"/>
<rect x="89.30" y="364.10" width="7.77" height="6.64" fill="#52b489"/>
<rect x="96.08" y="364.10" width="7.77" height="6.64" fill="#5bbf82"/>
<rect x="102.85" y="364.10" width="7.77" height="6.64" fill="#5bbf82"/>
<rect x="109.62" y="364.10" width="7.77" height="6.64" fill="#5bbf82"/>
<rect x="116.39" y="364.10" width="7.77" height="6.64" fill="#52a98c"/>
<rect x="123.16" y="364.10" width="7.77" height="6.64" fill="#4d9e8a"/>
<rect x="129.94" y="364.10" width="7.77" height="6.64" fill="#45808c"/>
<rect x="136.71" y="364.10" width="7.77" height="6.64" fill="#4a928a"/>
<rect x="143.48" y="364.10" width="7.77" height="6.64" fill="#4a928a"/>
<rect x="150.25" y="364.10" width="7.77" height="6.64" fill="#498e8a"/>
<rect x="157.02" y="364.10" width="7.77" height="6.64" fill="#488b8a"/>
<rect x="163.80" y="364.10" width="7.77" height="6.64" fill="#45808c"/>
<rect x="170.57" y="364.10" width="7.77" height="6.64" fill="#45738b"/>
<rect x="177.34" y="364.10" width="7.77" height="6.64" fill="#46688a"/>
<rect x="184.11" y="364.10" width="7.77" height="6.64" fill="#485e8a"/>
<rect x="190.88" y="364.10" width="7.77" height="6.64" fill="#46688a"/>
<rect x="197.66" y="364.10" width="7.77" height="6.64" fill="#445388"/>
<rect x="204.43" y="364.10" width="6.77" height="6.64" fill="#424884"/>
<rect x="41.90" y="369.74" width="7.77" height="6.64" fill="#bfbfbf"/>
<rect x="48.67" y="369.74" width="7.77" height="6.64" fill="#e5ef3f"/>
<rect x="55.44" y="369.74" width="7.77" height="6.64" fill="#e5ef3f"/>
<rect x="62.22" y="369.74" width="7.77" height="6.64" fill="#dcec43"/>
<rect x="68.99" y="369.74" width="7.77" height="6.64" fill="#85e15b"/>
<rect x="75.76" y="369.74" width="7.77" height="6.64" fill="#52b489"/>
<rect x="82.53" y="369.74" width="7.77" height="6.64" fill="#52b489"/>
<rect x="89.30" y="369.74" width="7.77" height="6.64" fill="#52b489"/>
<rect x="96.08" y="369.74" width="7.77" height="6.64" fill="#67c67b"/>
<rect x="102.85" y="369.74" width="7.77" height="6.64" fill="#5bbf82"/>
<rect x="109.62" y="369.74" width="7.77" height="6.64" fill="#5bbf82"/>
<rect x="116.39" y="369.74" width="7.77" height="6.64" fill="#5bbf82"/>
<rect x="123.16" y="369.74" width="7.77" height="6.64" fill="#52b489"/>
<rect x="129.94" y="369.74" width="7.77" height="6.64" fill="#4a928a"/>
<rect x="136.71" y="369.74" width="7.77" height="6.64" fill="#488b8a"/>
<rect x="143.48" y="369.74" width="7.77" height="6.64" fill="#488b8a"/>
<rect x="150.25" y="369.74" width="7.77" height="6.64" fill="#498e8a"/>
<rect x="157.02" y="369.74" width="7.77" height="6.64" fill="#488b8a"/>
<rect x="163.80" y="369.74" width="7.77" height="6.64" fill="#447b8c"/>
<rect x="170.57" y="369.74" width="7.77" height="6.64" fill="#45738b"/>
<rect x="177.34" y="369.74" width="7.77" height="6.64" fill="#46688a"/>
<rect x="184.11" y="369.74" width="7.77" height="6.64" fill="#475889"/>
<rect x="190.88" y="369.74" width="7.77" height="6.64" fill="#475889"/>
<rect x="197.66" y="369.74" width="7.77" height="6.64" fill="#443e7e"/>
<rect x="204.43" y="369.74" width="6.77" height="6.64" fill="#424884"/>
<rect x="41.90" y="375.38" width="7.77" height="6.64" fill="#bfbfbf"/>
<rect x="48.67" y="375.38" width="7.77" height="6.64" fill="#e5ef3f"/>
<rect x="55.44" y="375.38" width="7.77" height="6.64" fill="#e5ef3f"/>
<rect x="62.22" y="375.38" width="7.77" height="6.64" fill="#dcec43"/>
<rect x="68.99" y="375.38" width="7.77" height="6.64" fill="#85e15b"/>
<rect x="75.76" y="375.38" width="7.77" height="6.64" fill="#63c57d"/>
<rect x="82.53" y="375.38" width="7.77" height="6.64" fill="#63c57d"/>
<rect x="89.30" y="375.38" width="7.77" height="6.64" fill="#5bbf82"/>
<rect x="96.08" y="375.38" width="7.77" height="6.64" fill="#5bbf82"/>
<rect x="102.85" y="375.38" width="7.77" height="6.64" fill="#5bbf82"/>
<rect x="109.62" y="375.38" width="7.77" height="6.64" fill="#52b489"/>
<rect x="116.39" y="375.38" width="7.77" height="6.64" fill="#52b489"/>
<rect x="123.16" y="375.38" width="7.77" height="6.64" fill="#52b489"/>
<rect x="129.94" y="375.38" width="7.77" height="6.64" fill="#4a928a"/>
<rect x="136.71" y="375.38" width="7.77" height="6.64" fill="#4a928a"/>
<rect x="143.48" y="375.38" width="7.77" height="6.64" fill="#4a928a"/>
<rect x="150.25" y="375.38" width="7.77" height="6.64" fill="#488b8a"/>
<rect x="157.02" y="375.38" width="7.77" height="6.64" fill="#447b8c"/>
<rect x="163.80" y="375.38" width="7.77" height="6.64" fill="#45738b"/>
<rect x="170.57" y="375.38" width="7.77" height="6.64" fill="#46688a"/>
<rect x="177.34" y="375.38" width="7.77" height="6.64" fill="#485e8a"/>
<rect x="184.11" y="375.38" width="7.77" height="6.64" fill="#475889"/>
<rect x="190.88" y="375.38" width="7.77" height="6.64" fill="#475889"/>
<rect x="197.66" y="375.38" width="7.77" height="6.64" fill="#424d86"/>
<rect x="204.43" y="375.38" width="6.77" height="6.64" fill="#424d86"/>
<rect x="41.90" y="381.03" width="7.77" height="6.64" fill="#bfbfbf"/>
<rect x="48.67" y="381.03" width="7.77" height="6.64" fill="#e5ef3f"/>
<rect x="55.44" y="381.03" width="7.77" height="6.64" fill="#85e15b"/>
<rect x="62.22" y="381.03" width="7.77" height="6.64" fill="#85e15b"/>
<rect x="68.99" y="381.03" width="7.77" height="6.64" fill="#85e15b"/>
<rect x="75.76" y="381.03" width="7.77" height="6.64" fill="#63c57d"/>
<rect x="82.53" y="381.03" width="7.77" height="6.64" fill="#5bbf82"/>
<rect x="89.30" y="381.03" width="7.77" height="6.64" fill="#5bbf82"/>
<rect x="96.08" y="381.03" width="7.77" height="6.64" fill="#5bbf82"/>
<rect x="102.85" y="381.03" width="7.77" height="6.64" fill="#52b489"/>
<rect x="109.62" y="381.03" width="7.77" height="6.64" fill="#52b489"/>
<rect x="116.39" y="381.03" width="7.77" height="6.64" fill="#52b489"/>
<rect x="123.16" y="381.03" width="7.77" height="6.64" fill="#52b489"/>
<rect x="129.94" y="381.03" width="7.77" height="6.64" fill="#4a928a"/>
<rect x="136.71" y="381.03" width="7.77" height="6.64" fill="#488b8a"/>
<rect x="143.48" y="381.03" width="7.77" height="6.64" fill="#4a928a"/>
<rect x="150.25" y="381.03" width="7.77" height="6.64" fill="#488b8a"/>
<rect x="157.02" y="381.03" width="7.77" height="6.64" fill="#447b8c"/>
<rect x="163.80" y="381.03" width="7.77" height="6.64" fill="#45738b"/>
<rect x="170.57" y="381.03" width="7.77" height="6.64" fill="#45738b"/>
<rect x="177.34" y="381.03" width="7.77" height="6.64" fill="#46688a"/>
<rect x="184.11" y="381.03" width="7.77" height="6.64" fill="#475889"/>
<rect x="190.88" y="381.03" width="7.77" height="6.64" fill="#475889"/>
<rect x="197.66" y="381.03" width="7.77" height="6.64" fill="#424d86"/>
<rect x="204.43" y="381.03" width="6.77" height="6.64" fill="#424884"/>
<rect x="41.90" y="386.68" width="7.77" height="6.64" fill="#bfbfbf"/>
<rect x="48.67" y="386.68" width="7.77" height="6.64" fill="#85e15b"/>
<rect x="55.44" y="386.68" width="7.77" height="6.64" fill="#85e15b"/>
<rect x="62.22" y="386.68" width="7.77" height="6.64" fill="#85e15b"/>
<rect x="68.99" y="386.68" width="7.77" height="6.64" fill="#75d16d"/>
<rect x="75.76" y="386.68" width="7.77" height="6.64" fill="#5bbf82"/>
<rect x="82.53" y="386.68" width="7.77" height="6.64" fill="#5bbf82"/>
<rect x="89.30" y="386.68" width="7.77" height="6.64" fill="#5bbf82"/>
<rect x="96.08" y="386.68" width="7.77" height="6.64" fill="#5bbf82"/>
<rect x="102.85" y="386.68" width="7.77" height="6.64" fill="#52b489"/>
<rect x="109.62" y="386.68" width="7.77" height="6.64" fill="#5bbf82"/>
<rect x="116.39" y="386.68" width="7.77" height="6.64" fill="#52b489"/>
<rect x="123.16" y="386.68" width="7.77" height="6.64" fill="#52b489"/>
<rect x="129.94" y="386.68" width="7.77" height="6.64" fill="#4a928a"/>
<rect x="136.71" y="386.68" width="7.77" height="6.64" fill="#488b8a"/>
<rect x="143.48" y="386.68" width="7.77" height="6.64" fill="#488b8a"/>
<rect x="150.25" y="386.68" width="7.77" height="6.64" fill="#45808c"/>
<rect x="157.02" y="386.68" width="7.77" height="6.64" fill="#447b8c"/>
<rect x="163.80" y="386.68" width="7.77" height="6.64" fill="#45738b"/>
<rect x="170.57" y="386.68" width="7.77" height="6.64" fill="#46688a"/>
<rect x="177.34" y="386.68" width="7.77" height="6.64" fill="#475889"/>
<rect x="184.11" y="386.68" width="7.77" height="6.64" fill="#445388"/>
<rect x="190.88" y="386.68" width="7.77" height="6.64" fill="#445388"/>
<rect x="197.66" y="386.68" width="7.77" height="6.64" fill="#424d86"/>
<rect x="204.43" y="386.68" width="6.77" height="6.64" fill="#424884"/>
<rect x="41.90" y="392.32" width="7.77" height="6.64" fill="#d0ea49"/>
<rect x="48.67" y="392.32" width="7.77" height="6.64" fill="#bee84c"/>
<rect x="55.44" y="392.32" width="7.77" height="6.64" fill="#bee84c"/>
<rect x="62.22" y="392.32" width="7.77" height="6.64" fill="#85e15b"/>
<rect x="68.99" y="392.32" width="7.77" height="6.64" fill="#75d16d"/>
<rect x="75.76" y="392.32" width="7.77" height="6.64" fill="#63c57d"/>
<rect x="82.53" y="392.32" width="7.77" height="6.64" fill="#5bbf82"/>
<rect x="89.30" y="392.32" width="7.77" height="6.64" fill="#5bbf82"/>
<rect x="96.08" y="392.32" width="7.77" height="6.64" fill="#5bbf82"/>
<rect x="102.85" y="392.32" width="7.77" height="6.64" fill="#52b489"/>
<rect x="109.62" y="392.32" width="7.77" height="6.64" fill="#5bbf82"/>
<rect x="116.39" y="392.32" width="7.77" height="6.64" fill="#5bbf82"/>
<rect x="123.16" y="392.32" width="7.77" height="6.64" fill="#52b489"/>
<rect x="129.94" y="392.32" width="7.77" height="6.64" fill="#4a928a"/>
<rect x="136.71" y="392.32" width="7.77" height="6.64" fill="#488b8a"/>
<rect x="143.48" y="392.32" width="7.77" height="6.64" fill="#4a928a"/>
<rect x="150.25" y="392.32" width="7.77" height="6.64" fill="#45808c"/>
<rect x="157.02" y="392.32" width="7.77" height="6.64" fill="#45738b"/>
<rect x="163.80" y="392.32" width="7.77" height="6.64" fill="#45738b"/>
<rect x="170.57" y="392.32" width="7.77" height="6.64" fill="#46688a"/>
<rect x="177.34" y="392.32" width="7.77" height="6.64" fill="#475889"/>
<rect x="184.11" y="392.32" width="7.77" height="6.64" fill="#445388"/>
<rect x="190.88" y="392.32" width="7.77" height="6.64" fill="#424d86"/>
<rect x="197.66" y="392.32" width="7.77" height="6.64" fill="#424884"/>
<rect x="204.43" y="392.32" width="6.77" height="6.64" fill="#424884"/>
<rect x="41.90" y="397.96" width="7.77" height="6.64" fill="#d0ea49"/>
<rect x="48.67" y="397.96" width="7.77" height="6.64" fill="#bee84c"/>
<rect x="55.44" y="397.96" width="7.77" height="6.64" fill="#ace650"/>
<rect x="62.22" y="397.96" width="7.77" height="6.64" fill="#85e15b"/>
<rect x="68.99" y="397.96" width="7.77" height="6.64" fill="#75d16d"/>
<rect x="75.76" y="397.96" width="7.77" height="6.64" fill="#75d16d"/>
<rect x="82.53" y="397.96" width="7.77" height="6.64" fill="#6bc878"/>
<rect x="89.30" y="397.96" width="7.77" height="6.64" fill="#63c57d"/>
<rect x="96.08" y="397.96" width="7.77" height="6.64" fill="#67c67b"/>
<rect x="102.85" y="397.96" width="7.77" height="6.64" fill="#5bbf82"/>
<rect x="109.62" y="397.96" width="7.77" height="6.64" fill="#52a98c"/>
<rect x="116.39" y="397.96" width="7.77" height="6.64" fill="#52a98c"/>
<rect x="123.16" y="397.96" width="7.77" height="6.64" fill="#4d9e8a"/>
<rect x="129.94" y="397.96" width="7.77" height="6.64" fill="#4a928a"/>
<rect x="136.71" y="397.96" width="7.77" height="6.64" fill="#488b8a"/>
<rect x="143.48" y="397.96" width="7.77" height="6.64" fill="#45808c"/>
<rect x="150.25" y="397.96" width="7.77" height="6.64" fill="#44798c"/>
<rect x="157.02" y="397.96" width="7.77" height="6.64" fill="#46688a"/>
<rect x="163.80" y="397.96" width="7.77" height="6.64" fill="#46688a"/>
<rect x="170.57" y="397.96" width="7.77" height="6.64" fill="#475889"/>
<rect x="177.34" y="397.96" width="7.77" height="6.64" fill="#445388"/>
<rect x="184.11" y="397.96" width="7.77" height="6.64" fill="#424d86"/>
<rect x="190.88" y="397.96" width="7.77" height="6.64" fill="#424884"/>
<rect x="197.66" y="397.96" width="7.77" height="6.64" fill="#453679"/>
<rect x="204.43" y="397.96" width="6.77" height="6.64" fill="#453679"/>
<rect x="41.90" y="403.61" width="7.77" height="6.64" fill="#d0ea49"/>
<rect x="48.67" y="403.61" width="7.77" height="6.64" fill="#bee84c"/>
<rect x="55.44" y="403.61" width="7.77" height="6.64" fill="#95e555"/>
<rect x="62.22" y="403.61" width="7.77" height="6.64" fill="#85e15b"/>
<rect x="68.99" y="403.61" width="7.77" height="6.64" fill="#7fdb63"/>
<rect x="75.76" y="403.61" width="7.77" height="6.64" fill="#75d16d"/>
<rect x="82.53" y="403.61" width="7.77" height="6.64" fill="#75d16d"/>
<rect x="89.30" y="403.61" width="7.77" height="6.64" fill="#63c57d"/>
<rect x="96.08" y="403.61" width="7.77" height="6.64" fill="#52b489"/>
<rect x="102.85" y="403.61" width="7.77" height="6.64" fill="#52a98c"/>
<rect x="109.62" y="403.61" width="7.77" height="6.64" fill="#4d9e8a"/>
<rect x="116.39" y="403.61" width="7.77" height="6.64" fill="#4d9e8a"/>
<rect x="123.16" y="403.61" width="7.77" height="6.64" fill="#4a928a"/>
<rect x="129.94" y="403.61" width="7.77" height="6.64" fill="#45808c"/>
<rect x="136.71" y="403.61" width="7.77" height="6.64" fill="#45808c"/>
<rect x="143.48" y="403.61" width="7.77" height="6.64" fill="#447b8c"/>
<rect x="150.25" y="403.61" width="7.77" height="6.64" fill="#485e8a"/>
<rect x="157.02" y="403.61" width="7.77" height="6.64" fill="#475889"/>
<rect x="163.80" y="403.61" width="7.77" height="6.64" fill="#445388"/>
<rect x="170.57" y="403.61" width="7.77" height="6.64" fill="#424d86"/>
<rect x="177.34" y="403.61" width="7.77" height="6.64" fill="#424884"/>
<rect x="184.11" y="403.61" width="7.77" height="6.64" fill="#443e7e"/>
<rect x="190.88" y="403.61" width="7.77" height="6.64" fill="#453679"/>
<rect x="197.66" y="403.61" width="7.77" height="6.64" fill="#472e74"/>
<rect x="204.43" y="403.61" width="6.77" height="6.64" fill="#472e74"/>
<rect x="41.90" y="409.25" width="7.77" height="5.64" fill="#d0ea49"/>
<rect x="48.67" y="409.25" width="7.77" height="5.64" fill="#bee84c"/>
<rect x="55.44" y="409.25" width="7.77" height="5.64" fill="#ace650"/>
<rect x="62.22" y="409.25" width="7.77" height="5.64" fill="#85e15b"/>
<rect x="68.99" y="409.25" width="7.77" height="5.64" fill="#7fdb63"/>
<rect x="75.76" y="409.25" width="7.77" height="5.64" fill="#75d16d"/>
<rect x="82.53" y="409.25" width="7.77" height="5.64" fill="#6bc878"/>
<rect x="89.30" y="409.25" width="7.77" height="5.64" fill="#63c57d"/>
<rect x="96.08" y="409.25" width="7.77" height="5.64" fill="#54ba87"/>
<rect x="102.85" y="409.25" width="7.77" height="5.64" fill="#52a98c"/>
<rect x="109.62" y="409.25" width="7.77" height="5.64" fill="#4d9e8a"/>
<rect x="116.39" y="409.25" width="7.77" height="5.64" fill="#4a928a"/>
<rect x="123.16" y="409.25" width="7.77" height="5.64" fill="#45808c"/>
<rect x="129.94" y="409.25" width="7.77" height="5.64" fill="#45808c"/>
<rect x="136.71" y="409.25" width="7.77" height="5.64" fill="#447b8c"/>
<rect x="143.48" y="409.25" width="7.77" height="5.64" fill="#45738b"/>
<rect x="150.25" y="409.25" width="7.77" height="5.64" fill="#485e8a"/>
<rect x="157.02" y="409.25" width="7.77" height="5.64" fill="#475889"/>
<rect x="163.80" y="409.25" width="7.77" height="5.64" fill="#424d86"/>
<rect x="170.57" y="409.25" width="7.77" height="5.64" fill="#424884"/>
<rect x="177.34" y="409.25" width="7.77" height="5.64" fill="#443e7e"/>
<rect x="184.11" y="409.25" width="7.77" height="5.64" fill="#48226e"/>
<rect x="190.88" y="409.25" width="7.77" height="5.64" fill="#48226e"/>
<rect x="197.66" y="409.25" width="7.77" height="5.64" fill="#440f62"/>
<rect x="204.43" y="409.25" width="6.77" height="5.64" fill="#440f62"/>
</g>
<g stroke="#fff" fill="none">
<path stroke-opacity="0.065" stroke-width="1" d="M41.90 307.64H211.20M41.90 313.29H211.20M41.90 318.94H211.20M41.90 324.58H211.20M41.90 330.23H211.20M41.90 335.87H211.20M41.90 341.51H211.20M41.90 347.16H211.20M41.90 352.81H211.20M41.90 358.45H211.20M41.90 364.10H211.20M41.90 369.74H211.20M41.90 375.38H211.20M41.90 381.03H211.20M41.90 386.68H211.20M41.90 392.32H211.20M41.90 397.96H211.20M41.90 403.61H211.20M41.90 409.25H211.20"/>
<path stroke-opacity="0.035" stroke-width="1" d="M48.67 302.00V414.90M55.44 302.00V414.90M62.22 302.00V414.90M68.99 302.00V414.90M75.76 302.00V414.90M82.53 302.00V414.90M89.30 302.00V414.90M96.08 302.00V414.90M102.85 302.00V414.90M109.62 302.00V414.90M116.39 302.00V414.90M123.16 302.00V414.90M129.94 302.00V414.90M136.71 302.00V414.90M143.48 302.00V414.90M150.25 302.00V414.90M157.02 302.00V414.90M163.80 302.00V414.90M170.57 302.00V414.90M177.34 302.00V414.90M184.11 302.00V414.90M190.88 302.00V414.90M197.66 302.00V414.90M204.43 302.00V414.90"/>
</g>
<g stroke="#000" stroke-width="1.07" fill="none">
<path d="M33.50 296.20V420.40H219.90"/>
<path d="M30.00 417.70H33.50"/>
<path d="M30.00 389.47H33.50"/>
<path d="M30.00 361.25H33.50"/>
<path d="M30.00 333.02H33.50"/>
<path d="M30.00 304.80H33.50"/>
<path d="M38.45 420.40V423.70"/>
<path d="M72.33 420.40V423.70"/>
<path d="M106.20 420.40V423.70"/>
<path d="M140.07 420.40V423.70"/>
<path d="M173.95 420.40V423.70"/>
<path d="M207.82 420.40V423.70"/>
</g>
<g fill="#2a2a2a" stroke="#2a2a2a" stroke-width="0.2" font-size="10.40">
<text transform="translate(27.30 421.60) scale(1 1.0)" text-anchor="end">0</text>
<text transform="translate(27.30 393.37) scale(1 1.0)" text-anchor="end">5</text>
<text transform="translate(27.30 365.15) scale(1 1.0)" text-anchor="end">10</text>
<text transform="translate(27.30 336.92) scale(1 1.0)" text-anchor="end">15</text>
<text transform="translate(27.30 308.70) scale(1 1.0)" text-anchor="end">20</text>
<text transform="translate(38.45 433.60) scale(1 1.0)" text-anchor="middle">0</text>
<text transform="translate(72.33 433.60) scale(1 1.0)" text-anchor="middle">5</text>
<text transform="translate(106.20 433.60) scale(1 1.0)" text-anchor="middle">10</text>
<text transform="translate(140.07 433.60) scale(1 1.0)" text-anchor="middle">15</text>
<text transform="translate(173.95 433.60) scale(1 1.0)" text-anchor="middle">20</text>
<text transform="translate(207.82 433.60) scale(1 1.0)" text-anchor="middle">25</text>
</g>
<text transform="translate(126.60 449.30) scale(1 1.04)" font-size="13" text-anchor="middle" fill="#000">Threshold (percentile)</text>
<text transform="translate(9.40 358.40) rotate(-90) scale(1 1.04)" font-size="13" text-anchor="middle" fill="#000">Minimum event duration (days)</text>
<text transform="translate(33.00 286.90) scale(1 1.04)" font-size="15.6" fill="#000">D) SBC-LTER</text>
<g>
<rect x="273.85" y="302.00" width="7.77" height="6.64" fill="#bfbfbf"/>
<rect x="280.62" y="302.00" width="7.77" height="6.64" fill="#bfbfbf"/>
<rect x="287.39" y="302.00" width="7.77" height="6.64" fill="#bfbfbf"/>
<rect x="294.17" y="302.00" width="7.77" height="6.64" fill="#bfbfbf"/>
<rect x="300.94" y="302.00" width="7.77" height="6.64" fill="#bfbfbf"/>
<rect x="307.71" y="302.00" width="7.77" height="6.64" fill="#bfbfbf"/>
<rect x="314.48" y="302.00" width="7.77" height="6.64" fill="#bfbfbf"/>
<rect x="321.25" y="302.00" width="7.77" height="6.64" fill="#bfbfbf"/>
<rect x="328.03" y="302.00" width="7.77" height="6.64" fill="#bfbfbf"/>
<rect x="334.80" y="302.00" width="7.77" height="6.64" fill="#bfbfbf"/>
<rect x="341.57" y="302.00" width="7.77" height="6.64" fill="#bfbfbf"/>
<rect x="348.34" y="302.00" width="7.77" height="6.64" fill="#bfbfbf"/>
<rect x="355.11" y="302.00" width="7.77" height="6.64" fill="#bfbfbf"/>
<rect x="361.89" y="302.00" width="7.77" height="6.64" fill="#bfbfbf"/>
<rect x="368.66" y="302.00" width="7.77" height="6.64" fill="#bfbfbf"/>
<rect x="375.43" y="302.00" width="7.77" height="6.64" fill="#bfbfbf"/>
<rect x="382.20" y="302.00" width="7.77" height="6.64" fill="#bfbfbf"/>
<rect x="388.97" y="302.00" width="7.77" height="6.64" fill="#bfbfbf"/>
<rect x="395.75" y="302.00" width="7.77" height="6.64" fill="#bfbfbf"/>
<rect x="402.52" y="302.00" width="7.77" height="6.64" fill="#bfbfbf"/>
<rect x="409.29" y="302.00" width="7.77" height="6.64" fill="#4a928a"/>
<rect x="416.06" y="302.00" width="7.77" height="6.64" fill="#447b8c"/>
<rect x="422.83" y="302.00" width="7.77" height="6.64" fill="#447b8c"/>
<rect x="429.61" y="302.00" width="7.77" height="6.64" fill="#447b8c"/>
<rect x="436.38" y="302.00" width="6.77" height="6.64" fill="#447b8c"/>
<rect x="273.85" y="307.64" width="7.77" height="6.64" fill="#bfbfbf"/>
<rect x="280.62" y="307.64" width="7.77" height="6.64" fill="#bfbfbf"/>
<rect x="287.39" y="307.64" width="7.77" height="6.64" fill="#bfbfbf"/>
<rect x="294.17" y="307.64" width="7.77" height="6.64" fill="#bfbfbf"/>
<rect x="300.94" y="307.64" width="7.77" height="6.64" fill="#bfbfbf"/>
<rect x="307.71" y="307.64" width="7.77" height="6.64" fill="#bfbfbf"/>
<rect x="314.48" y="307.64" width="7.77" height="6.64" fill="#bfbfbf"/>
<rect x="321.25" y="307.64" width="7.77" height="6.64" fill="#bfbfbf"/>
<rect x="328.03" y="307.64" width="7.77" height="6.64" fill="#bfbfbf"/>
<rect x="334.80" y="307.64" width="7.77" height="6.64" fill="#bfbfbf"/>
<rect x="341.57" y="307.64" width="7.77" height="6.64" fill="#bfbfbf"/>
<rect x="348.34" y="307.64" width="7.77" height="6.64" fill="#bfbfbf"/>
<rect x="355.11" y="307.64" width="7.77" height="6.64" fill="#bfbfbf"/>
<rect x="361.89" y="307.64" width="7.77" height="6.64" fill="#bfbfbf"/>
<rect x="368.66" y="307.64" width="7.77" height="6.64" fill="#bfbfbf"/>
<rect x="375.43" y="307.64" width="7.77" height="6.64" fill="#bfbfbf"/>
<rect x="382.20" y="307.64" width="7.77" height="6.64" fill="#bfbfbf"/>
<rect x="388.97" y="307.64" width="7.77" height="6.64" fill="#bfbfbf"/>
<rect x="395.75" y="307.64" width="7.77" height="6.64" fill="#bfbfbf"/>
<rect x="402.52" y="307.64" width="7.77" height="6.64" fill="#bfbfbf"/>
<rect x="409.29" y="307.64" width="7.77" height="6.64" fill="#4a928a"/>
<rect x="416.06" y="307.64" width="7.77" height="6.64" fill="#447b8c"/>
<rect x="422.83" y="307.64" width="7.77" height="6.64" fill="#447b8c"/>
<rect x="429.61" y="307.64" width="7.77" height="6.64" fill="#447b8c"/>
<rect x="436.38" y="307.64" width="6.77" height="6.64" fill="#447b8c"/>
<rect x="273.85" y="313.29" width="7.77" height="6.64" fill="#bfbfbf"/>
<rect x="280.62" y="313.29" width="7.77" height="6.64" fill="#bfbfbf"/>
<rect x="287.39" y="313.29" width="7.77" height="6.64" fill="#bfbfbf"/>
<rect x="294.17" y="313.29" width="7.77" height="6.64" fill="#bfbfbf"/>
<rect x="300.94" y="313.29" width="7.77" height="6.64" fill="#bfbfbf"/>
<rect x="307.71" y="313.29" width="7.77" height="6.64" fill="#bfbfbf"/>
<rect x="314.48" y="313.29" width="7.77" height="6.64" fill="#bfbfbf"/>
<rect x="321.25" y="313.29" width="7.77" height="6.64" fill="#bfbfbf"/>
<rect x="328.03" y="313.29" width="7.77" height="6.64" fill="#bfbfbf"/>
<rect x="334.80" y="313.29" width="7.77" height="6.64" fill="#bfbfbf"/>
<rect x="341.57" y="313.29" width="7.77" height="6.64" fill="#bfbfbf"/>
<rect x="348.34" y="313.29" width="7.77" height="6.64" fill="#bfbfbf"/>
<rect x="355.11" y="313.29" width="7.77" height="6.64" fill="#bfbfbf"/>
<rect x="361.89" y="313.29" width="7.77" height="6.64" fill="#bfbfbf"/>
<rect x="368.66" y="313.29" width="7.77" height="6.64" fill="#bfbfbf"/>
<rect x="375.43" y="313.29" width="7.77" height="6.64" fill="#bfbfbf"/>
<rect x="382.20" y="313.29" width="7.77" height="6.64" fill="#bfbfbf"/>
<rect x="388.97" y="313.29" width="7.77" height="6.64" fill="#445388"/>
<rect x="395.75" y="313.29" width="7.77" height="6.64" fill="#445388"/>
<rect x="402.52" y="313.29" width="7.77" height="6.64" fill="#445388"/>
<rect x="409.29" y="313.29" width="7.77" height="6.64" fill="#46688a"/>
<rect x="416.06" y="313.29" width="7.77" height="6.64" fill="#46688a"/>
<rect x="422.83" y="313.29" width="7.77" height="6.64" fill="#46688a"/>
<rect x="429.61" y="313.29" width="7.77" height="6.64" fill="#46688a"/>
<rect x="436.38" y="313.29" width="6.77" height="6.64" fill="#46688a"/>
<rect x="273.85" y="318.94" width="7.77" height="6.64" fill="#bfbfbf"/>
<rect x="280.62" y="318.94" width="7.77" height="6.64" fill="#bfbfbf"/>
<rect x="287.39" y="318.94" width="7.77" height="6.64" fill="#bfbfbf"/>
<rect x="294.17" y="318.94" width="7.77" height="6.64" fill="#bfbfbf"/>
<rect x="300.94" y="318.94" width="7.77" height="6.64" fill="#bfbfbf"/>
<rect x="307.71" y="318.94" width="7.77" height="6.64" fill="#bfbfbf"/>
<rect x="314.48" y="318.94" width="7.77" height="6.64" fill="#bfbfbf"/>
<rect x="321.25" y="318.94" width="7.77" height="6.64" fill="#bfbfbf"/>
<rect x="328.03" y="318.94" width="7.77" height="6.64" fill="#bfbfbf"/>
<rect x="334.80" y="318.94" width="7.77" height="6.64" fill="#bfbfbf"/>
<rect x="341.57" y="318.94" width="7.77" height="6.64" fill="#bfbfbf"/>
<rect x="348.34" y="318.94" width="7.77" height="6.64" fill="#bfbfbf"/>
<rect x="355.11" y="318.94" width="7.77" height="6.64" fill="#bfbfbf"/>
<rect x="361.89" y="318.94" width="7.77" height="6.64" fill="#bfbfbf"/>
<rect x="368.66" y="318.94" width="7.77" height="6.64" fill="#bfbfbf"/>
<rect x="375.43" y="318.94" width="7.77" height="6.64" fill="#bfbfbf"/>
<rect x="382.20" y="318.94" width="7.77" height="6.64" fill="#bfbfbf"/>
<rect x="388.97" y="318.94" width="7.77" height="6.64" fill="#445388"/>
<rect x="395.75" y="318.94" width="7.77" height="6.64" fill="#445388"/>
<rect x="402.52" y="318.94" width="7.77" height="6.64" fill="#45808c"/>
<rect x="409.29" y="318.94" width="7.77" height="6.64" fill="#46688a"/>
<rect x="416.06" y="318.94" width="7.77" height="6.64" fill="#46688a"/>
<rect x="422.83" y="318.94" width="7.77" height="6.64" fill="#46688a"/>
<rect x="429.61" y="318.94" width="7.77" height="6.64" fill="#46688a"/>
<rect x="436.38" y="318.94" width="6.77" height="6.64" fill="#46688a"/>
<rect x="273.85" y="324.58" width="7.77" height="6.64" fill="#bfbfbf"/>
<rect x="280.62" y="324.58" width="7.77" height="6.64" fill="#bfbfbf"/>
<rect x="287.39" y="324.58" width="7.77" height="6.64" fill="#bfbfbf"/>
<rect x="294.17" y="324.58" width="7.77" height="6.64" fill="#bfbfbf"/>
<rect x="300.94" y="324.58" width="7.77" height="6.64" fill="#bfbfbf"/>
<rect x="307.71" y="324.58" width="7.77" height="6.64" fill="#bfbfbf"/>
<rect x="314.48" y="324.58" width="7.77" height="6.64" fill="#bfbfbf"/>
<rect x="321.25" y="324.58" width="7.77" height="6.64" fill="#bfbfbf"/>
<rect x="328.03" y="324.58" width="7.77" height="6.64" fill="#bfbfbf"/>
<rect x="334.80" y="324.58" width="7.77" height="6.64" fill="#bfbfbf"/>
<rect x="341.57" y="324.58" width="7.77" height="6.64" fill="#bfbfbf"/>
<rect x="348.34" y="324.58" width="7.77" height="6.64" fill="#bfbfbf"/>
<rect x="355.11" y="324.58" width="7.77" height="6.64" fill="#bfbfbf"/>
<rect x="361.89" y="324.58" width="7.77" height="6.64" fill="#bfbfbf"/>
<rect x="368.66" y="324.58" width="7.77" height="6.64" fill="#bfbfbf"/>
<rect x="375.43" y="324.58" width="7.77" height="6.64" fill="#bfbfbf"/>
<rect x="382.20" y="324.58" width="7.77" height="6.64" fill="#bfbfbf"/>
<rect x="388.97" y="324.58" width="7.77" height="6.64" fill="#445388"/>
<rect x="395.75" y="324.58" width="7.77" height="6.64" fill="#445388"/>
<rect x="402.52" y="324.58" width="7.77" height="6.64" fill="#45808c"/>
<rect x="409.29" y="324.58" width="7.77" height="6.64" fill="#45738b"/>
<rect x="416.06" y="324.58" width="7.77" height="6.64" fill="#46688a"/>
<rect x="422.83" y="324.58" width="7.77" height="6.64" fill="#46688a"/>
<rect x="429.61" y="324.58" width="7.77" height="6.64" fill="#46688a"/>
<rect x="436.38" y="324.58" width="6.77" height="6.64" fill="#46688a"/>
<rect x="273.85" y="330.23" width="7.77" height="6.64" fill="#bfbfbf"/>
<rect x="280.62" y="330.23" width="7.77" height="6.64" fill="#bfbfbf"/>
<rect x="287.39" y="330.23" width="7.77" height="6.64" fill="#bfbfbf"/>
<rect x="294.17" y="330.23" width="7.77" height="6.64" fill="#bfbfbf"/>
<rect x="300.94" y="330.23" width="7.77" height="6.64" fill="#bfbfbf"/>
<rect x="307.71" y="330.23" width="7.77" height="6.64" fill="#bfbfbf"/>
<rect x="314.48" y="330.23" width="7.77" height="6.64" fill="#bfbfbf"/>
<rect x="321.25" y="330.23" width="7.77" height="6.64" fill="#bfbfbf"/>
<rect x="328.03" y="330.23" width="7.77" height="6.64" fill="#bfbfbf"/>
<rect x="334.80" y="330.23" width="7.77" height="6.64" fill="#bfbfbf"/>
<rect x="341.57" y="330.23" width="7.77" height="6.64" fill="#bfbfbf"/>
<rect x="348.34" y="330.23" width="7.77" height="6.64" fill="#bfbfbf"/>
<rect x="355.11" y="330.23" width="7.77" height="6.64" fill="#bfbfbf"/>
<rect x="361.89" y="330.23" width="7.77" height="6.64" fill="#bfbfbf"/>
<rect x="368.66" y="330.23" width="7.77" height="6.64" fill="#bfbfbf"/>
<rect x="375.43" y="330.23" width="7.77" height="6.64" fill="#bfbfbf"/>
<rect x="382.20" y="330.23" width="7.77" height="6.64" fill="#bfbfbf"/>
<rect x="388.97" y="330.23" width="7.77" height="6.64" fill="#445388"/>
<rect x="395.75" y="330.23" width="7.77" height="6.64" fill="#445388"/>
<rect x="402.52" y="330.23" width="7.77" height="6.64" fill="#45808c"/>
<rect x="409.29" y="330.23" width="7.77" height="6.64" fill="#45738b"/>
<rect x="416.06" y="330.23" width="7.77" height="6.64" fill="#46688a"/>
<rect x="422.83" y="330.23" width="7.77" height="6.64" fill="#46688a"/>
<rect x="429.61" y="330.23" width="7.77" height="6.64" fill="#46688a"/>
<rect x="436.38" y="330.23" width="6.77" height="6.64" fill="#46688a"/>
<rect x="273.85" y="335.87" width="7.77" height="6.64" fill="#bfbfbf"/>
<rect x="280.62" y="335.87" width="7.77" height="6.64" fill="#bfbfbf"/>
<rect x="287.39" y="335.87" width="7.77" height="6.64" fill="#bfbfbf"/>
<rect x="294.17" y="335.87" width="7.77" height="6.64" fill="#bfbfbf"/>
<rect x="300.94" y="335.87" width="7.77" height="6.64" fill="#bfbfbf"/>
<rect x="307.71" y="335.87" width="7.77" height="6.64" fill="#bfbfbf"/>
<rect x="314.48" y="335.87" width="7.77" height="6.64" fill="#bfbfbf"/>
<rect x="321.25" y="335.87" width="7.77" height="6.64" fill="#bfbfbf"/>
<rect x="328.03" y="335.87" width="7.77" height="6.64" fill="#bfbfbf"/>
<rect x="334.80" y="335.87" width="7.77" height="6.64" fill="#bfbfbf"/>
<rect x="341.57" y="335.87" width="7.77" height="6.64" fill="#bfbfbf"/>
<rect x="348.34" y="335.87" width="7.77" height="6.64" fill="#bfbfbf"/>
<rect x="355.11" y="335.87" width="7.77" height="6.64" fill="#bfbfbf"/>
<rect x="361.89" y="335.87" width="7.77" height="6.64" fill="#bfbfbf"/>
<rect x="368.66" y="335.87" width="7.77" height="6.64" fill="#bfbfbf"/>
<rect x="375.43" y="335.87" width="7.77" height="6.64" fill="#bfbfbf"/>
<rect x="382.20" y="335.87" width="7.77" height="6.64" fill="#bfbfbf"/>
<rect x="388.97" y="335.87" width="7.77" height="6.64" fill="#475889"/>
<rect x="395.75" y="335.87" width="7.77" height="6.64" fill="#488b8a"/>
<rect x="402.52" y="335.87" width="7.77" height="6.64" fill="#488b8a"/>
<rect x="409.29" y="335.87" width="7.77" height="6.64" fill="#45808c"/>
<rect x="416.06" y="335.87" width="7.77" height="6.64" fill="#447b8c"/>
<rect x="422.83" y="335.87" width="7.77" height="6.64" fill="#447b8c"/>
<rect x="429.61" y="335.87" width="7.77" height="6.64" fill="#447b8c"/>
<rect x="436.38" y="335.87" width="6.77" height="6.64" fill="#447b8c"/>
<rect x="273.85" y="341.51" width="7.77" height="6.64" fill="#bfbfbf"/>
<rect x="280.62" y="341.51" width="7.77" height="6.64" fill="#bfbfbf"/>
<rect x="287.39" y="341.51" width="7.77" height="6.64" fill="#bfbfbf"/>
<rect x="294.17" y="341.51" width="7.77" height="6.64" fill="#bfbfbf"/>
<rect x="300.94" y="341.51" width="7.77" height="6.64" fill="#bfbfbf"/>
<rect x="307.71" y="341.51" width="7.77" height="6.64" fill="#bfbfbf"/>
<rect x="314.48" y="341.51" width="7.77" height="6.64" fill="#bfbfbf"/>
<rect x="321.25" y="341.51" width="7.77" height="6.64" fill="#bfbfbf"/>
<rect x="328.03" y="341.51" width="7.77" height="6.64" fill="#bfbfbf"/>
<rect x="334.80" y="341.51" width="7.77" height="6.64" fill="#bfbfbf"/>
<rect x="341.57" y="341.51" width="7.77" height="6.64" fill="#bfbfbf"/>
<rect x="348.34" y="341.51" width="7.77" height="6.64" fill="#bfbfbf"/>
<rect x="355.11" y="341.51" width="7.77" height="6.64" fill="#bfbfbf"/>
<rect x="361.89" y="341.51" width="7.77" height="6.64" fill="#bfbfbf"/>
<rect x="368.66" y="341.51" width="7.77" height="6.64" fill="#bfbfbf"/>
<rect x="375.43" y="341.51" width="7.77" height="6.64" fill="#bfbfbf"/>
<rect x="382.20" y="341.51" width="7.77" height="6.64" fill="#bfbfbf"/>
<rect x="388.97" y="341.51" width="7.77" height="6.64" fill="#447b8c"/>
<rect x="395.75" y="341.51" width="7.77" height="6.64" fill="#488b8a"/>
<rect x="402.52" y="341.51" width="7.77" height="6.64" fill="#488b8a"/>
<rect x="409.29" y="341.51" width="7.77" height="6.64" fill="#45808c"/>
<rect x="416.06" y="341.51" width="7.77" height="6.64" fill="#447b8c"/>
<rect x="422.83" y="341.51" width="7.77" height="6.64" fill="#447b8c"/>
<rect x="429.61" y="341.51" width="7.77" height="6.64" fill="#447b8c"/>
<rect x="436.38" y="341.51" width="6.77" height="6.64" fill="#447b8c"/>
<rect x="273.85" y="347.16" width="7.77" height="6.64" fill="#bfbfbf"/>
<rect x="280.62" y="347.16" width="7.77" height="6.64" fill="#bfbfbf"/>
<rect x="287.39" y="347.16" width="7.77" height="6.64" fill="#bfbfbf"/>
<rect x="294.17" y="347.16" width="7.77" height="6.64" fill="#bfbfbf"/>
<rect x="300.94" y="347.16" width="7.77" height="6.64" fill="#bfbfbf"/>
<rect x="307.71" y="347.16" width="7.77" height="6.64" fill="#bfbfbf"/>
<rect x="314.48" y="347.16" width="7.77" height="6.64" fill="#bfbfbf"/>
<rect x="321.25" y="347.16" width="7.77" height="6.64" fill="#bfbfbf"/>
<rect x="328.03" y="347.16" width="7.77" height="6.64" fill="#bfbfbf"/>
<rect x="334.80" y="347.16" width="7.77" height="6.64" fill="#bfbfbf"/>
<rect x="341.57" y="347.16" width="7.77" height="6.64" fill="#bfbfbf"/>
<rect x="348.34" y="347.16" width="7.77" height="6.64" fill="#bfbfbf"/>
<rect x="355.11" y="347.16" width="7.77" height="6.64" fill="#bfbfbf"/>
<rect x="361.89" y="347.16" width="7.77" height="6.64" fill="#bfbfbf"/>
<rect x="368.66" y="347.16" width="7.77" height="6.64" fill="#bfbfbf"/>
<rect x="375.43" y="347.16" width="7.77" height="6.64" fill="#bfbfbf"/>
<rect x="382.20" y="347.16" width="7.77" height="6.64" fill="#bfbfbf"/>
<rect x="388.97" y="347.16" width="7.77" height="6.64" fill="#447b8c"/>
<rect x="395.75" y="347.16" width="7.77" height="6.64" fill="#488b8a"/>
<rect x="402.52" y="347.16" width="7.77" height="6.64" fill="#488b8a"/>
<rect x="409.29" y="347.16" width="7.77" height="6.64" fill="#45808c"/>
<rect x="416.06" y="347.16" width="7.77" height="6.64" fill="#475889"/>
<rect x="422.83" y="347.16" width="7.77" height="6.64" fill="#475889"/>
<rect x="429.61" y="347.16" width="7.77" height="6.64" fill="#475889"/>
<rect x="436.38" y="347.16" width="6.77" height="6.64" fill="#424884"/>
<rect x="273.85" y="352.81" width="7.77" height="6.64" fill="#bfbfbf"/>
<rect x="280.62" y="352.81" width="7.77" height="6.64" fill="#bfbfbf"/>
<rect x="287.39" y="352.81" width="7.77" height="6.64" fill="#bfbfbf"/>
<rect x="294.17" y="352.81" width="7.77" height="6.64" fill="#bfbfbf"/>
<rect x="300.94" y="352.81" width="7.77" height="6.64" fill="#bfbfbf"/>
<rect x="307.71" y="352.81" width="7.77" height="6.64" fill="#bfbfbf"/>
<rect x="314.48" y="352.81" width="7.77" height="6.64" fill="#bfbfbf"/>
<rect x="321.25" y="352.81" width="7.77" height="6.64" fill="#bfbfbf"/>
<rect x="328.03" y="352.81" width="7.77" height="6.64" fill="#bfbfbf"/>
<rect x="334.80" y="352.81" width="7.77" height="6.64" fill="#bfbfbf"/>
<rect x="341.57" y="352.81" width="7.77" height="6.64" fill="#bfbfbf"/>
<rect x="348.34" y="352.81" width="7.77" height="6.64" fill="#bfbfbf"/>
<rect x="355.11" y="352.81" width="7.77" height="6.64" fill="#bfbfbf"/>
<rect x="361.89" y="352.81" width="7.77" height="6.64" fill="#bfbfbf"/>
<rect x="368.66" y="352.81" width="7.77" height="6.64" fill="#bfbfbf"/>
<rect x="375.43" y="352.81" width="7.77" height="6.64" fill="#bfbfbf"/>
<rect x="382.20" y="352.81" width="7.77" height="6.64" fill="#bfbfbf"/>
<rect x="388.97" y="352.81" width="7.77" height="6.64" fill="#447b8c"/>
<rect x="395.75" y="352.81" width="7.77" height="6.64" fill="#488b8a"/>
<rect x="402.52" y="352.81" width="7.77" height="6.64" fill="#45808c"/>
<rect x="409.29" y="352.81" width="7.77" height="6.64" fill="#447b8c"/>
<rect x="416.06" y="352.81" width="7.77" height="6.64" fill="#475889"/>
<rect x="422.83" y="352.81" width="7.77" height="6.64" fill="#475889"/>
<rect x="429.61" y="352.81" width="7.77" height="6.64" fill="#475889"/>
<rect x="436.38" y="352.81" width="6.77" height="6.64" fill="#424d86"/>
<rect x="273.85" y="358.45" width="7.77" height="6.64" fill="#bfbfbf"/>
<rect x="280.62" y="358.45" width="7.77" height="6.64" fill="#bfbfbf"/>
<rect x="287.39" y="358.45" width="7.77" height="6.64" fill="#bfbfbf"/>
<rect x="294.17" y="358.45" width="7.77" height="6.64" fill="#bfbfbf"/>
<rect x="300.94" y="358.45" width="7.77" height="6.64" fill="#bfbfbf"/>
<rect x="307.71" y="358.45" width="7.77" height="6.64" fill="#bfbfbf"/>
<rect x="314.48" y="358.45" width="7.77" height="6.64" fill="#bfbfbf"/>
<rect x="321.25" y="358.45" width="7.77" height="6.64" fill="#bfbfbf"/>
<rect x="328.03" y="358.45" width="7.77" height="6.64" fill="#bfbfbf"/>
<rect x="334.80" y="358.45" width="7.77" height="6.64" fill="#bfbfbf"/>
<rect x="341.57" y="358.45" width="7.77" height="6.64" fill="#7fdb63"/>
<rect x="348.34" y="358.45" width="7.77" height="6.64" fill="#7fdb63"/>
<rect x="355.11" y="358.45" width="7.77" height="6.64" fill="#7fdb63"/>
<rect x="361.89" y="358.45" width="7.77" height="6.64" fill="#7fdb63"/>
<rect x="368.66" y="358.45" width="7.77" height="6.64" fill="#52b489"/>
<rect x="375.43" y="358.45" width="7.77" height="6.64" fill="#52b489"/>
<rect x="382.20" y="358.45" width="7.77" height="6.64" fill="#52b489"/>
<rect x="388.97" y="358.45" width="7.77" height="6.64" fill="#4a928a"/>
<rect x="395.75" y="358.45" width="7.77" height="6.64" fill="#488b8a"/>
<rect x="402.52" y="358.45" width="7.77" height="6.64" fill="#475889"/>
<rect x="409.29" y="358.45" width="7.77" height="6.64" fill="#475889"/>
<rect x="416.06" y="358.45" width="7.77" height="6.64" fill="#475889"/>
<rect x="422.83" y="358.45" width="7.77" height="6.64" fill="#475889"/>
<rect x="429.61" y="358.45" width="7.77" height="6.64" fill="#475889"/>
<rect x="436.38" y="358.45" width="6.77" height="6.64" fill="#424d86"/>
<rect x="273.85" y="364.10" width="7.77" height="6.64" fill="#bfbfbf"/>
<rect x="280.62" y="364.10" width="7.77" height="6.64" fill="#bfbfbf"/>
<rect x="287.39" y="364.10" width="7.77" height="6.64" fill="#bfbfbf"/>
<rect x="294.17" y="364.10" width="7.77" height="6.64" fill="#bfbfbf"/>
<rect x="300.94" y="364.10" width="7.77" height="6.64" fill="#bfbfbf"/>
<rect x="307.71" y="364.10" width="7.77" height="6.64" fill="#bfbfbf"/>
<rect x="314.48" y="364.10" width="7.77" height="6.64" fill="#bfbfbf"/>
<rect x="321.25" y="364.10" width="7.77" height="6.64" fill="#bfbfbf"/>
<rect x="328.03" y="364.10" width="7.77" height="6.64" fill="#bfbfbf"/>
<rect x="334.80" y="364.10" width="7.77" height="6.64" fill="#bfbfbf"/>
<rect x="341.57" y="364.10" width="7.77" height="6.64" fill="#7fdb63"/>
<rect x="348.34" y="364.10" width="7.77" height="6.64" fill="#7fdb63"/>
<rect x="355.11" y="364.10" width="7.77" height="6.64" fill="#52b489"/>
<rect x="361.89" y="364.10" width="7.77" height="6.64" fill="#52b489"/>
<rect x="368.66" y="364.10" width="7.77" height="6.64" fill="#52b489"/>
<rect x="375.43" y="364.10" width="7.77" height="6.64" fill="#4d9e8a"/>
<rect x="382.20" y="364.10" width="7.77" height="6.64" fill="#447b8c"/>
<rect x="388.97" y="364.10" width="7.77" height="6.64" fill="#447b8c"/>
<rect x="395.75" y="364.10" width="7.77" height="6.64" fill="#45738b"/>
<rect x="402.52" y="364.10" width="7.77" height="6.64" fill="#475889"/>
<rect x="409.29" y="364.10" width="7.77" height="6.64" fill="#475889"/>
<rect x="416.06" y="364.10" width="7.77" height="6.64" fill="#445388"/>
<rect x="422.83" y="364.10" width="7.77" height="6.64" fill="#445388"/>
<rect x="429.61" y="364.10" width="7.77" height="6.64" fill="#445388"/>
<rect x="436.38" y="364.10" width="6.77" height="6.64" fill="#424884"/>
<rect x="273.85" y="369.74" width="7.77" height="6.64" fill="#bfbfbf"/>
<rect x="280.62" y="369.74" width="7.77" height="6.64" fill="#bfbfbf"/>
<rect x="287.39" y="369.74" width="7.77" height="6.64" fill="#bfbfbf"/>
<rect x="294.17" y="369.74" width="7.77" height="6.64" fill="#bfbfbf"/>
<rect x="300.94" y="369.74" width="7.77" height="6.64" fill="#bfbfbf"/>
<rect x="307.71" y="369.74" width="7.77" height="6.64" fill="#bfbfbf"/>
<rect x="314.48" y="369.74" width="7.77" height="6.64" fill="#bfbfbf"/>
<rect x="321.25" y="369.74" width="7.77" height="6.64" fill="#bee84c"/>
<rect x="328.03" y="369.74" width="7.77" height="6.64" fill="#bee84c"/>
<rect x="334.80" y="369.74" width="7.77" height="6.64" fill="#bee84c"/>
<rect x="341.57" y="369.74" width="7.77" height="6.64" fill="#7fdb63"/>
<rect x="348.34" y="369.74" width="7.77" height="6.64" fill="#5bbf82"/>
<rect x="355.11" y="369.74" width="7.77" height="6.64" fill="#52b489"/>
<rect x="361.89" y="369.74" width="7.77" height="6.64" fill="#45808c"/>
<rect x="368.66" y="369.74" width="7.77" height="6.64" fill="#45808c"/>
<rect x="375.43" y="369.74" width="7.77" height="6.64" fill="#45808c"/>
<rect x="382.20" y="369.74" width="7.77" height="6.64" fill="#447b8c"/>
<rect x="388.97" y="369.74" width="7.77" height="6.64" fill="#447b8c"/>
<rect x="395.75" y="369.74" width="7.77" height="6.64" fill="#46688a"/>
<rect x="402.52" y="369.74" width="7.77" height="6.64" fill="#475889"/>
<rect x="409.29" y="369.74" width="7.77" height="6.64" fill="#445388"/>
<rect x="416.06" y="369.74" width="7.77" height="6.64" fill="#424d86"/>
<rect x="422.83" y="369.74" width="7.77" height="6.64" fill="#424d86"/>
<rect x="429.61" y="369.74" width="7.77" height="6.64" fill="#424884"/>
<rect x="436.38" y="369.74" width="6.77" height="6.64" fill="#443e7e"/>
<rect x="273.85" y="375.38" width="7.77" height="6.64" fill="#bfbfbf"/>
<rect x="280.62" y="375.38" width="7.77" height="6.64" fill="#dcec43"/>
<rect x="287.39" y="375.38" width="7.77" height="6.64" fill="#dcec43"/>
<rect x="294.17" y="375.38" width="7.77" height="6.64" fill="#dcec43"/>
<rect x="300.94" y="375.38" width="7.77" height="6.64" fill="#dcec43"/>
<rect x="307.71" y="375.38" width="7.77" height="6.64" fill="#dcec43"/>
<rect x="314.48" y="375.38" width="7.77" height="6.64" fill="#dcec43"/>
<rect x="321.25" y="375.38" width="7.77" height="6.64" fill="#bee84c"/>
<rect x="328.03" y="375.38" width="7.77" height="6.64" fill="#bee84c"/>
<rect x="334.80" y="375.38" width="7.77" height="6.64" fill="#6bc878"/>
<rect x="341.57" y="375.38" width="7.77" height="6.64" fill="#5bbf82"/>
<rect x="348.34" y="375.38" width="7.77" height="6.64" fill="#52a98c"/>
<rect x="355.11" y="375.38" width="7.77" height="6.64" fill="#4a928a"/>
<rect x="361.89" y="375.38" width="7.77" height="6.64" fill="#45808c"/>
<rect x="368.66" y="375.38" width="7.77" height="6.64" fill="#447b8c"/>
<rect x="375.43" y="375.38" width="7.77" height="6.64" fill="#447b8c"/>
<rect x="382.20" y="375.38" width="7.77" height="6.64" fill="#45738b"/>
<rect x="388.97" y="375.38" width="7.77" height="6.64" fill="#45738b"/>
<rect x="395.75" y="375.38" width="7.77" height="6.64" fill="#475889"/>
<rect x="402.52" y="375.38" width="7.77" height="6.64" fill="#445388"/>
<rect x="409.29" y="375.38" width="7.77" height="6.64" fill="#445388"/>
<rect x="416.06" y="375.38" width="7.77" height="6.64" fill="#424d86"/>
<rect x="422.83" y="375.38" width="7.77" height="6.64" fill="#443e7e"/>
<rect x="429.61" y="375.38" width="7.77" height="6.64" fill="#443e7e"/>
<rect x="436.38" y="375.38" width="6.77" height="6.64" fill="#453679"/>
<rect x="273.85" y="381.03" width="7.77" height="6.64" fill="#bfbfbf"/>
<rect x="280.62" y="381.03" width="7.77" height="6.64" fill="#dcec43"/>
<rect x="287.39" y="381.03" width="7.77" height="6.64" fill="#dcec43"/>
<rect x="294.17" y="381.03" width="7.77" height="6.64" fill="#dcec43"/>
<rect x="300.94" y="381.03" width="7.77" height="6.64" fill="#dcec43"/>
<rect x="307.71" y="381.03" width="7.77" height="6.64" fill="#6bc878"/>
<rect x="314.48" y="381.03" width="7.77" height="6.64" fill="#6bc878"/>
<rect x="321.25" y="381.03" width="7.77" height="6.64" fill="#63c57d"/>
<rect x="328.03" y="381.03" width="7.77" height="6.64" fill="#63c57d"/>
<rect x="334.80" y="381.03" width="7.77" height="6.64" fill="#52b489"/>
<rect x="341.57" y="381.03" width="7.77" height="6.64" fill="#52a98c"/>
<rect x="348.34" y="381.03" width="7.77" height="6.64" fill="#4d9e8a"/>
<rect x="355.11" y="381.03" width="7.77" height="6.64" fill="#4a928a"/>
<rect x="361.89" y="381.03" width="7.77" height="6.64" fill="#45808c"/>
<rect x="368.66" y="381.03" width="7.77" height="6.64" fill="#447b8c"/>
<rect x="375.43" y="381.03" width="7.77" height="6.64" fill="#45738b"/>
<rect x="382.20" y="381.03" width="7.77" height="6.64" fill="#45738b"/>
<rect x="388.97" y="381.03" width="7.77" height="6.64" fill="#45738b"/>
<rect x="395.75" y="381.03" width="7.77" height="6.64" fill="#475889"/>
<rect x="402.52" y="381.03" width="7.77" height="6.64" fill="#445388"/>
<rect x="409.29" y="381.03" width="7.77" height="6.64" fill="#424d86"/>
<rect x="416.06" y="381.03" width="7.77" height="6.64" fill="#424d86"/>
<rect x="422.83" y="381.03" width="7.77" height="6.64" fill="#443e7e"/>
<rect x="429.61" y="381.03" width="7.77" height="6.64" fill="#443e7e"/>
<rect x="436.38" y="381.03" width="6.77" height="6.64" fill="#453679"/>
<rect x="273.85" y="386.68" width="7.77" height="6.64" fill="#e5ef3f"/>
<rect x="280.62" y="386.68" width="7.77" height="6.64" fill="#dcec43"/>
<rect x="287.39" y="386.68" width="7.77" height="6.64" fill="#dcec43"/>
<rect x="294.17" y="386.68" width="7.77" height="6.64" fill="#dcec43"/>
<rect x="300.94" y="386.68" width="7.77" height="6.64" fill="#dcec43"/>
<rect x="307.71" y="386.68" width="7.77" height="6.64" fill="#6bc878"/>
<rect x="314.48" y="386.68" width="7.77" height="6.64" fill="#6bc878"/>
<rect x="321.25" y="386.68" width="7.77" height="6.64" fill="#63c57d"/>
<rect x="328.03" y="386.68" width="7.77" height="6.64" fill="#52a98c"/>
<rect x="334.80" y="386.68" width="7.77" height="6.64" fill="#52a98c"/>
<rect x="341.57" y="386.68" width="7.77" height="6.64" fill="#4d9e8a"/>
<rect x="348.34" y="386.68" width="7.77" height="6.64" fill="#488b8a"/>
<rect x="355.11" y="386.68" width="7.77" height="6.64" fill="#45808c"/>
<rect x="361.89" y="386.68" width="7.77" height="6.64" fill="#447b8c"/>
<rect x="368.66" y="386.68" width="7.77" height="6.64" fill="#45738b"/>
<rect x="375.43" y="386.68" width="7.77" height="6.64" fill="#46688a"/>
<rect x="382.20" y="386.68" width="7.77" height="6.64" fill="#47638a"/>
<rect x="388.97" y="386.68" width="7.77" height="6.64" fill="#475889"/>
<rect x="395.75" y="386.68" width="7.77" height="6.64" fill="#475889"/>
<rect x="402.52" y="386.68" width="7.77" height="6.64" fill="#424d86"/>
<rect x="409.29" y="386.68" width="7.77" height="6.64" fill="#424d86"/>
<rect x="416.06" y="386.68" width="7.77" height="6.64" fill="#443e7e"/>
<rect x="422.83" y="386.68" width="7.77" height="6.64" fill="#443e7e"/>
<rect x="429.61" y="386.68" width="7.77" height="6.64" fill="#453679"/>
<rect x="436.38" y="386.68" width="6.77" height="6.64" fill="#453679"/>
<rect x="273.85" y="392.32" width="7.77" height="6.64" fill="#e5ef3f"/>
<rect x="280.62" y="392.32" width="7.77" height="6.64" fill="#dcec43"/>
<rect x="287.39" y="392.32" width="7.77" height="6.64" fill="#dcec43"/>
<rect x="294.17" y="392.32" width="7.77" height="6.64" fill="#52b489"/>
<rect x="300.94" y="392.32" width="7.77" height="6.64" fill="#52b489"/>
<rect x="307.71" y="392.32" width="7.77" height="6.64" fill="#5bbf82"/>
<rect x="314.48" y="392.32" width="7.77" height="6.64" fill="#5bbf82"/>
<rect x="321.25" y="392.32" width="7.77" height="6.64" fill="#5bbf82"/>
<rect x="328.03" y="392.32" width="7.77" height="6.64" fill="#50a38b"/>
<rect x="334.80" y="392.32" width="7.77" height="6.64" fill="#4d9e8a"/>
<rect x="341.57" y="392.32" width="7.77" height="6.64" fill="#4d9e8a"/>
<rect x="348.34" y="392.32" width="7.77" height="6.64" fill="#488b8a"/>
<rect x="355.11" y="392.32" width="7.77" height="6.64" fill="#447b8c"/>
<rect x="361.89" y="392.32" width="7.77" height="6.64" fill="#45738b"/>
<rect x="368.66" y="392.32" width="7.77" height="6.64" fill="#46688a"/>
<rect x="375.43" y="392.32" width="7.77" height="6.64" fill="#485e8a"/>
<rect x="382.20" y="392.32" width="7.77" height="6.64" fill="#485b8a"/>
<rect x="388.97" y="392.32" width="7.77" height="6.64" fill="#475889"/>
<rect x="395.75" y="392.32" width="7.77" height="6.64" fill="#445388"/>
<rect x="402.52" y="392.32" width="7.77" height="6.64" fill="#424d86"/>
<rect x="409.29" y="392.32" width="7.77" height="6.64" fill="#424884"/>
<rect x="416.06" y="392.32" width="7.77" height="6.64" fill="#443e7e"/>
<rect x="422.83" y="392.32" width="7.77" height="6.64" fill="#443e7e"/>
<rect x="429.61" y="392.32" width="7.77" height="6.64" fill="#453679"/>
<rect x="436.38" y="392.32" width="6.77" height="6.64" fill="#453679"/>
<rect x="273.85" y="397.96" width="7.77" height="6.64" fill="#e5ef3f"/>
<rect x="280.62" y="397.96" width="7.77" height="6.64" fill="#dcec43"/>
<rect x="287.39" y="397.96" width="7.77" height="6.64" fill="#6bc878"/>
<rect x="294.17" y="397.96" width="7.77" height="6.64" fill="#52b489"/>
<rect x="300.94" y="397.96" width="7.77" height="6.64" fill="#52b489"/>
<rect x="307.71" y="397.96" width="7.77" height="6.64" fill="#5bbf82"/>
<rect x="314.48" y="397.96" width="7.77" height="6.64" fill="#5bbf82"/>
<rect x="321.25" y="397.96" width="7.77" height="6.64" fill="#52a98c"/>
<rect x="328.03" y="397.96" width="7.77" height="6.64" fill="#4b988a"/>
<rect x="334.80" y="397.96" width="7.77" height="6.64" fill="#488b8a"/>
<rect x="341.57" y="397.96" width="7.77" height="6.64" fill="#488b8a"/>
<rect x="348.34" y="397.96" width="7.77" height="6.64" fill="#45808c"/>
<rect x="355.11" y="397.96" width="7.77" height="6.64" fill="#45738b"/>
<rect x="361.89" y="397.96" width="7.77" height="6.64" fill="#46688a"/>
<rect x="368.66" y="397.96" width="7.77" height="6.64" fill="#485e8a"/>
<rect x="375.43" y="397.96" width="7.77" height="6.64" fill="#475889"/>
<rect x="382.20" y="397.96" width="7.77" height="6.64" fill="#435087"/>
<rect x="388.97" y="397.96" width="7.77" height="6.64" fill="#424d86"/>
<rect x="395.75" y="397.96" width="7.77" height="6.64" fill="#424884"/>
<rect x="402.52" y="397.96" width="7.77" height="6.64" fill="#443e7e"/>
<rect x="409.29" y="397.96" width="7.77" height="6.64" fill="#443e7e"/>
<rect x="416.06" y="397.96" width="7.77" height="6.64" fill="#472e74"/>
<rect x="422.83" y="397.96" width="7.77" height="6.64" fill="#472e74"/>
<rect x="429.61" y="397.96" width="7.77" height="6.64" fill="#48226e"/>
<rect x="436.38" y="397.96" width="6.77" height="6.64" fill="#471668"/>
<rect x="273.85" y="403.61" width="7.77" height="6.64" fill="#bee84c"/>
<rect x="280.62" y="403.61" width="7.77" height="6.64" fill="#85e15b"/>
<rect x="287.39" y="403.61" width="7.77" height="6.64" fill="#6bc878"/>
<rect x="294.17" y="403.61" width="7.77" height="6.64" fill="#6bc878"/>
<rect x="300.94" y="403.61" width="7.77" height="6.64" fill="#5bbf82"/>
<rect x="307.71" y="403.61" width="7.77" height="6.64" fill="#5bbf82"/>
<rect x="314.48" y="403.61" width="7.77" height="6.64" fill="#52b489"/>
<rect x="321.25" y="403.61" width="7.77" height="6.64" fill="#52a98c"/>
<rect x="328.03" y="403.61" width="7.77" height="6.64" fill="#4a928a"/>
<rect x="334.80" y="403.61" width="7.77" height="6.64" fill="#488b8a"/>
<rect x="341.57" y="403.61" width="7.77" height="6.64" fill="#45808c"/>
<rect x="348.34" y="403.61" width="7.77" height="6.64" fill="#447b8c"/>
<rect x="355.11" y="403.61" width="7.77" height="6.64" fill="#46688a"/>
<rect x="361.89" y="403.61" width="7.77" height="6.64" fill="#485e8a"/>
<rect x="368.66" y="403.61" width="7.77" height="6.64" fill="#475889"/>
<rect x="375.43" y="403.61" width="7.77" height="6.64" fill="#445388"/>
<rect x="382.20" y="403.61" width="7.77" height="6.64" fill="#424d86"/>
<rect x="388.97" y="403.61" width="7.77" height="6.64" fill="#443e7e"/>
<rect x="395.75" y="403.61" width="7.77" height="6.64" fill="#443e7e"/>
<rect x="402.52" y="403.61" width="7.77" height="6.64" fill="#453679"/>
<rect x="409.29" y="403.61" width="7.77" height="6.64" fill="#453679"/>
<rect x="416.06" y="403.61" width="7.77" height="6.64" fill="#48226e"/>
<rect x="422.83" y="403.61" width="7.77" height="6.64" fill="#48226e"/>
<rect x="429.61" y="403.61" width="7.77" height="6.64" fill="#48226e"/>
<rect x="436.38" y="403.61" width="6.77" height="6.64" fill="#471668"/>
<rect x="273.85" y="409.25" width="7.77" height="5.64" fill="#95e555"/>
<rect x="280.62" y="409.25" width="7.77" height="5.64" fill="#7fdb63"/>
<rect x="287.39" y="409.25" width="7.77" height="5.64" fill="#75d16d"/>
<rect x="294.17" y="409.25" width="7.77" height="5.64" fill="#63c57d"/>
<rect x="300.94" y="409.25" width="7.77" height="5.64" fill="#5bbf82"/>
<rect x="307.71" y="409.25" width="7.77" height="5.64" fill="#52a98c"/>
<rect x="314.48" y="409.25" width="7.77" height="5.64" fill="#4d9e8a"/>
<rect x="321.25" y="409.25" width="7.77" height="5.64" fill="#4d9e8a"/>
<rect x="328.03" y="409.25" width="7.77" height="5.64" fill="#488b8a"/>
<rect x="334.80" y="409.25" width="7.77" height="5.64" fill="#45808c"/>
<rect x="341.57" y="409.25" width="7.77" height="5.64" fill="#447b8c"/>
<rect x="348.34" y="409.25" width="7.77" height="5.64" fill="#45738b"/>
<rect x="355.11" y="409.25" width="7.77" height="5.64" fill="#46688a"/>
<rect x="361.89" y="409.25" width="7.77" height="5.64" fill="#485e8a"/>
<rect x="368.66" y="409.25" width="7.77" height="5.64" fill="#475889"/>
<rect x="375.43" y="409.25" width="7.77" height="5.64" fill="#424d86"/>
<rect x="382.20" y="409.25" width="7.77" height="5.64" fill="#424884"/>
<rect x="388.97" y="409.25" width="7.77" height="5.64" fill="#453679"/>
<rect x="395.75" y="409.25" width="7.77" height="5.64" fill="#453679"/>
<rect x="402.52" y="409.25" width="7.77" height="5.64" fill="#472e74"/>
<rect x="409.29" y="409.25" width="7.77" height="5.64" fill="#472e74"/>
<rect x="416.06" y="409.25" width="7.77" height="5.64" fill="#48226e"/>
<rect x="422.83" y="409.25" width="7.77" height="5.64" fill="#48226e"/>
<rect x="429.61" y="409.25" width="7.77" height="5.64" fill="#471668"/>
<rect x="436.38" y="409.25" width="6.77" height="5.64" fill="#440f62"/>
</g>
<g stroke="#fff" fill="none">
<path stroke-opacity="0.065" stroke-width="1" d="M273.85 307.64H443.15M273.85 313.29H443.15M273.85 318.94H443.15M273.85 324.58H443.15M273.85 330.23H443.15M273.85 335.87H443.15M273.85 341.51H443.15M273.85 347.16H443.15M273.85 352.81H443.15M273.85 358.45H443.15M273.85 364.10H443.15M273.85 369.74H443.15M273.85 375.38H443.15M273.85 381.03H443.15M273.85 386.68H443.15M273.85 392.32H443.15M273.85 397.96H443.15M273.85 403.61H443.15M273.85 409.25H443.15"/>
<path stroke-opacity="0.035" stroke-width="1" d="M280.62 302.00V414.90M287.39 302.00V414.90M294.17 302.00V414.90M300.94 302.00V414.90M307.71 302.00V414.90M314.48 302.00V414.90M321.25 302.00V414.90M328.03 302.00V414.90M334.80 302.00V414.90M341.57 302.00V414.90M348.34 302.00V414.90M355.11 302.00V414.90M361.89 302.00V414.90M368.66 302.00V414.90M375.43 302.00V414.90M382.20 302.00V414.90M388.97 302.00V414.90M395.75 302.00V414.90M402.52 302.00V414.90M409.29 302.00V414.90M416.06 302.00V414.90M422.83 302.00V414.90M429.61 302.00V414.90M436.38 302.00V414.90"/>
</g>
<g stroke="#000" stroke-width="1.07" fill="none">
<path d="M265.45 296.20V420.40H451.85"/>
<path d="M261.95 417.70H265.45"/>
<path d="M261.95 389.47H265.45"/>
<path d="M261.95 361.25H265.45"/>
<path d="M261.95 333.02H265.45"/>
<path d="M261.95 304.80H265.45"/>
<path d="M270.40 420.40V423.70"/>
<path d="M304.27 420.40V423.70"/>
<path d="M338.15 420.40V423.70"/>
<path d="M372.02 420.40V423.70"/>
<path d="M405.90 420.40V423.70"/>
<path d="M439.77 420.40V423.70"/>
</g>
<g fill="#2a2a2a" stroke="#2a2a2a" stroke-width="0.2" font-size="10.40">
<text transform="translate(259.25 421.60) scale(1 1.0)" text-anchor="end">0</text>
<text transform="translate(259.25 393.37) scale(1 1.0)" text-anchor="end">5</text>
<text transform="translate(259.25 365.15) scale(1 1.0)" text-anchor="end">10</text>
<text transform="translate(259.25 336.92) scale(1 1.0)" text-anchor="end">15</text>
<text transform="translate(259.25 308.70) scale(1 1.0)" text-anchor="end">20</text>
<text transform="translate(270.40 433.60) scale(1 1.0)" text-anchor="middle">0</text>
<text transform="translate(304.27 433.60) scale(1 1.0)" text-anchor="middle">5</text>
<text transform="translate(338.15 433.60) scale(1 1.0)" text-anchor="middle">10</text>
<text transform="translate(372.02 433.60) scale(1 1.0)" text-anchor="middle">15</text>
<text transform="translate(405.90 433.60) scale(1 1.0)" text-anchor="middle">20</text>
<text transform="translate(439.77 433.60) scale(1 1.0)" text-anchor="middle">25</text>
</g>
<text transform="translate(358.55 449.30) scale(1 1.04)" font-size="13" text-anchor="middle" fill="#000">Threshold (percentile)</text>
<text transform="translate(241.35 358.40) rotate(-90) scale(1 1.04)" font-size="13" text-anchor="middle" fill="#000">Minimum event duration (days)</text>
<text transform="translate(264.95 286.90) scale(1 1.04)" font-size="15.6" fill="#000">E) NZ-FoT-7m</text>
<g>
<rect x="505.80" y="302.00" width="7.77" height="6.64" fill="#bfbfbf"/>
<rect x="512.57" y="302.00" width="7.77" height="6.64" fill="#bfbfbf"/>
<rect x="519.34" y="302.00" width="7.77" height="6.64" fill="#bfbfbf"/>
<rect x="526.12" y="302.00" width="7.77" height="6.64" fill="#bfbfbf"/>
<rect x="532.89" y="302.00" width="7.77" height="6.64" fill="#bfbfbf"/>
<rect x="539.66" y="302.00" width="7.77" height="6.64" fill="#bfbfbf"/>
<rect x="546.43" y="302.00" width="7.77" height="6.64" fill="#e5ef3f"/>
<rect x="553.20" y="302.00" width="7.77" height="6.64" fill="#e5ef3f"/>
<rect x="559.98" y="302.00" width="7.77" height="6.64" fill="#e5ef3f"/>
<rect x="566.75" y="302.00" width="7.77" height="6.64" fill="#85e15b"/>
<rect x="573.52" y="302.00" width="7.77" height="6.64" fill="#85e15b"/>
<rect x="580.29" y="302.00" width="7.77" height="6.64" fill="#85e15b"/>
<rect x="587.06" y="302.00" width="7.77" height="6.64" fill="#85e15b"/>
<rect x="593.84" y="302.00" width="7.77" height="6.64" fill="#85e15b"/>
<rect x="600.61" y="302.00" width="7.77" height="6.64" fill="#85e15b"/>
<rect x="607.38" y="302.00" width="7.77" height="6.64" fill="#85e15b"/>
<rect x="614.15" y="302.00" width="7.77" height="6.64" fill="#85e15b"/>
<rect x="620.92" y="302.00" width="7.77" height="6.64" fill="#85e15b"/>
<rect x="627.70" y="302.00" width="7.77" height="6.64" fill="#85e15b"/>
<rect x="634.47" y="302.00" width="7.77" height="6.64" fill="#85e15b"/>
<rect x="641.24" y="302.00" width="7.77" height="6.64" fill="#85e15b"/>
<rect x="648.01" y="302.00" width="7.77" height="6.64" fill="#75d16d"/>
<rect x="654.78" y="302.00" width="7.77" height="6.64" fill="#4d9e8a"/>
<rect x="661.56" y="302.00" width="7.77" height="6.64" fill="#4d9e8a"/>
<rect x="668.33" y="302.00" width="6.77" height="6.64" fill="#4d9e8a"/>
<rect x="505.80" y="307.64" width="7.77" height="6.64" fill="#bfbfbf"/>
<rect x="512.57" y="307.64" width="7.77" height="6.64" fill="#bfbfbf"/>
<rect x="519.34" y="307.64" width="7.77" height="6.64" fill="#bfbfbf"/>
<rect x="526.12" y="307.64" width="7.77" height="6.64" fill="#bfbfbf"/>
<rect x="532.89" y="307.64" width="7.77" height="6.64" fill="#bfbfbf"/>
<rect x="539.66" y="307.64" width="7.77" height="6.64" fill="#e5ef3f"/>
<rect x="546.43" y="307.64" width="7.77" height="6.64" fill="#e5ef3f"/>
<rect x="553.20" y="307.64" width="7.77" height="6.64" fill="#e5ef3f"/>
<rect x="559.98" y="307.64" width="7.77" height="6.64" fill="#e5ef3f"/>
<rect x="566.75" y="307.64" width="7.77" height="6.64" fill="#85e15b"/>
<rect x="573.52" y="307.64" width="7.77" height="6.64" fill="#85e15b"/>
<rect x="580.29" y="307.64" width="7.77" height="6.64" fill="#85e15b"/>
<rect x="587.06" y="307.64" width="7.77" height="6.64" fill="#85e15b"/>
<rect x="593.84" y="307.64" width="7.77" height="6.64" fill="#85e15b"/>
<rect x="600.61" y="307.64" width="7.77" height="6.64" fill="#85e15b"/>
<rect x="607.38" y="307.64" width="7.77" height="6.64" fill="#85e15b"/>
<rect x="614.15" y="307.64" width="7.77" height="6.64" fill="#75d16d"/>
<rect x="620.92" y="307.64" width="7.77" height="6.64" fill="#75d16d"/>
<rect x="627.70" y="307.64" width="7.77" height="6.64" fill="#75d16d"/>
<rect x="634.47" y="307.64" width="7.77" height="6.64" fill="#75d16d"/>
<rect x="641.24" y="307.64" width="7.77" height="6.64" fill="#5bbf82"/>
<rect x="648.01" y="307.64" width="7.77" height="6.64" fill="#5bbf82"/>
<rect x="654.78" y="307.64" width="7.77" height="6.64" fill="#4d9e8a"/>
<rect x="661.56" y="307.64" width="7.77" height="6.64" fill="#4d9e8a"/>
<rect x="668.33" y="307.64" width="6.77" height="6.64" fill="#4d9e8a"/>
<rect x="505.80" y="313.29" width="7.77" height="6.64" fill="#bfbfbf"/>
<rect x="512.57" y="313.29" width="7.77" height="6.64" fill="#bfbfbf"/>
<rect x="519.34" y="313.29" width="7.77" height="6.64" fill="#bfbfbf"/>
<rect x="526.12" y="313.29" width="7.77" height="6.64" fill="#bfbfbf"/>
<rect x="532.89" y="313.29" width="7.77" height="6.64" fill="#bfbfbf"/>
<rect x="539.66" y="313.29" width="7.77" height="6.64" fill="#e5ef3f"/>
<rect x="546.43" y="313.29" width="7.77" height="6.64" fill="#e5ef3f"/>
<rect x="553.20" y="313.29" width="7.77" height="6.64" fill="#e5ef3f"/>
<rect x="559.98" y="313.29" width="7.77" height="6.64" fill="#e5ef3f"/>
<rect x="566.75" y="313.29" width="7.77" height="6.64" fill="#85e15b"/>
<rect x="573.52" y="313.29" width="7.77" height="6.64" fill="#85e15b"/>
<rect x="580.29" y="313.29" width="7.77" height="6.64" fill="#85e15b"/>
<rect x="587.06" y="313.29" width="7.77" height="6.64" fill="#85e15b"/>
<rect x="593.84" y="313.29" width="7.77" height="6.64" fill="#75d16d"/>
<rect x="600.61" y="313.29" width="7.77" height="6.64" fill="#75d16d"/>
<rect x="607.38" y="313.29" width="7.77" height="6.64" fill="#75d16d"/>
<rect x="614.15" y="313.29" width="7.77" height="6.64" fill="#75d16d"/>
<rect x="620.92" y="313.29" width="7.77" height="6.64" fill="#75d16d"/>
<rect x="627.70" y="313.29" width="7.77" height="6.64" fill="#75d16d"/>
<rect x="634.47" y="313.29" width="7.77" height="6.64" fill="#5bbf82"/>
<rect x="641.24" y="313.29" width="7.77" height="6.64" fill="#5bbf82"/>
<rect x="648.01" y="313.29" width="7.77" height="6.64" fill="#5bbf82"/>
<rect x="654.78" y="313.29" width="7.77" height="6.64" fill="#4d9e8a"/>
<rect x="661.56" y="313.29" width="7.77" height="6.64" fill="#4d9e8a"/>
<rect x="668.33" y="313.29" width="6.77" height="6.64" fill="#4d9e8a"/>
<rect x="505.80" y="318.94" width="7.77" height="6.64" fill="#bfbfbf"/>
<rect x="512.57" y="318.94" width="7.77" height="6.64" fill="#bfbfbf"/>
<rect x="519.34" y="318.94" width="7.77" height="6.64" fill="#bfbfbf"/>
<rect x="526.12" y="318.94" width="7.77" height="6.64" fill="#bfbfbf"/>
<rect x="532.89" y="318.94" width="7.77" height="6.64" fill="#e5ef3f"/>
<rect x="539.66" y="318.94" width="7.77" height="6.64" fill="#e5ef3f"/>
<rect x="546.43" y="318.94" width="7.77" height="6.64" fill="#e5ef3f"/>
<rect x="553.20" y="318.94" width="7.77" height="6.64" fill="#e5ef3f"/>
<rect x="559.98" y="318.94" width="7.77" height="6.64" fill="#e5ef3f"/>
<rect x="566.75" y="318.94" width="7.77" height="6.64" fill="#85e15b"/>
<rect x="573.52" y="318.94" width="7.77" height="6.64" fill="#85e15b"/>
<rect x="580.29" y="318.94" width="7.77" height="6.64" fill="#85e15b"/>
<rect x="587.06" y="318.94" width="7.77" height="6.64" fill="#77d36b"/>
<rect x="593.84" y="318.94" width="7.77" height="6.64" fill="#77d36b"/>
<rect x="600.61" y="318.94" width="7.77" height="6.64" fill="#77d36b"/>
<rect x="607.38" y="318.94" width="7.77" height="6.64" fill="#77d36b"/>
<rect x="614.15" y="318.94" width="7.77" height="6.64" fill="#75d16d"/>
<rect x="620.92" y="318.94" width="7.77" height="6.64" fill="#75d16d"/>
<rect x="627.70" y="318.94" width="7.77" height="6.64" fill="#75d16d"/>
<rect x="634.47" y="318.94" width="7.77" height="6.64" fill="#5bbf82"/>
<rect x="641.24" y="318.94" width="7.77" height="6.64" fill="#5bbf82"/>
<rect x="648.01" y="318.94" width="7.77" height="6.64" fill="#5bbf82"/>
<rect x="654.78" y="318.94" width="7.77" height="6.64" fill="#4d9e8a"/>
<rect x="661.56" y="318.94" width="7.77" height="6.64" fill="#4d9e8a"/>
<rect x="668.33" y="318.94" width="6.77" height="6.64" fill="#4d9e8a"/>
<rect x="505.80" y="324.58" width="7.77" height="6.64" fill="#bfbfbf"/>
<rect x="512.57" y="324.58" width="7.77" height="6.64" fill="#bfbfbf"/>
<rect x="519.34" y="324.58" width="7.77" height="6.64" fill="#bfbfbf"/>
<rect x="526.12" y="324.58" width="7.77" height="6.64" fill="#e5ef3f"/>
<rect x="532.89" y="324.58" width="7.77" height="6.64" fill="#e5ef3f"/>
<rect x="539.66" y="324.58" width="7.77" height="6.64" fill="#e5ef3f"/>
<rect x="546.43" y="324.58" width="7.77" height="6.64" fill="#e5ef3f"/>
<rect x="553.20" y="324.58" width="7.77" height="6.64" fill="#e5ef3f"/>
<rect x="559.98" y="324.58" width="7.77" height="6.64" fill="#e5ef3f"/>
<rect x="566.75" y="324.58" width="7.77" height="6.64" fill="#7fdb63"/>
<rect x="573.52" y="324.58" width="7.77" height="6.64" fill="#7fdb63"/>
<rect x="580.29" y="324.58" width="7.77" height="6.64" fill="#7fdb63"/>
<rect x="587.06" y="324.58" width="7.77" height="6.64" fill="#75d16d"/>
<rect x="593.84" y="324.58" width="7.77" height="6.64" fill="#75d16d"/>
<rect x="600.61" y="324.58" width="7.77" height="6.64" fill="#75d16d"/>
<rect x="607.38" y="324.58" width="7.77" height="6.64" fill="#75d16d"/>
<rect x="614.15" y="324.58" width="7.77" height="6.64" fill="#75d16d"/>
<rect x="620.92" y="324.58" width="7.77" height="6.64" fill="#5bbf82"/>
<rect x="627.70" y="324.58" width="7.77" height="6.64" fill="#5bbf82"/>
<rect x="634.47" y="324.58" width="7.77" height="6.64" fill="#52b489"/>
<rect x="641.24" y="324.58" width="7.77" height="6.64" fill="#52a98c"/>
<rect x="648.01" y="324.58" width="7.77" height="6.64" fill="#52a98c"/>
<rect x="654.78" y="324.58" width="7.77" height="6.64" fill="#4d9e8a"/>
<rect x="661.56" y="324.58" width="7.77" height="6.64" fill="#4d9e8a"/>
<rect x="668.33" y="324.58" width="6.77" height="6.64" fill="#4d9e8a"/>
<rect x="505.80" y="330.23" width="7.77" height="6.64" fill="#bfbfbf"/>
<rect x="512.57" y="330.23" width="7.77" height="6.64" fill="#bfbfbf"/>
<rect x="519.34" y="330.23" width="7.77" height="6.64" fill="#e5ef3f"/>
<rect x="526.12" y="330.23" width="7.77" height="6.64" fill="#e5ef3f"/>
<rect x="532.89" y="330.23" width="7.77" height="6.64" fill="#e5ef3f"/>
<rect x="539.66" y="330.23" width="7.77" height="6.64" fill="#e5ef3f"/>
<rect x="546.43" y="330.23" width="7.77" height="6.64" fill="#e5ef3f"/>
<rect x="553.20" y="330.23" width="7.77" height="6.64" fill="#bee84c"/>
<rect x="559.98" y="330.23" width="7.77" height="6.64" fill="#95e555"/>
<rect x="566.75" y="330.23" width="7.77" height="6.64" fill="#7fdb63"/>
<rect x="573.52" y="330.23" width="7.77" height="6.64" fill="#7fdb63"/>
<rect x="580.29" y="330.23" width="7.77" height="6.64" fill="#7fdb63"/>
<rect x="587.06" y="330.23" width="7.77" height="6.64" fill="#63c57d"/>
<rect x="593.84" y="330.23" width="7.77" height="6.64" fill="#63c57d"/>
<rect x="600.61" y="330.23" width="7.77" height="6.64" fill="#63c57d"/>
<rect x="607.38" y="330.23" width="7.77" height="6.64" fill="#63c57d"/>
<rect x="614.15" y="330.23" width="7.77" height="6.64" fill="#5bbf82"/>
<rect x="620.92" y="330.23" width="7.77" height="6.64" fill="#52b489"/>
<rect x="627.70" y="330.23" width="7.77" height="6.64" fill="#52b489"/>
<rect x="634.47" y="330.23" width="7.77" height="6.64" fill="#52b489"/>
<rect x="641.24" y="330.23" width="7.77" height="6.64" fill="#52a98c"/>
<rect x="648.01" y="330.23" width="7.77" height="6.64" fill="#447b8c"/>
<rect x="654.78" y="330.23" width="7.77" height="6.64" fill="#45738b"/>
<rect x="661.56" y="330.23" width="7.77" height="6.64" fill="#45738b"/>
<rect x="668.33" y="330.23" width="6.77" height="6.64" fill="#45738b"/>
<rect x="505.80" y="335.87" width="7.77" height="6.64" fill="#bfbfbf"/>
<rect x="512.57" y="335.87" width="7.77" height="6.64" fill="#bfbfbf"/>
<rect x="519.34" y="335.87" width="7.77" height="6.64" fill="#e5ef3f"/>
<rect x="526.12" y="335.87" width="7.77" height="6.64" fill="#d0ea49"/>
<rect x="532.89" y="335.87" width="7.77" height="6.64" fill="#d0ea49"/>
<rect x="539.66" y="335.87" width="7.77" height="6.64" fill="#d0ea49"/>
<rect x="546.43" y="335.87" width="7.77" height="6.64" fill="#d0ea49"/>
<rect x="553.20" y="335.87" width="7.77" height="6.64" fill="#d0ea49"/>
<rect x="559.98" y="335.87" width="7.77" height="6.64" fill="#85e15b"/>
<rect x="566.75" y="335.87" width="7.77" height="6.64" fill="#85e15b"/>
<rect x="573.52" y="335.87" width="7.77" height="6.64" fill="#81dd60"/>
<rect x="580.29" y="335.87" width="7.77" height="6.64" fill="#66c57c"/>
<rect x="587.06" y="335.87" width="7.77" height="6.64" fill="#66c57c"/>
<rect x="593.84" y="335.87" width="7.77" height="6.64" fill="#66c57c"/>
<rect x="600.61" y="335.87" width="7.77" height="6.64" fill="#66c57c"/>
<rect x="607.38" y="335.87" width="7.77" height="6.64" fill="#66c57c"/>
<rect x="614.15" y="335.87" width="7.77" height="6.64" fill="#63c57d"/>
<rect x="620.92" y="335.87" width="7.77" height="6.64" fill="#52a98c"/>
<rect x="627.70" y="335.87" width="7.77" height="6.64" fill="#52a98c"/>
<rect x="634.47" y="335.87" width="7.77" height="6.64" fill="#4d9e8a"/>
<rect x="641.24" y="335.87" width="7.77" height="6.64" fill="#4d9e8a"/>
<rect x="648.01" y="335.87" width="7.77" height="6.64" fill="#447b8c"/>
<rect x="654.78" y="335.87" width="7.77" height="6.64" fill="#447b8c"/>
<rect x="661.56" y="335.87" width="7.77" height="6.64" fill="#475889"/>
<rect x="668.33" y="335.87" width="6.77" height="6.64" fill="#475889"/>
<rect x="505.80" y="341.51" width="7.77" height="6.64" fill="#bfbfbf"/>
<rect x="512.57" y="341.51" width="7.77" height="6.64" fill="#e5ef3f"/>
<rect x="519.34" y="341.51" width="7.77" height="6.64" fill="#e5ef3f"/>
<rect x="526.12" y="341.51" width="7.77" height="6.64" fill="#d0ea49"/>
<rect x="532.89" y="341.51" width="7.77" height="6.64" fill="#d0ea49"/>
<rect x="539.66" y="341.51" width="7.77" height="6.64" fill="#d0ea49"/>
<rect x="546.43" y="341.51" width="7.77" height="6.64" fill="#d0ea49"/>
<rect x="553.20" y="341.51" width="7.77" height="6.64" fill="#d0ea49"/>
<rect x="559.98" y="341.51" width="7.77" height="6.64" fill="#85e15b"/>
<rect x="566.75" y="341.51" width="7.77" height="6.64" fill="#85e15b"/>
<rect x="573.52" y="341.51" width="7.77" height="6.64" fill="#66c57c"/>
<rect x="580.29" y="341.51" width="7.77" height="6.64" fill="#66c57c"/>
<rect x="587.06" y="341.51" width="7.77" height="6.64" fill="#66c57c"/>
<rect x="593.84" y="341.51" width="7.77" height="6.64" fill="#66c57c"/>
<rect x="600.61" y="341.51" width="7.77" height="6.64" fill="#66c57c"/>
<rect x="607.38" y="341.51" width="7.77" height="6.64" fill="#66c57c"/>
<rect x="614.15" y="341.51" width="7.77" height="6.64" fill="#63c57d"/>
<rect x="620.92" y="341.51" width="7.77" height="6.64" fill="#52a98c"/>
<rect x="627.70" y="341.51" width="7.77" height="6.64" fill="#52a98c"/>
<rect x="634.47" y="341.51" width="7.77" height="6.64" fill="#4d9e8a"/>
<rect x="641.24" y="341.51" width="7.77" height="6.64" fill="#4d9e8a"/>
<rect x="648.01" y="341.51" width="7.77" height="6.64" fill="#447b8c"/>
<rect x="654.78" y="341.51" width="7.77" height="6.64" fill="#45738b"/>
<rect x="661.56" y="341.51" width="7.77" height="6.64" fill="#475889"/>
<rect x="668.33" y="341.51" width="6.77" height="6.64" fill="#475889"/>
<rect x="505.80" y="347.16" width="7.77" height="6.64" fill="#e5ef3f"/>
<rect x="512.57" y="347.16" width="7.77" height="6.64" fill="#e5ef3f"/>
<rect x="519.34" y="347.16" width="7.77" height="6.64" fill="#d0ea49"/>
<rect x="526.12" y="347.16" width="7.77" height="6.64" fill="#d0ea49"/>
<rect x="532.89" y="347.16" width="7.77" height="6.64" fill="#d0ea49"/>
<rect x="539.66" y="347.16" width="7.77" height="6.64" fill="#d0ea49"/>
<rect x="546.43" y="347.16" width="7.77" height="6.64" fill="#d0ea49"/>
<rect x="553.20" y="347.16" width="7.77" height="6.64" fill="#d0ea49"/>
<rect x="559.98" y="347.16" width="7.77" height="6.64" fill="#85e15b"/>
<rect x="566.75" y="347.16" width="7.77" height="6.64" fill="#85e15b"/>
<rect x="573.52" y="347.16" width="7.77" height="6.64" fill="#66c57c"/>
<rect x="580.29" y="347.16" width="7.77" height="6.64" fill="#66c57c"/>
<rect x="587.06" y="347.16" width="7.77" height="6.64" fill="#66c57c"/>
<rect x="593.84" y="347.16" width="7.77" height="6.64" fill="#66c57c"/>
<rect x="600.61" y="347.16" width="7.77" height="6.64" fill="#66c57c"/>
<rect x="607.38" y="347.16" width="7.77" height="6.64" fill="#66c57c"/>
<rect x="614.15" y="347.16" width="7.77" height="6.64" fill="#63c57d"/>
<rect x="620.92" y="347.16" width="7.77" height="6.64" fill="#52a98c"/>
<rect x="627.70" y="347.16" width="7.77" height="6.64" fill="#52a98c"/>
<rect x="634.47" y="347.16" width="7.77" height="6.64" fill="#4d9e8a"/>
<rect x="641.24" y="347.16" width="7.77" height="6.64" fill="#4d9e8a"/>
<rect x="648.01" y="347.16" width="7.77" height="6.64" fill="#45738b"/>
<rect x="654.78" y="347.16" width="7.77" height="6.64" fill="#45738b"/>
<rect x="661.56" y="347.16" width="7.77" height="6.64" fill="#475889"/>
<rect x="668.33" y="347.16" width="6.77" height="6.64" fill="#475889"/>
<rect x="505.80" y="352.81" width="7.77" height="6.64" fill="#e5ef3f"/>
<rect x="512.57" y="352.81" width="7.77" height="6.64" fill="#e5ef3f"/>
<rect x="519.34" y="352.81" width="7.77" height="6.64" fill="#d0ea49"/>
<rect x="526.12" y="352.81" width="7.77" height="6.64" fill="#d0ea49"/>
<rect x="532.89" y="352.81" width="7.77" height="6.64" fill="#d0ea49"/>
<rect x="539.66" y="352.81" width="7.77" height="6.64" fill="#d0ea49"/>
<rect x="546.43" y="352.81" width="7.77" height="6.64" fill="#d0ea49"/>
<rect x="553.20" y="352.81" width="7.77" height="6.64" fill="#d0ea49"/>
<rect x="559.98" y="352.81" width="7.77" height="6.64" fill="#85e15b"/>
<rect x="566.75" y="352.81" width="7.77" height="6.64" fill="#85e15b"/>
<rect x="573.52" y="352.81" width="7.77" height="6.64" fill="#66c57c"/>
<rect x="580.29" y="352.81" width="7.77" height="6.64" fill="#66c57c"/>
<rect x="587.06" y="352.81" width="7.77" height="6.64" fill="#66c57c"/>
<rect x="593.84" y="352.81" width="7.77" height="6.64" fill="#66c57c"/>
<rect x="600.61" y="352.81" width="7.77" height="6.64" fill="#66c57c"/>
<rect x="607.38" y="352.81" width="7.77" height="6.64" fill="#66c57c"/>
<rect x="614.15" y="352.81" width="7.77" height="6.64" fill="#63c57d"/>
<rect x="620.92" y="352.81" width="7.77" height="6.64" fill="#52a98c"/>
<rect x="627.70" y="352.81" width="7.77" height="6.64" fill="#4d9e8a"/>
<rect x="634.47" y="352.81" width="7.77" height="6.64" fill="#4d9e8a"/>
<rect x="641.24" y="352.81" width="7.77" height="6.64" fill="#4d9e8a"/>
<rect x="648.01" y="352.81" width="7.77" height="6.64" fill="#45738b"/>
<rect x="654.78" y="352.81" width="7.77" height="6.64" fill="#46688a"/>
<rect x="661.56" y="352.81" width="7.77" height="6.64" fill="#445388"/>
<rect x="668.33" y="352.81" width="6.77" height="6.64" fill="#445388"/>
<rect x="505.80" y="358.45" width="7.77" height="6.64" fill="#e5ef3f"/>
<rect x="512.57" y="358.45" width="7.77" height="6.64" fill="#e5ef3f"/>
<rect x="519.34" y="358.45" width="7.77" height="6.64" fill="#d0ea49"/>
<rect x="526.12" y="358.45" width="7.77" height="6.64" fill="#d0ea49"/>
<rect x="532.89" y="358.45" width="7.77" height="6.64" fill="#d0ea49"/>
<rect x="539.66" y="358.45" width="7.77" height="6.64" fill="#d0ea49"/>
<rect x="546.43" y="358.45" width="7.77" height="6.64" fill="#d0ea49"/>
<rect x="553.20" y="358.45" width="7.77" height="6.64" fill="#d0ea49"/>
<rect x="559.98" y="358.45" width="7.77" height="6.64" fill="#85e15b"/>
<rect x="566.75" y="358.45" width="7.77" height="6.64" fill="#85e15b"/>
<rect x="573.52" y="358.45" width="7.77" height="6.64" fill="#66c57c"/>
<rect x="580.29" y="358.45" width="7.77" height="6.64" fill="#66c57c"/>
<rect x="587.06" y="358.45" width="7.77" height="6.64" fill="#66c57c"/>
<rect x="593.84" y="358.45" width="7.77" height="6.64" fill="#66c57c"/>
<rect x="600.61" y="358.45" width="7.77" height="6.64" fill="#66c57c"/>
<rect x="607.38" y="358.45" width="7.77" height="6.64" fill="#66c57c"/>
<rect x="614.15" y="358.45" width="7.77" height="6.64" fill="#63c57d"/>
<rect x="620.92" y="358.45" width="7.77" height="6.64" fill="#4a928a"/>
<rect x="627.70" y="358.45" width="7.77" height="6.64" fill="#45808c"/>
<rect x="634.47" y="358.45" width="7.77" height="6.64" fill="#45808c"/>
<rect x="641.24" y="358.45" width="7.77" height="6.64" fill="#45808c"/>
<rect x="648.01" y="358.45" width="7.77" height="6.64" fill="#485e8a"/>
<rect x="654.78" y="358.45" width="7.77" height="6.64" fill="#475889"/>
<rect x="661.56" y="358.45" width="7.77" height="6.64" fill="#424d86"/>
<rect x="668.33" y="358.45" width="6.77" height="6.64" fill="#424d86"/>
<rect x="505.80" y="364.10" width="7.77" height="6.64" fill="#e5ef3f"/>
<rect x="512.57" y="364.10" width="7.77" height="6.64" fill="#e5ef3f"/>
<rect x="519.34" y="364.10" width="7.77" height="6.64" fill="#d0ea49"/>
<rect x="526.12" y="364.10" width="7.77" height="6.64" fill="#d0ea49"/>
<rect x="532.89" y="364.10" width="7.77" height="6.64" fill="#d0ea49"/>
<rect x="539.66" y="364.10" width="7.77" height="6.64" fill="#d0ea49"/>
<rect x="546.43" y="364.10" width="7.77" height="6.64" fill="#d0ea49"/>
<rect x="553.20" y="364.10" width="7.77" height="6.64" fill="#bee84c"/>
<rect x="559.98" y="364.10" width="7.77" height="6.64" fill="#85e15b"/>
<rect x="566.75" y="364.10" width="7.77" height="6.64" fill="#85e15b"/>
<rect x="573.52" y="364.10" width="7.77" height="6.64" fill="#6bc878"/>
<rect x="580.29" y="364.10" width="7.77" height="6.64" fill="#5bbf82"/>
<rect x="587.06" y="364.10" width="7.77" height="6.64" fill="#5bbf82"/>
<rect x="593.84" y="364.10" width="7.77" height="6.64" fill="#5bbf82"/>
<rect x="600.61" y="364.10" width="7.77" height="6.64" fill="#5bbf82"/>
<rect x="607.38" y="364.10" width="7.77" height="6.64" fill="#52b489"/>
<rect x="614.15" y="364.10" width="7.77" height="6.64" fill="#52af8a"/>
<rect x="620.92" y="364.10" width="7.77" height="6.64" fill="#4a928a"/>
<rect x="627.70" y="364.10" width="7.77" height="6.64" fill="#45808c"/>
<rect x="634.47" y="364.10" width="7.77" height="6.64" fill="#45808c"/>
<rect x="641.24" y="364.10" width="7.77" height="6.64" fill="#45808c"/>
<rect x="648.01" y="364.10" width="7.77" height="6.64" fill="#475889"/>
<rect x="654.78" y="364.10" width="7.77" height="6.64" fill="#445388"/>
<rect x="661.56" y="364.10" width="7.77" height="6.64" fill="#424884"/>
<rect x="668.33" y="364.10" width="6.77" height="6.64" fill="#424884"/>
<rect x="505.80" y="369.74" width="7.77" height="6.64" fill="#e5ef3f"/>
<rect x="512.57" y="369.74" width="7.77" height="6.64" fill="#d0ea49"/>
<rect x="519.34" y="369.74" width="7.77" height="6.64" fill="#d0ea49"/>
<rect x="526.12" y="369.74" width="7.77" height="6.64" fill="#d0ea49"/>
<rect x="532.89" y="369.74" width="7.77" height="6.64" fill="#bee84c"/>
<rect x="539.66" y="369.74" width="7.77" height="6.64" fill="#bee84c"/>
<rect x="546.43" y="369.74" width="7.77" height="6.64" fill="#bee84c"/>
<rect x="553.20" y="369.74" width="7.77" height="6.64" fill="#bee84c"/>
<rect x="559.98" y="369.74" width="7.77" height="6.64" fill="#85e15b"/>
<rect x="566.75" y="369.74" width="7.77" height="6.64" fill="#6bc878"/>
<rect x="573.52" y="369.74" width="7.77" height="6.64" fill="#6bc878"/>
<rect x="580.29" y="369.74" width="7.77" height="6.64" fill="#5bbf82"/>
<rect x="587.06" y="369.74" width="7.77" height="6.64" fill="#5bbf82"/>
<rect x="593.84" y="369.74" width="7.77" height="6.64" fill="#5bbf82"/>
<rect x="600.61" y="369.74" width="7.77" height="6.64" fill="#52b489"/>
<rect x="607.38" y="369.74" width="7.77" height="6.64" fill="#52a98c"/>
<rect x="614.15" y="369.74" width="7.77" height="6.64" fill="#447b8c"/>
<rect x="620.92" y="369.74" width="7.77" height="6.64" fill="#447b8c"/>
<rect x="627.70" y="369.74" width="7.77" height="6.64" fill="#46688a"/>
<rect x="634.47" y="369.74" width="7.77" height="6.64" fill="#46688a"/>
<rect x="641.24" y="369.74" width="7.77" height="6.64" fill="#46688a"/>
<rect x="648.01" y="369.74" width="7.77" height="6.64" fill="#445388"/>
<rect x="654.78" y="369.74" width="7.77" height="6.64" fill="#424d86"/>
<rect x="661.56" y="369.74" width="7.77" height="6.64" fill="#424884"/>
<rect x="668.33" y="369.74" width="6.77" height="6.64" fill="#424884"/>
<rect x="505.80" y="375.38" width="7.77" height="6.64" fill="#e5ef3f"/>
<rect x="512.57" y="375.38" width="7.77" height="6.64" fill="#d0ea49"/>
<rect x="519.34" y="375.38" width="7.77" height="6.64" fill="#d0ea49"/>
<rect x="526.12" y="375.38" width="7.77" height="6.64" fill="#d0ea49"/>
<rect x="532.89" y="375.38" width="7.77" height="6.64" fill="#bee84c"/>
<rect x="539.66" y="375.38" width="7.77" height="6.64" fill="#bee84c"/>
<rect x="546.43" y="375.38" width="7.77" height="6.64" fill="#bee84c"/>
<rect x="553.20" y="375.38" width="7.77" height="6.64" fill="#85e15b"/>
<rect x="559.98" y="375.38" width="7.77" height="6.64" fill="#75d16d"/>
<rect x="566.75" y="375.38" width="7.77" height="6.64" fill="#52b489"/>
<rect x="573.52" y="375.38" width="7.77" height="6.64" fill="#52b489"/>
<rect x="580.29" y="375.38" width="7.77" height="6.64" fill="#52b489"/>
<rect x="587.06" y="375.38" width="7.77" height="6.64" fill="#4a928a"/>
<rect x="593.84" y="375.38" width="7.77" height="6.64" fill="#4a928a"/>
<rect x="600.61" y="375.38" width="7.77" height="6.64" fill="#4a928a"/>
<rect x="607.38" y="375.38" width="7.77" height="6.64" fill="#488b8a"/>
<rect x="614.15" y="375.38" width="7.77" height="6.64" fill="#45738b"/>
<rect x="620.92" y="375.38" width="7.77" height="6.64" fill="#46688a"/>
<rect x="627.70" y="375.38" width="7.77" height="6.64" fill="#46688a"/>
<rect x="634.47" y="375.38" width="7.77" height="6.64" fill="#46688a"/>
<rect x="641.24" y="375.38" width="7.77" height="6.64" fill="#46688a"/>
<rect x="648.01" y="375.38" width="7.77" height="6.64" fill="#445388"/>
<rect x="654.78" y="375.38" width="7.77" height="6.64" fill="#445388"/>
<rect x="661.56" y="375.38" width="7.77" height="6.64" fill="#424a85"/>
<rect x="668.33" y="375.38" width="6.77" height="6.64" fill="#424a85"/>
<rect x="505.80" y="381.03" width="7.77" height="6.64" fill="#e5ef3f"/>
<rect x="512.57" y="381.03" width="7.77" height="6.64" fill="#d0ea49"/>
<rect x="519.34" y="381.03" width="7.77" height="6.64" fill="#d0ea49"/>
<rect x="526.12" y="381.03" width="7.77" height="6.64" fill="#d0ea49"/>
<rect x="532.89" y="381.03" width="7.77" height="6.64" fill="#bee84c"/>
<rect x="539.66" y="381.03" width="7.77" height="6.64" fill="#7fdb63"/>
<rect x="546.43" y="381.03" width="7.77" height="6.64" fill="#7fdb63"/>
<rect x="553.20" y="381.03" width="7.77" height="6.64" fill="#7fdb63"/>
<rect x="559.98" y="381.03" width="7.77" height="6.64" fill="#5bbf82"/>
<rect x="566.75" y="381.03" width="7.77" height="6.64" fill="#52a98c"/>
<rect x="573.52" y="381.03" width="7.77" height="6.64" fill="#52a98c"/>
<rect x="580.29" y="381.03" width="7.77" height="6.64" fill="#52a98c"/>
<rect x="587.06" y="381.03" width="7.77" height="6.64" fill="#4a928a"/>
<rect x="593.84" y="381.03" width="7.77" height="6.64" fill="#4a928a"/>
<rect x="600.61" y="381.03" width="7.77" height="6.64" fill="#488b8a"/>
<rect x="607.38" y="381.03" width="7.77" height="6.64" fill="#488b8a"/>
<rect x="614.15" y="381.03" width="7.77" height="6.64" fill="#45738b"/>
<rect x="620.92" y="381.03" width="7.77" height="6.64" fill="#46688a"/>
<rect x="627.70" y="381.03" width="7.77" height="6.64" fill="#485e8a"/>
<rect x="634.47" y="381.03" width="7.77" height="6.64" fill="#485e8a"/>
<rect x="641.24" y="381.03" width="7.77" height="6.64" fill="#475889"/>
<rect x="648.01" y="381.03" width="7.77" height="6.64" fill="#445388"/>
<rect x="654.78" y="381.03" width="7.77" height="6.64" fill="#424d86"/>
<rect x="661.56" y="381.03" width="7.77" height="6.64" fill="#424884"/>
<rect x="668.33" y="381.03" width="6.77" height="6.64" fill="#424884"/>
<rect x="505.80" y="386.68" width="7.77" height="6.64" fill="#e5ef3f"/>
<rect x="512.57" y="386.68" width="7.77" height="6.64" fill="#d0ea49"/>
<rect x="519.34" y="386.68" width="7.77" height="6.64" fill="#d0ea49"/>
<rect x="526.12" y="386.68" width="7.77" height="6.64" fill="#95e555"/>
<rect x="532.89" y="386.68" width="7.77" height="6.64" fill="#95e555"/>
<rect x="539.66" y="386.68" width="7.77" height="6.64" fill="#7fdb63"/>
<rect x="546.43" y="386.68" width="7.77" height="6.64" fill="#75d16d"/>
<rect x="553.20" y="386.68" width="7.77" height="6.64" fill="#75d16d"/>
<rect x="559.98" y="386.68" width="7.77" height="6.64" fill="#5bbf82"/>
<rect x="566.75" y="386.68" width="7.77" height="6.64" fill="#52a98c"/>
<rect x="573.52" y="386.68" width="7.77" height="6.64" fill="#4d9e8a"/>
<rect x="580.29" y="386.68" width="7.77" height="6.64" fill="#4d9e8a"/>
<rect x="587.06" y="386.68" width="7.77" height="6.64" fill="#4a928a"/>
<rect x="593.84" y="386.68" width="7.77" height="6.64" fill="#447b8c"/>
<rect x="600.61" y="386.68" width="7.77" height="6.64" fill="#447b8c"/>
<rect x="607.38" y="386.68" width="7.77" height="6.64" fill="#45808c"/>
<rect x="614.15" y="386.68" width="7.77" height="6.64" fill="#46688a"/>
<rect x="620.92" y="386.68" width="7.77" height="6.64" fill="#475889"/>
<rect x="627.70" y="386.68" width="7.77" height="6.64" fill="#475889"/>
<rect x="634.47" y="386.68" width="7.77" height="6.64" fill="#445388"/>
<rect x="641.24" y="386.68" width="7.77" height="6.64" fill="#424d86"/>
<rect x="648.01" y="386.68" width="7.77" height="6.64" fill="#424d86"/>
<rect x="654.78" y="386.68" width="7.77" height="6.64" fill="#424884"/>
<rect x="661.56" y="386.68" width="7.77" height="6.64" fill="#443e7e"/>
<rect x="668.33" y="386.68" width="6.77" height="6.64" fill="#453679"/>
<rect x="505.80" y="392.32" width="7.77" height="6.64" fill="#e5ef3f"/>
<rect x="512.57" y="392.32" width="7.77" height="6.64" fill="#d0ea49"/>
<rect x="519.34" y="392.32" width="7.77" height="6.64" fill="#d0ea49"/>
<rect x="526.12" y="392.32" width="7.77" height="6.64" fill="#85e15b"/>
<rect x="532.89" y="392.32" width="7.77" height="6.64" fill="#85e15b"/>
<rect x="539.66" y="392.32" width="7.77" height="6.64" fill="#75d16d"/>
<rect x="546.43" y="392.32" width="7.77" height="6.64" fill="#75d16d"/>
<rect x="553.20" y="392.32" width="7.77" height="6.64" fill="#5bbf82"/>
<rect x="559.98" y="392.32" width="7.77" height="6.64" fill="#52af8a"/>
<rect x="566.75" y="392.32" width="7.77" height="6.64" fill="#4d9e8a"/>
<rect x="573.52" y="392.32" width="7.77" height="6.64" fill="#4a928a"/>
<rect x="580.29" y="392.32" width="7.77" height="6.64" fill="#4a928a"/>
<rect x="587.06" y="392.32" width="7.77" height="6.64" fill="#45808c"/>
<rect x="593.84" y="392.32" width="7.77" height="6.64" fill="#447b8c"/>
<rect x="600.61" y="392.32" width="7.77" height="6.64" fill="#447b8c"/>
<rect x="607.38" y="392.32" width="7.77" height="6.64" fill="#447b8c"/>
<rect x="614.15" y="392.32" width="7.77" height="6.64" fill="#46688a"/>
<rect x="620.92" y="392.32" width="7.77" height="6.64" fill="#475889"/>
<rect x="627.70" y="392.32" width="7.77" height="6.64" fill="#475889"/>
<rect x="634.47" y="392.32" width="7.77" height="6.64" fill="#445388"/>
<rect x="641.24" y="392.32" width="7.77" height="6.64" fill="#424d86"/>
<rect x="648.01" y="392.32" width="7.77" height="6.64" fill="#424884"/>
<rect x="654.78" y="392.32" width="7.77" height="6.64" fill="#443e7e"/>
<rect x="661.56" y="392.32" width="7.77" height="6.64" fill="#443e7e"/>
<rect x="668.33" y="392.32" width="6.77" height="6.64" fill="#453679"/>
<rect x="505.80" y="397.96" width="7.77" height="6.64" fill="#dcec43"/>
<rect x="512.57" y="397.96" width="7.77" height="6.64" fill="#d0ea49"/>
<rect x="519.34" y="397.96" width="7.77" height="6.64" fill="#85e15b"/>
<rect x="526.12" y="397.96" width="7.77" height="6.64" fill="#7fdb63"/>
<rect x="532.89" y="397.96" width="7.77" height="6.64" fill="#7fdb63"/>
<rect x="539.66" y="397.96" width="7.77" height="6.64" fill="#75d16d"/>
<rect x="546.43" y="397.96" width="7.77" height="6.64" fill="#5bbf82"/>
<rect x="553.20" y="397.96" width="7.77" height="6.64" fill="#52b489"/>
<rect x="559.98" y="397.96" width="7.77" height="6.64" fill="#50a38b"/>
<rect x="566.75" y="397.96" width="7.77" height="6.64" fill="#4a928a"/>
<rect x="573.52" y="397.96" width="7.77" height="6.64" fill="#488b8a"/>
<rect x="580.29" y="397.96" width="7.77" height="6.64" fill="#488b8a"/>
<rect x="587.06" y="397.96" width="7.77" height="6.64" fill="#447b8c"/>
<rect x="593.84" y="397.96" width="7.77" height="6.64" fill="#46688a"/>
<rect x="600.61" y="397.96" width="7.77" height="6.64" fill="#46688a"/>
<rect x="607.38" y="397.96" width="7.77" height="6.64" fill="#475889"/>
<rect x="614.15" y="397.96" width="7.77" height="6.64" fill="#445388"/>
<rect x="620.92" y="397.96" width="7.77" height="6.64" fill="#424d86"/>
<rect x="627.70" y="397.96" width="7.77" height="6.64" fill="#424884"/>
<rect x="634.47" y="397.96" width="7.77" height="6.64" fill="#443e7e"/>
<rect x="641.24" y="397.96" width="7.77" height="6.64" fill="#453679"/>
<rect x="648.01" y="397.96" width="7.77" height="6.64" fill="#472e74"/>
<rect x="654.78" y="397.96" width="7.77" height="6.64" fill="#472e74"/>
<rect x="661.56" y="397.96" width="7.77" height="6.64" fill="#48226e"/>
<rect x="668.33" y="397.96" width="6.77" height="6.64" fill="#48226e"/>
<rect x="505.80" y="403.61" width="7.77" height="6.64" fill="#d0ea49"/>
<rect x="512.57" y="403.61" width="7.77" height="6.64" fill="#85e15b"/>
<rect x="519.34" y="403.61" width="7.77" height="6.64" fill="#7fdb63"/>
<rect x="526.12" y="403.61" width="7.77" height="6.64" fill="#6bc878"/>
<rect x="532.89" y="403.61" width="7.77" height="6.64" fill="#5bbf82"/>
<rect x="539.66" y="403.61" width="7.77" height="6.64" fill="#52b489"/>
<rect x="546.43" y="403.61" width="7.77" height="6.64" fill="#52b489"/>
<rect x="553.20" y="403.61" width="7.77" height="6.64" fill="#52a98c"/>
<rect x="559.98" y="403.61" width="7.77" height="6.64" fill="#4a928a"/>
<rect x="566.75" y="403.61" width="7.77" height="6.64" fill="#488b8a"/>
<rect x="573.52" y="403.61" width="7.77" height="6.64" fill="#45808c"/>
<rect x="580.29" y="403.61" width="7.77" height="6.64" fill="#45808c"/>
<rect x="587.06" y="403.61" width="7.77" height="6.64" fill="#45738b"/>
<rect x="593.84" y="403.61" width="7.77" height="6.64" fill="#475889"/>
<rect x="600.61" y="403.61" width="7.77" height="6.64" fill="#475889"/>
<rect x="607.38" y="403.61" width="7.77" height="6.64" fill="#445388"/>
<rect x="614.15" y="403.61" width="7.77" height="6.64" fill="#424d86"/>
<rect x="620.92" y="403.61" width="7.77" height="6.64" fill="#424884"/>
<rect x="627.70" y="403.61" width="7.77" height="6.64" fill="#443e7e"/>
<rect x="634.47" y="403.61" width="7.77" height="6.64" fill="#44397c"/>
<rect x="641.24" y="403.61" width="7.77" height="6.64" fill="#463276"/>
<rect x="648.01" y="403.61" width="7.77" height="6.64" fill="#482971"/>
<rect x="654.78" y="403.61" width="7.77" height="6.64" fill="#482971"/>
<rect x="661.56" y="403.61" width="7.77" height="6.64" fill="#482971"/>
<rect x="668.33" y="403.61" width="6.77" height="6.64" fill="#481b6b"/>
<rect x="505.80" y="409.25" width="7.77" height="5.64" fill="#95e555"/>
<rect x="512.57" y="409.25" width="7.77" height="5.64" fill="#7fdb63"/>
<rect x="519.34" y="409.25" width="7.77" height="5.64" fill="#6bc878"/>
<rect x="526.12" y="409.25" width="7.77" height="5.64" fill="#5bbf82"/>
<rect x="532.89" y="409.25" width="7.77" height="5.64" fill="#52b489"/>
<rect x="539.66" y="409.25" width="7.77" height="5.64" fill="#52a98c"/>
<rect x="546.43" y="409.25" width="7.77" height="5.64" fill="#4d9e8a"/>
<rect x="553.20" y="409.25" width="7.77" height="5.64" fill="#4a928a"/>
<rect x="559.98" y="409.25" width="7.77" height="5.64" fill="#46858b"/>
<rect x="566.75" y="409.25" width="7.77" height="5.64" fill="#45808c"/>
<rect x="573.52" y="409.25" width="7.77" height="5.64" fill="#447b8c"/>
<rect x="580.29" y="409.25" width="7.77" height="5.64" fill="#45738b"/>
<rect x="587.06" y="409.25" width="7.77" height="5.64" fill="#485e8a"/>
<rect x="593.84" y="409.25" width="7.77" height="5.64" fill="#445388"/>
<rect x="600.61" y="409.25" width="7.77" height="5.64" fill="#424d86"/>
<rect x="607.38" y="409.25" width="7.77" height="5.64" fill="#424884"/>
<rect x="614.15" y="409.25" width="7.77" height="5.64" fill="#434381"/>
<rect x="620.92" y="409.25" width="7.77" height="5.64" fill="#443e7e"/>
<rect x="627.70" y="409.25" width="7.77" height="5.64" fill="#424884"/>
<rect x="634.47" y="409.25" width="7.77" height="5.64" fill="#453679"/>
<rect x="641.24" y="409.25" width="7.77" height="5.64" fill="#472e74"/>
<rect x="648.01" y="409.25" width="7.77" height="5.64" fill="#48226e"/>
<rect x="654.78" y="409.25" width="7.77" height="5.64" fill="#48226e"/>
<rect x="661.56" y="409.25" width="7.77" height="5.64" fill="#471668"/>
<rect x="668.33" y="409.25" width="6.77" height="5.64" fill="#440c60"/>
</g>
<g stroke="#fff" fill="none">
<path stroke-opacity="0.065" stroke-width="1" d="M505.80 307.64H675.10M505.80 313.29H675.10M505.80 318.94H675.10M505.80 324.58H675.10M505.80 330.23H675.10M505.80 335.87H675.10M505.80 341.51H675.10M505.80 347.16H675.10M505.80 352.81H675.10M505.80 358.45H675.10M505.80 364.10H675.10M505.80 369.74H675.10M505.80 375.38H675.10M505.80 381.03H675.10M505.80 386.68H675.10M505.80 392.32H675.10M505.80 397.96H675.10M505.80 403.61H675.10M505.80 409.25H675.10"/>
<path stroke-opacity="0.035" stroke-width="1" d="M512.57 302.00V414.90M519.34 302.00V414.90M526.12 302.00V414.90M532.89 302.00V414.90M539.66 302.00V414.90M546.43 302.00V414.90M553.20 302.00V414.90M559.98 302.00V414.90M566.75 302.00V414.90M573.52 302.00V414.90M580.29 302.00V414.90M587.06 302.00V414.90M593.84 302.00V414.90M600.61 302.00V414.90M607.38 302.00V414.90M614.15 302.00V414.90M620.92 302.00V414.90M627.70 302.00V414.90M634.47 302.00V414.90M641.24 302.00V414.90M648.01 302.00V414.90M654.78 302.00V414.90M661.56 302.00V414.90M668.33 302.00V414.90"/>
</g>
<g stroke="#000" stroke-width="1.07" fill="none">
<path d="M497.40 296.20V420.40H683.80"/>
<path d="M493.90 417.70H497.40"/>
<path d="M493.90 389.47H497.40"/>
<path d="M493.90 361.25H497.40"/>
<path d="M493.90 333.02H497.40"/>
<path d="M493.90 304.80H497.40"/>
<path d="M502.35 420.40V423.70"/>
<path d="M536.22 420.40V423.70"/>
<path d="M570.10 420.40V423.70"/>
<path d="M603.97 420.40V423.70"/>
<path d="M637.85 420.40V423.70"/>
<path d="M671.72 420.40V423.70"/>
</g>
<g fill="#2a2a2a" stroke="#2a2a2a" stroke-width="0.2" font-size="10.40">
<text transform="translate(491.20 421.60) scale(1 1.0)" text-anchor="end">0</text>
<text transform="translate(491.20 393.37) scale(1 1.0)" text-anchor="end">5</text>
<text transform="translate(491.20 365.15) scale(1 1.0)" text-anchor="end">10</text>
<text transform="translate(491.20 336.92) scale(1 1.0)" text-anchor="end">15</text>
<text transform="translate(491.20 308.70) scale(1 1.0)" text-anchor="end">20</text>
<text transform="translate(502.35 433.60) scale(1 1.0)" text-anchor="middle">0</text>
<text transform="translate(536.22 433.60) scale(1 1.0)" text-anchor="middle">5</text>
<text transform="translate(570.10 433.60) scale(1 1.0)" text-anchor="middle">10</text>
<text transform="translate(603.97 433.60) scale(1 1.0)" text-anchor="middle">15</text>
<text transform="translate(637.85 433.60) scale(1 1.0)" text-anchor="middle">20</text>
<text transform="translate(671.72 433.60) scale(1 1.0)" text-anchor="middle">25</text>
</g>
<text transform="translate(590.50 449.30) scale(1 1.04)" font-size="13" text-anchor="middle" fill="#000">Threshold (percentile)</text>
<text transform="translate(473.30 358.40) rotate(-90) scale(1 1.04)" font-size="13" text-anchor="middle" fill="#000">Minimum event duration (days)</text>
<text transform="translate(496.90 286.90) scale(1 1.04)" font-size="15.6" fill="#000">F) NZ-FoT-20m</text>
<text transform="translate(197.80 20.10) scale(1 1.04)" font-size="12.88" fill="#000">Percentage of MDW days occurrence</text>
<defs><linearGradient id="g0" x1="0" x2="1" y1="0" y2="0">
<stop offset="0.0000" stop-color="#7a0604"/>
<stop offset="0.0083" stop-color="#7e0a06"/>
<stop offset="0.0167" stop-color="#830f0a"/>
<stop offset="0.0250" stop-color="#89150e"/>
<stop offset="0.0333" stop-color="#8e1910"/>
<stop offset="0.0417" stop-color="#921c11"/>
<stop offset="0.0500" stop-color="#971f12"/>
<stop offset="0.0583" stop-color="#9c2213"/>
<stop offset="0.0667" stop-color="#a02613"/>
<stop offset="0.0750" stop-color="#a52914"/>
<stop offset="0.0833" stop-color="#ab2d15"/>
<stop offset="0.0917" stop-color="#b03117"/>
<stop offset="0.1000" stop-color="#b53418"/>
<stop offset="0.1083" stop-color="#bb3819"/>
<stop offset="0.1167" stop-color="#c03c1a"/>
<stop offset="0.1250" stop-color="#c43f1a"/>
<stop offset="0.1333" stop-color="#c8421b"/>
<stop offset="0.1417" stop-color="#cc451b"/>
<stop offset="0.1500" stop-color="#d0481c"/>
<stop offset="0.1583" stop-color="#d34c1c"/>
<stop offset="0.1667" stop-color="#d84f1d"/>
<stop offset="0.1750" stop-color="#dd521e"/>
<stop offset="0.1833" stop-color="#e1551f"/>
<stop offset="0.1917" stop-color="#e65920"/>
<stop offset="0.2000" stop-color="#e85d21"/>
<stop offset="0.2083" stop-color="#e96422"/>
<stop offset="0.2167" stop-color="#ea6a24"/>
<stop offset="0.2250" stop-color="#e97026"/>
<stop offset="0.2333" stop-color="#e87727"/>
<stop offset="0.2417" stop-color="#e77d29"/>
<stop offset="0.2500" stop-color="#e5842b"/>
<stop offset="0.2583" stop-color="#e48b2e"/>
<stop offset="0.2667" stop-color="#e39331"/>
<stop offset="0.2750" stop-color="#e29a34"/>
<stop offset="0.2833" stop-color="#e19f35"/>
<stop offset="0.2917" stop-color="#e1a436"/>
<stop offset="0.3000" stop-color="#e0a838"/>
<stop offset="0.3083" stop-color="#dfad39"/>
<stop offset="0.3167" stop-color="#deb13a"/>
<stop offset="0.3250" stop-color="#ddb53b"/>
<stop offset="0.3333" stop-color="#dcb93c"/>
<stop offset="0.3417" stop-color="#dbbf3f"/>
<stop offset="0.3500" stop-color="#d9c541"/>
<stop offset="0.3583" stop-color="#d8ca43"/>
<stop offset="0.3667" stop-color="#d8cf45"/>
<stop offset="0.3750" stop-color="#d7d446"/>
<stop offset="0.3833" stop-color="#d7d948"/>
<stop offset="0.3917" stop-color="#d6dd49"/>
<stop offset="0.4000" stop-color="#d5e14b"/>
<stop offset="0.4083" stop-color="#d3e34c"/>
<stop offset="0.4167" stop-color="#d0e44d"/>
<stop offset="0.4250" stop-color="#cee64f"/>
<stop offset="0.4333" stop-color="#cce850"/>
<stop offset="0.4417" stop-color="#c8eb53"/>
<stop offset="0.4500" stop-color="#c5ed55"/>
<stop offset="0.4583" stop-color="#c1ef57"/>
<stop offset="0.4667" stop-color="#bdf15a"/>
<stop offset="0.4750" stop-color="#b8f25e"/>
<stop offset="0.4833" stop-color="#b4f361"/>
<stop offset="0.4917" stop-color="#aff464"/>
<stop offset="0.5000" stop-color="#acf566"/>
<stop offset="0.5083" stop-color="#a9f667"/>
<stop offset="0.5167" stop-color="#a6f768"/>
<stop offset="0.5250" stop-color="#a2f86a"/>
<stop offset="0.5333" stop-color="#9ef86f"/>
<stop offset="0.5417" stop-color="#99f874"/>
<stop offset="0.5500" stop-color="#95f87a"/>
<stop offset="0.5583" stop-color="#90f980"/>
<stop offset="0.5667" stop-color="#8cf985"/>
<stop offset="0.5750" stop-color="#88f98b"/>
<stop offset="0.5833" stop-color="#84fa91"/>
<stop offset="0.5917" stop-color="#80fa97"/>
<stop offset="0.6000" stop-color="#80fa9c"/>
<stop offset="0.6083" stop-color="#80faa1"/>
<stop offset="0.6167" stop-color="#80faa6"/>
<stop offset="0.6250" stop-color="#81f9aa"/>
<stop offset="0.6333" stop-color="#82f7ae"/>
<stop offset="0.6417" stop-color="#83f5b1"/>
<stop offset="0.6500" stop-color="#84f3b5"/>
<stop offset="0.6583" stop-color="#83f0b8"/>
<stop offset="0.6667" stop-color="#83eebc"/>
<stop offset="0.6750" stop-color="#82ebbf"/>
<stop offset="0.6833" stop-color="#82e6c3"/>
<stop offset="0.6917" stop-color="#81e1c6"/>
<stop offset="0.7000" stop-color="#80dbca"/>
<stop offset="0.7083" stop-color="#7fd6cd"/>
<stop offset="0.7167" stop-color="#7dd2d1"/>
<stop offset="0.7250" stop-color="#7bcdd4"/>
<stop offset="0.7333" stop-color="#78c8d8"/>
<stop offset="0.7417" stop-color="#75c3dc"/>
<stop offset="0.7500" stop-color="#71bde1"/>
<stop offset="0.7583" stop-color="#6eb7e5"/>
<stop offset="0.7667" stop-color="#6bb2ea"/>
<stop offset="0.7750" stop-color="#68adef"/>
<stop offset="0.7833" stop-color="#64a9f3"/>
<stop offset="0.7917" stop-color="#63a7f7"/>
<stop offset="0.8000" stop-color="#63a5fa"/>
<stop offset="0.8083" stop-color="#61a2f9"/>
<stop offset="0.8167" stop-color="#5f9bf0"/>
<stop offset="0.8250" stop-color="#5d94e7"/>
<stop offset="0.8333" stop-color="#5a8dde"/>
<stop offset="0.8417" stop-color="#5986d6"/>
<stop offset="0.8500" stop-color="#577fcf"/>
<stop offset="0.8583" stop-color="#5578c8"/>
<stop offset="0.8667" stop-color="#5372c1"/>
<stop offset="0.8750" stop-color="#516cb9"/>
<stop offset="0.8833" stop-color="#4e66b1"/>
<stop offset="0.8917" stop-color="#4c60a9"/>
<stop offset="0.9000" stop-color="#4a5aa2"/>
<stop offset="0.9083" stop-color="#49549b"/>
<stop offset="0.9167" stop-color="#474d94"/>
<stop offset="0.9250" stop-color="#45478d"/>
<stop offset="0.9333" stop-color="#434286"/>
<stop offset="0.9417" stop-color="#423d7f"/>
<stop offset="0.9500" stop-color="#403878"/>
<stop offset="0.9583" stop-color="#3d336e"/>
<stop offset="0.9667" stop-color="#3a2d65"/>
<stop offset="0.9750" stop-color="#37285c"/>
<stop offset="0.9833" stop-color="#352252"/>
<stop offset="0.9917" stop-color="#321c49"/>
<stop offset="1.0000" stop-color="#30163f"/>
</linearGradient></defs>
<rect x="416.90" y="0.40" width="69.60" height="13.50" fill="url(#g0)"/>
<g stroke="#fff" stroke-width="0.8">
<path d="M438.45 0.40V3.00M438.45 11.30V13.90"/>
<path d="M460.00 0.40V3.00M460.00 11.30V13.90"/>
<path d="M481.54 0.40V3.00M481.54 11.30V13.90"/>
</g>
<g fill="#2a2a2a" stroke="#2a2a2a" stroke-width="0.2" font-size="10.40">
<text transform="translate(438.45 27.60) scale(1 1.0)" text-anchor="middle">10</text>
<text transform="translate(460.00 27.60) scale(1 1.0)" text-anchor="middle">20</text>
<text transform="translate(481.54 27.60) scale(1 1.0)" text-anchor="middle">30</text>
</g>
<text transform="translate(90.00 252.10) scale(1 1.04)" font-size="12.88" fill="#000">Mean percentage of light loss during MDW events compared to climatology</text>
<defs><linearGradient id="g232" x1="0" x2="1" y1="0" y2="0">
<stop offset="0.0000" stop-color="#eef03a"/>
<stop offset="0.0083" stop-color="#e9f03c"/>
<stop offset="0.0167" stop-color="#e7ef3d"/>
<stop offset="0.0250" stop-color="#e5ef3e"/>
<stop offset="0.0333" stop-color="#e4ee3f"/>
<stop offset="0.0417" stop-color="#e2ee40"/>
<stop offset="0.0500" stop-color="#dfed42"/>
<stop offset="0.0583" stop-color="#dcec43"/>
<stop offset="0.0667" stop-color="#d9ec45"/>
<stop offset="0.0750" stop-color="#d7eb46"/>
<stop offset="0.0833" stop-color="#d4ea48"/>
<stop offset="0.0917" stop-color="#cfea49"/>
<stop offset="0.1000" stop-color="#cae94a"/>
<stop offset="0.1083" stop-color="#c5e94b"/>
<stop offset="0.1167" stop-color="#c0e84c"/>
<stop offset="0.1250" stop-color="#bce84d"/>
<stop offset="0.1333" stop-color="#b7e74e"/>
<stop offset="0.1417" stop-color="#b2e74f"/>
<stop offset="0.1500" stop-color="#ade64f"/>
<stop offset="0.1583" stop-color="#a7e651"/>
<stop offset="0.1667" stop-color="#a1e552"/>
<stop offset="0.1750" stop-color="#9ae554"/>
<stop offset="0.1833" stop-color="#94e555"/>
<stop offset="0.1917" stop-color="#8de457"/>
<stop offset="0.2000" stop-color="#88e458"/>
<stop offset="0.2083" stop-color="#86e25a"/>
<stop offset="0.2167" stop-color="#85e15c"/>
<stop offset="0.2250" stop-color="#83df5e"/>
<stop offset="0.2333" stop-color="#81dd60"/>
<stop offset="0.2417" stop-color="#80dc62"/>
<stop offset="0.2500" stop-color="#7dd965"/>
<stop offset="0.2583" stop-color="#7ad668"/>
<stop offset="0.2667" stop-color="#77d36b"/>
<stop offset="0.2750" stop-color="#75d16d"/>
<stop offset="0.2833" stop-color="#72ce70"/>
<stop offset="0.2917" stop-color="#6fcb74"/>
<stop offset="0.3000" stop-color="#6dc977"/>
<stop offset="0.3083" stop-color="#6bc779"/>
<stop offset="0.3167" stop-color="#68c77a"/>
<stop offset="0.3250" stop-color="#66c67b"/>
<stop offset="0.3333" stop-color="#64c57d"/>
<stop offset="0.3417" stop-color="#62c47e"/>
<stop offset="0.3500" stop-color="#60c27f"/>
<stop offset="0.3583" stop-color="#5dc081"/>
<stop offset="0.3667" stop-color="#5bbf82"/>
<stop offset="0.3750" stop-color="#59bd84"/>
<stop offset="0.3833" stop-color="#56bb85"/>
<stop offset="0.3917" stop-color="#54ba87"/>
<stop offset="0.4000" stop-color="#52b888"/>
<stop offset="0.4083" stop-color="#52b689"/>
<stop offset="0.4167" stop-color="#52b489"/>
<stop offset="0.4250" stop-color="#52b28a"/>
<stop offset="0.4333" stop-color="#52af8a"/>
<stop offset="0.4417" stop-color="#52ad8b"/>
<stop offset="0.4500" stop-color="#52ab8b"/>
<stop offset="0.4583" stop-color="#52a98c"/>
<stop offset="0.4667" stop-color="#52a78c"/>
<stop offset="0.4750" stop-color="#51a58c"/>
<stop offset="0.4833" stop-color="#50a38b"/>
<stop offset="0.4917" stop-color="#4fa18b"/>
<stop offset="0.5000" stop-color="#4e9f8b"/>
<stop offset="0.5083" stop-color="#4d9d8a"/>
<stop offset="0.5167" stop-color="#4c9b8a"/>
<stop offset="0.5250" stop-color="#4b998a"/>
<stop offset="0.5333" stop-color="#4b978a"/>
<stop offset="0.5417" stop-color="#4a958a"/>
<stop offset="0.5500" stop-color="#4a938a"/>
<stop offset="0.5583" stop-color="#4a918a"/>
<stop offset="0.5667" stop-color="#498f8a"/>
<stop offset="0.5750" stop-color="#498d8a"/>
<stop offset="0.5833" stop-color="#488b8a"/>
<stop offset="0.5917" stop-color="#47888a"/>
<stop offset="0.6000" stop-color="#46858b"/>
<stop offset="0.6083" stop-color="#45828b"/>
<stop offset="0.6167" stop-color="#447f8c"/>
<stop offset="0.6250" stop-color="#447d8c"/>
<stop offset="0.6333" stop-color="#447d8c"/>
<stop offset="0.6417" stop-color="#447c8c"/>
<stop offset="0.6500" stop-color="#447b8c"/>
<stop offset="0.6583" stop-color="#447a8c"/>
<stop offset="0.6667" stop-color="#44768c"/>
<stop offset="0.6750" stop-color="#45738b"/>
<stop offset="0.6833" stop-color="#45708b"/>
<stop offset="0.6917" stop-color="#466d8a"/>
<stop offset="0.7000" stop-color="#466a8a"/>
<stop offset="0.7083" stop-color="#46678a"/>
<stop offset="0.7167" stop-color="#47658a"/>
<stop offset="0.7250" stop-color="#47628a"/>
<stop offset="0.7333" stop-color="#485f8a"/>
<stop offset="0.7417" stop-color="#485c8a"/>
<stop offset="0.7500" stop-color="#475989"/>
<stop offset="0.7583" stop-color="#465689"/>
<stop offset="0.7667" stop-color="#455388"/>
<stop offset="0.7750" stop-color="#445087"/>
<stop offset="0.7833" stop-color="#424d86"/>
<stop offset="0.7917" stop-color="#424a85"/>
<stop offset="0.8000" stop-color="#424884"/>
<stop offset="0.8083" stop-color="#434582"/>
<stop offset="0.8167" stop-color="#434281"/>
<stop offset="0.8250" stop-color="#43407f"/>
<stop offset="0.8333" stop-color="#443d7e"/>
<stop offset="0.8417" stop-color="#443b7c"/>
<stop offset="0.8500" stop-color="#44387b"/>
<stop offset="0.8583" stop-color="#453679"/>
<stop offset="0.8667" stop-color="#463478"/>
<stop offset="0.8750" stop-color="#463277"/>
<stop offset="0.8833" stop-color="#473075"/>
<stop offset="0.8917" stop-color="#472e74"/>
<stop offset="0.9000" stop-color="#482c72"/>
<stop offset="0.9083" stop-color="#482971"/>
<stop offset="0.9167" stop-color="#48256f"/>
<stop offset="0.9250" stop-color="#48216e"/>
<stop offset="0.9333" stop-color="#481d6c"/>
<stop offset="0.9417" stop-color="#48196a"/>
<stop offset="0.9500" stop-color="#471769"/>
<stop offset="0.9583" stop-color="#471567"/>
<stop offset="0.9667" stop-color="#461366"/>
<stop offset="0.9750" stop-color="#451164"/>
<stop offset="0.9833" stop-color="#440f63"/>
<stop offset="0.9917" stop-color="#440d61"/>
<stop offset="1.0000" stop-color="#440c60"/>
</linearGradient></defs>
<rect x="524.20" y="232.40" width="69.70" height="13.50" fill="url(#g232)"/>
<g stroke="#fff" stroke-width="0.8">
<path d="M545.50 232.40V235.00M545.50 243.30V245.90"/>
<path d="M567.01 232.40V235.00M567.01 243.30V245.90"/>
<path d="M588.52 232.40V235.00M588.52 243.30V245.90"/>
</g>
<g fill="#2a2a2a" stroke="#2a2a2a" stroke-width="0.2" font-size="10.40">
<text transform="translate(545.50 259.60) scale(1 1.0)" text-anchor="middle">-90</text>
<text transform="translate(567.01 259.60) scale(1 1.0)" text-anchor="middle">-80</text>
<text transform="translate(588.52 259.60) scale(1 1.0)" text-anchor="middle">-70</text>
</g>
</svg></body></html>
